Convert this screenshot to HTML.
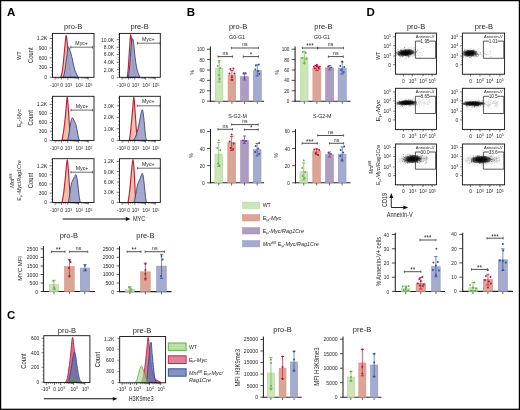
<!DOCTYPE html>
<html><head><meta charset="utf-8"><style>
html,body{margin:0;padding:0;background:#fff;}
svg{display:block;font-family:"Liberation Sans", sans-serif;will-change:transform;}
text{stroke:none;}
</style></head><body>
<svg width="520" height="410" viewBox="0 0 520 410">
<rect width="520" height="410" fill="#fff"/>
<rect x="0.60" y="0.60" width="518.80" height="408.70" fill="none" stroke="#000" stroke-width="1.25" />
<text x="7.00" y="16.40" font-size="11.5" text-anchor="start" fill="#000" font-weight="bold" >A</text>
<text x="186.80" y="16.40" font-size="11.5" text-anchor="start" fill="#000" font-weight="bold" >B</text>
<text x="366.60" y="16.40" font-size="11.5" text-anchor="start" fill="#000" font-weight="bold" >D</text>
<text x="7.10" y="319.40" font-size="11.5" text-anchor="start" fill="#000" font-weight="bold" >C</text>
<text x="73.20" y="28.70" font-size="7.5" text-anchor="middle" fill="#231f20" >pro-B</text>
<text x="139.60" y="28.70" font-size="7.5" text-anchor="middle" fill="#231f20" >pre-B</text>
<text x="47.10" y="40.30" font-size="5.0" text-anchor="end" fill="#231f20" >1.2K</text>
<line x1="49.70" y1="38.50" x2="52.50" y2="38.50" stroke="#231f20" stroke-width="0.65" />
<text x="47.10" y="49.80" font-size="5.0" text-anchor="end" fill="#231f20" >900</text>
<line x1="49.70" y1="48.00" x2="52.50" y2="48.00" stroke="#231f20" stroke-width="0.65" />
<text x="47.10" y="59.60" font-size="5.0" text-anchor="end" fill="#231f20" >600</text>
<line x1="49.70" y1="57.80" x2="52.50" y2="57.80" stroke="#231f20" stroke-width="0.65" />
<text x="47.10" y="69.30" font-size="5.0" text-anchor="end" fill="#231f20" >300</text>
<line x1="49.70" y1="67.50" x2="52.50" y2="67.50" stroke="#231f20" stroke-width="0.65" />
<text x="47.10" y="79.10" font-size="5.0" text-anchor="end" fill="#231f20" >0</text>
<line x1="49.70" y1="77.30" x2="52.50" y2="77.30" stroke="#231f20" stroke-width="0.65" />
<line x1="51.00" y1="74.07" x2="52.50" y2="74.07" stroke="#231f20" stroke-width="0.5" />
<line x1="51.00" y1="70.83" x2="52.50" y2="70.83" stroke="#231f20" stroke-width="0.5" />
<line x1="51.00" y1="64.37" x2="52.50" y2="64.37" stroke="#231f20" stroke-width="0.5" />
<line x1="51.00" y1="61.13" x2="52.50" y2="61.13" stroke="#231f20" stroke-width="0.5" />
<line x1="51.00" y1="54.67" x2="52.50" y2="54.67" stroke="#231f20" stroke-width="0.5" />
<line x1="51.00" y1="51.43" x2="52.50" y2="51.43" stroke="#231f20" stroke-width="0.5" />
<line x1="51.00" y1="44.97" x2="52.50" y2="44.97" stroke="#231f20" stroke-width="0.5" />
<line x1="51.00" y1="41.73" x2="52.50" y2="41.73" stroke="#231f20" stroke-width="0.5" />
<line x1="51.00" y1="35.27" x2="52.50" y2="35.27" stroke="#231f20" stroke-width="0.5" />
<text x="54.50" y="87.20" font-size="4.8" text-anchor="middle" fill="#231f20" >-10<tspan font-size="70%" dy="-1.6">3</tspan></text>
<text x="61.60" y="87.20" font-size="4.8" text-anchor="middle" fill="#231f20" >0</text>
<text x="68.40" y="87.20" font-size="4.8" text-anchor="middle" fill="#231f20" >10<tspan font-size="70%" dy="-1.6">3</tspan></text>
<text x="79.15" y="87.20" font-size="4.8" text-anchor="middle" fill="#231f20" >10<tspan font-size="70%" dy="-1.6">4</tspan></text>
<text x="88.80" y="87.20" font-size="4.8" text-anchor="middle" fill="#231f20" >10<tspan font-size="70%" dy="-1.6">5</tspan></text>
<line x1="55.10" y1="77.30" x2="55.10" y2="79.60" stroke="#231f20" stroke-width="0.65" />
<line x1="61.60" y1="77.30" x2="61.60" y2="79.60" stroke="#231f20" stroke-width="0.65" />
<line x1="67.80" y1="77.30" x2="67.80" y2="79.60" stroke="#231f20" stroke-width="0.65" />
<line x1="78.55" y1="77.30" x2="78.55" y2="79.60" stroke="#231f20" stroke-width="0.65" />
<line x1="88.20" y1="77.30" x2="88.20" y2="79.60" stroke="#231f20" stroke-width="0.65" />
<line x1="56.73" y1="77.30" x2="56.73" y2="78.70" stroke="#231f20" stroke-width="0.45" />
<line x1="58.35" y1="77.30" x2="58.35" y2="78.70" stroke="#231f20" stroke-width="0.45" />
<line x1="59.98" y1="77.30" x2="59.98" y2="78.70" stroke="#231f20" stroke-width="0.45" />
<line x1="63.65" y1="77.30" x2="63.65" y2="78.70" stroke="#231f20" stroke-width="0.45" />
<line x1="65.69" y1="77.30" x2="65.69" y2="78.70" stroke="#231f20" stroke-width="0.45" />
<line x1="71.04" y1="77.30" x2="71.04" y2="78.70" stroke="#231f20" stroke-width="0.45" />
<line x1="72.93" y1="77.30" x2="72.93" y2="78.70" stroke="#231f20" stroke-width="0.45" />
<line x1="74.27" y1="77.30" x2="74.27" y2="78.70" stroke="#231f20" stroke-width="0.45" />
<line x1="75.31" y1="77.30" x2="75.31" y2="78.70" stroke="#231f20" stroke-width="0.45" />
<line x1="76.17" y1="77.30" x2="76.17" y2="78.70" stroke="#231f20" stroke-width="0.45" />
<line x1="76.88" y1="77.30" x2="76.88" y2="78.70" stroke="#231f20" stroke-width="0.45" />
<line x1="77.51" y1="77.30" x2="77.51" y2="78.70" stroke="#231f20" stroke-width="0.45" />
<line x1="78.06" y1="77.30" x2="78.06" y2="78.70" stroke="#231f20" stroke-width="0.45" />
<line x1="81.45" y1="77.30" x2="81.45" y2="78.70" stroke="#231f20" stroke-width="0.45" />
<line x1="83.15" y1="77.30" x2="83.15" y2="78.70" stroke="#231f20" stroke-width="0.45" />
<line x1="84.36" y1="77.30" x2="84.36" y2="78.70" stroke="#231f20" stroke-width="0.45" />
<line x1="85.30" y1="77.30" x2="85.30" y2="78.70" stroke="#231f20" stroke-width="0.45" />
<line x1="86.06" y1="77.30" x2="86.06" y2="78.70" stroke="#231f20" stroke-width="0.45" />
<line x1="86.71" y1="77.30" x2="86.71" y2="78.70" stroke="#231f20" stroke-width="0.45" />
<line x1="87.26" y1="77.30" x2="87.26" y2="78.70" stroke="#231f20" stroke-width="0.45" />
<line x1="87.76" y1="77.30" x2="87.76" y2="78.70" stroke="#231f20" stroke-width="0.45" />
<path d="M60.80,77.30 C61.08,76.08 61.97,73.55 62.50,70.00 C63.03,66.45 63.55,60.50 64.00,56.00 C64.45,51.50 64.87,46.40 65.20,43.00 C65.53,39.60 65.72,36.10 66.00,35.60 C66.28,35.10 66.60,37.77 66.90,40.00 C67.20,42.23 67.48,45.50 67.80,49.00 C68.12,52.50 68.43,57.17 68.80,61.00 C69.17,64.83 69.55,69.28 70.00,72.00 C70.45,74.72 71.25,76.42 71.50,77.30 Z" fill="#f1c0a6" stroke="#be1e3c" stroke-width="1.15" fill-opacity="1.0" stroke-linejoin="round"/>
<path d="M63.30,77.30 C63.55,76.25 64.30,73.88 64.80,71.00 C65.30,68.12 65.83,63.50 66.30,60.00 C66.77,56.50 67.27,52.20 67.60,50.00 C67.93,47.80 67.98,46.97 68.30,46.80 C68.62,46.63 69.05,47.80 69.50,49.00 C69.95,50.20 70.53,52.33 71.00,54.00 C71.47,55.67 71.88,57.17 72.30,59.00 C72.72,60.83 73.05,63.08 73.50,65.00 C73.95,66.92 74.50,69.00 75.00,70.50 C75.50,72.00 75.97,72.87 76.50,74.00 C77.03,75.13 77.92,76.75 78.20,77.30 Z" fill="#9da1c8" stroke="#2f4586" stroke-width="0.9" fill-opacity="0.92" stroke-linejoin="round"/>
<rect x="52.50" y="33.40" width="41.50" height="43.90" fill="none" stroke="#111" stroke-width="0.9" />
<line x1="70.80" y1="47.20" x2="92.60" y2="47.20" stroke="#333" stroke-width="0.7" />
<line x1="70.80" y1="45.90" x2="70.80" y2="48.50" stroke="#333" stroke-width="0.7" />
<line x1="92.60" y1="45.90" x2="92.60" y2="48.50" stroke="#333" stroke-width="0.7" />
<text x="81.60" y="44.77" font-size="5.2" text-anchor="middle" fill="#231f20" >Myc+</text>
<text x="114.10" y="41.50" font-size="5.0" text-anchor="end" fill="#231f20" >10.0K</text>
<line x1="116.70" y1="39.70" x2="119.50" y2="39.70" stroke="#231f20" stroke-width="0.65" />
<text x="114.10" y="49.00" font-size="5.0" text-anchor="end" fill="#231f20" >8.0K</text>
<line x1="116.70" y1="47.20" x2="119.50" y2="47.20" stroke="#231f20" stroke-width="0.65" />
<text x="114.10" y="56.40" font-size="5.0" text-anchor="end" fill="#231f20" >6.0K</text>
<line x1="116.70" y1="54.60" x2="119.50" y2="54.60" stroke="#231f20" stroke-width="0.65" />
<text x="114.10" y="64.00" font-size="5.0" text-anchor="end" fill="#231f20" >4.0K</text>
<line x1="116.70" y1="62.20" x2="119.50" y2="62.20" stroke="#231f20" stroke-width="0.65" />
<text x="114.10" y="71.50" font-size="5.0" text-anchor="end" fill="#231f20" >2.0K</text>
<line x1="116.70" y1="69.70" x2="119.50" y2="69.70" stroke="#231f20" stroke-width="0.65" />
<text x="114.10" y="79.10" font-size="5.0" text-anchor="end" fill="#231f20" >0</text>
<line x1="116.70" y1="77.30" x2="119.50" y2="77.30" stroke="#231f20" stroke-width="0.65" />
<line x1="118.00" y1="74.79" x2="119.50" y2="74.79" stroke="#231f20" stroke-width="0.5" />
<line x1="118.00" y1="72.29" x2="119.50" y2="72.29" stroke="#231f20" stroke-width="0.5" />
<line x1="118.00" y1="67.27" x2="119.50" y2="67.27" stroke="#231f20" stroke-width="0.5" />
<line x1="118.00" y1="64.77" x2="119.50" y2="64.77" stroke="#231f20" stroke-width="0.5" />
<line x1="118.00" y1="59.75" x2="119.50" y2="59.75" stroke="#231f20" stroke-width="0.5" />
<line x1="118.00" y1="57.25" x2="119.50" y2="57.25" stroke="#231f20" stroke-width="0.5" />
<line x1="118.00" y1="52.23" x2="119.50" y2="52.23" stroke="#231f20" stroke-width="0.5" />
<line x1="118.00" y1="49.73" x2="119.50" y2="49.73" stroke="#231f20" stroke-width="0.5" />
<line x1="118.00" y1="44.71" x2="119.50" y2="44.71" stroke="#231f20" stroke-width="0.5" />
<line x1="118.00" y1="42.21" x2="119.50" y2="42.21" stroke="#231f20" stroke-width="0.5" />
<line x1="118.00" y1="37.19" x2="119.50" y2="37.19" stroke="#231f20" stroke-width="0.5" />
<line x1="118.00" y1="34.69" x2="119.50" y2="34.69" stroke="#231f20" stroke-width="0.5" />
<text x="121.50" y="87.20" font-size="4.8" text-anchor="middle" fill="#231f20" >-10<tspan font-size="70%" dy="-1.6">3</tspan></text>
<text x="128.60" y="87.20" font-size="4.8" text-anchor="middle" fill="#231f20" >0</text>
<text x="135.40" y="87.20" font-size="4.8" text-anchor="middle" fill="#231f20" >10<tspan font-size="70%" dy="-1.6">3</tspan></text>
<text x="146.15" y="87.20" font-size="4.8" text-anchor="middle" fill="#231f20" >10<tspan font-size="70%" dy="-1.6">4</tspan></text>
<text x="155.80" y="87.20" font-size="4.8" text-anchor="middle" fill="#231f20" >10<tspan font-size="70%" dy="-1.6">5</tspan></text>
<line x1="122.10" y1="77.30" x2="122.10" y2="79.60" stroke="#231f20" stroke-width="0.65" />
<line x1="128.60" y1="77.30" x2="128.60" y2="79.60" stroke="#231f20" stroke-width="0.65" />
<line x1="134.80" y1="77.30" x2="134.80" y2="79.60" stroke="#231f20" stroke-width="0.65" />
<line x1="145.55" y1="77.30" x2="145.55" y2="79.60" stroke="#231f20" stroke-width="0.65" />
<line x1="155.20" y1="77.30" x2="155.20" y2="79.60" stroke="#231f20" stroke-width="0.65" />
<line x1="123.72" y1="77.30" x2="123.72" y2="78.70" stroke="#231f20" stroke-width="0.45" />
<line x1="125.35" y1="77.30" x2="125.35" y2="78.70" stroke="#231f20" stroke-width="0.45" />
<line x1="126.97" y1="77.30" x2="126.97" y2="78.70" stroke="#231f20" stroke-width="0.45" />
<line x1="130.65" y1="77.30" x2="130.65" y2="78.70" stroke="#231f20" stroke-width="0.45" />
<line x1="132.69" y1="77.30" x2="132.69" y2="78.70" stroke="#231f20" stroke-width="0.45" />
<line x1="138.04" y1="77.30" x2="138.04" y2="78.70" stroke="#231f20" stroke-width="0.45" />
<line x1="139.93" y1="77.30" x2="139.93" y2="78.70" stroke="#231f20" stroke-width="0.45" />
<line x1="141.27" y1="77.30" x2="141.27" y2="78.70" stroke="#231f20" stroke-width="0.45" />
<line x1="142.31" y1="77.30" x2="142.31" y2="78.70" stroke="#231f20" stroke-width="0.45" />
<line x1="143.17" y1="77.30" x2="143.17" y2="78.70" stroke="#231f20" stroke-width="0.45" />
<line x1="143.88" y1="77.30" x2="143.88" y2="78.70" stroke="#231f20" stroke-width="0.45" />
<line x1="144.51" y1="77.30" x2="144.51" y2="78.70" stroke="#231f20" stroke-width="0.45" />
<line x1="145.06" y1="77.30" x2="145.06" y2="78.70" stroke="#231f20" stroke-width="0.45" />
<line x1="148.45" y1="77.30" x2="148.45" y2="78.70" stroke="#231f20" stroke-width="0.45" />
<line x1="150.15" y1="77.30" x2="150.15" y2="78.70" stroke="#231f20" stroke-width="0.45" />
<line x1="151.36" y1="77.30" x2="151.36" y2="78.70" stroke="#231f20" stroke-width="0.45" />
<line x1="152.30" y1="77.30" x2="152.30" y2="78.70" stroke="#231f20" stroke-width="0.45" />
<line x1="153.06" y1="77.30" x2="153.06" y2="78.70" stroke="#231f20" stroke-width="0.45" />
<line x1="153.71" y1="77.30" x2="153.71" y2="78.70" stroke="#231f20" stroke-width="0.45" />
<line x1="154.26" y1="77.30" x2="154.26" y2="78.70" stroke="#231f20" stroke-width="0.45" />
<line x1="154.76" y1="77.30" x2="154.76" y2="78.70" stroke="#231f20" stroke-width="0.45" />
<path d="M127.30,77.30 C127.47,75.75 127.97,72.22 128.30,68.00 C128.63,63.78 129.00,56.67 129.30,52.00 C129.60,47.33 129.87,42.90 130.10,40.00 C130.33,37.10 130.47,34.60 130.70,34.60 C130.93,34.60 131.20,36.60 131.50,40.00 C131.80,43.40 132.12,50.33 132.50,55.00 C132.88,59.67 133.30,64.28 133.80,68.00 C134.30,71.72 135.22,75.75 135.50,77.30 Z" fill="#f1c0a6" stroke="#be1e3c" stroke-width="1.15" fill-opacity="1.0" stroke-linejoin="round"/>
<path d="M128.30,77.30 C128.50,75.75 129.12,71.88 129.50,68.00 C129.88,64.12 130.25,58.33 130.60,54.00 C130.95,49.67 131.28,44.57 131.60,42.00 C131.92,39.43 132.20,38.77 132.50,38.60 C132.80,38.43 133.07,38.77 133.40,41.00 C133.73,43.23 134.07,48.17 134.50,52.00 C134.93,55.83 135.45,60.67 136.00,64.00 C136.55,67.33 137.13,69.78 137.80,72.00 C138.47,74.22 139.63,76.42 140.00,77.30 Z" fill="#9da1c8" stroke="#2f4586" stroke-width="0.9" fill-opacity="0.92" stroke-linejoin="round"/>
<rect x="119.50" y="33.40" width="40.80" height="43.90" fill="none" stroke="#111" stroke-width="0.9" />
<line x1="137.40" y1="43.20" x2="160.10" y2="43.20" stroke="#333" stroke-width="0.7" />
<line x1="137.40" y1="41.90" x2="137.40" y2="44.50" stroke="#333" stroke-width="0.7" />
<line x1="160.10" y1="41.90" x2="160.10" y2="44.50" stroke="#333" stroke-width="0.7" />
<text x="148.30" y="40.87" font-size="5.2" text-anchor="middle" fill="#231f20" >Myc+</text>
<text x="47.10" y="106.40" font-size="5.0" text-anchor="end" fill="#231f20" >1.2K</text>
<line x1="49.70" y1="104.60" x2="52.50" y2="104.60" stroke="#231f20" stroke-width="0.65" />
<text x="47.10" y="115.20" font-size="5.0" text-anchor="end" fill="#231f20" >900</text>
<line x1="49.70" y1="113.40" x2="52.50" y2="113.40" stroke="#231f20" stroke-width="0.65" />
<text x="47.10" y="124.30" font-size="5.0" text-anchor="end" fill="#231f20" >600</text>
<line x1="49.70" y1="122.50" x2="52.50" y2="122.50" stroke="#231f20" stroke-width="0.65" />
<text x="47.10" y="133.00" font-size="5.0" text-anchor="end" fill="#231f20" >300</text>
<line x1="49.70" y1="131.20" x2="52.50" y2="131.20" stroke="#231f20" stroke-width="0.65" />
<text x="47.10" y="142.20" font-size="5.0" text-anchor="end" fill="#231f20" >0</text>
<line x1="49.70" y1="140.40" x2="52.50" y2="140.40" stroke="#231f20" stroke-width="0.65" />
<line x1="51.00" y1="137.42" x2="52.50" y2="137.42" stroke="#231f20" stroke-width="0.5" />
<line x1="51.00" y1="134.43" x2="52.50" y2="134.43" stroke="#231f20" stroke-width="0.5" />
<line x1="51.00" y1="128.47" x2="52.50" y2="128.47" stroke="#231f20" stroke-width="0.5" />
<line x1="51.00" y1="125.48" x2="52.50" y2="125.48" stroke="#231f20" stroke-width="0.5" />
<line x1="51.00" y1="119.52" x2="52.50" y2="119.52" stroke="#231f20" stroke-width="0.5" />
<line x1="51.00" y1="116.53" x2="52.50" y2="116.53" stroke="#231f20" stroke-width="0.5" />
<line x1="51.00" y1="110.57" x2="52.50" y2="110.57" stroke="#231f20" stroke-width="0.5" />
<line x1="51.00" y1="107.58" x2="52.50" y2="107.58" stroke="#231f20" stroke-width="0.5" />
<line x1="51.00" y1="101.62" x2="52.50" y2="101.62" stroke="#231f20" stroke-width="0.5" />
<line x1="51.00" y1="98.63" x2="52.50" y2="98.63" stroke="#231f20" stroke-width="0.5" />
<text x="54.50" y="150.30" font-size="4.8" text-anchor="middle" fill="#231f20" >-10<tspan font-size="70%" dy="-1.6">3</tspan></text>
<text x="61.60" y="150.30" font-size="4.8" text-anchor="middle" fill="#231f20" >0</text>
<text x="68.40" y="150.30" font-size="4.8" text-anchor="middle" fill="#231f20" >10<tspan font-size="70%" dy="-1.6">3</tspan></text>
<text x="79.15" y="150.30" font-size="4.8" text-anchor="middle" fill="#231f20" >10<tspan font-size="70%" dy="-1.6">4</tspan></text>
<text x="88.80" y="150.30" font-size="4.8" text-anchor="middle" fill="#231f20" >10<tspan font-size="70%" dy="-1.6">5</tspan></text>
<line x1="55.10" y1="140.40" x2="55.10" y2="142.70" stroke="#231f20" stroke-width="0.65" />
<line x1="61.60" y1="140.40" x2="61.60" y2="142.70" stroke="#231f20" stroke-width="0.65" />
<line x1="67.80" y1="140.40" x2="67.80" y2="142.70" stroke="#231f20" stroke-width="0.65" />
<line x1="78.55" y1="140.40" x2="78.55" y2="142.70" stroke="#231f20" stroke-width="0.65" />
<line x1="88.20" y1="140.40" x2="88.20" y2="142.70" stroke="#231f20" stroke-width="0.65" />
<line x1="56.73" y1="140.40" x2="56.73" y2="141.80" stroke="#231f20" stroke-width="0.45" />
<line x1="58.35" y1="140.40" x2="58.35" y2="141.80" stroke="#231f20" stroke-width="0.45" />
<line x1="59.98" y1="140.40" x2="59.98" y2="141.80" stroke="#231f20" stroke-width="0.45" />
<line x1="63.65" y1="140.40" x2="63.65" y2="141.80" stroke="#231f20" stroke-width="0.45" />
<line x1="65.69" y1="140.40" x2="65.69" y2="141.80" stroke="#231f20" stroke-width="0.45" />
<line x1="71.04" y1="140.40" x2="71.04" y2="141.80" stroke="#231f20" stroke-width="0.45" />
<line x1="72.93" y1="140.40" x2="72.93" y2="141.80" stroke="#231f20" stroke-width="0.45" />
<line x1="74.27" y1="140.40" x2="74.27" y2="141.80" stroke="#231f20" stroke-width="0.45" />
<line x1="75.31" y1="140.40" x2="75.31" y2="141.80" stroke="#231f20" stroke-width="0.45" />
<line x1="76.17" y1="140.40" x2="76.17" y2="141.80" stroke="#231f20" stroke-width="0.45" />
<line x1="76.88" y1="140.40" x2="76.88" y2="141.80" stroke="#231f20" stroke-width="0.45" />
<line x1="77.51" y1="140.40" x2="77.51" y2="141.80" stroke="#231f20" stroke-width="0.45" />
<line x1="78.06" y1="140.40" x2="78.06" y2="141.80" stroke="#231f20" stroke-width="0.45" />
<line x1="81.45" y1="140.40" x2="81.45" y2="141.80" stroke="#231f20" stroke-width="0.45" />
<line x1="83.15" y1="140.40" x2="83.15" y2="141.80" stroke="#231f20" stroke-width="0.45" />
<line x1="84.36" y1="140.40" x2="84.36" y2="141.80" stroke="#231f20" stroke-width="0.45" />
<line x1="85.30" y1="140.40" x2="85.30" y2="141.80" stroke="#231f20" stroke-width="0.45" />
<line x1="86.06" y1="140.40" x2="86.06" y2="141.80" stroke="#231f20" stroke-width="0.45" />
<line x1="86.71" y1="140.40" x2="86.71" y2="141.80" stroke="#231f20" stroke-width="0.45" />
<line x1="87.26" y1="140.40" x2="87.26" y2="141.80" stroke="#231f20" stroke-width="0.45" />
<line x1="87.76" y1="140.40" x2="87.76" y2="141.80" stroke="#231f20" stroke-width="0.45" />
<path d="M62.00,140.40 C62.25,139.00 63.00,135.40 63.50,132.00 C64.00,128.60 64.53,124.33 65.00,120.00 C65.47,115.67 65.93,109.80 66.30,106.00 C66.67,102.20 66.92,97.53 67.20,97.20 C67.48,96.87 67.73,100.87 68.00,104.00 C68.27,107.13 68.53,112.00 68.80,116.00 C69.07,120.00 69.30,123.93 69.60,128.00 C69.90,132.07 70.43,138.33 70.60,140.40 Z" fill="#f1c0a6" stroke="#be1e3c" stroke-width="1.15" fill-opacity="1.0" stroke-linejoin="round"/>
<path d="M67.50,140.40 C67.67,139.67 68.17,137.73 68.50,136.00 C68.83,134.27 69.17,132.00 69.50,130.00 C69.83,128.00 70.17,125.75 70.50,124.00 C70.83,122.25 71.20,120.55 71.50,119.50 C71.80,118.45 72.00,117.78 72.30,117.70 C72.60,117.62 72.90,118.33 73.30,119.00 C73.70,119.67 74.25,120.70 74.70,121.70 C75.15,122.70 75.58,123.45 76.00,125.00 C76.42,126.55 76.82,129.00 77.20,131.00 C77.58,133.00 77.93,135.43 78.30,137.00 C78.67,138.57 79.22,139.83 79.40,140.40 Z" fill="#9da1c8" stroke="#2f4586" stroke-width="0.9" fill-opacity="0.92" stroke-linejoin="round"/>
<rect x="52.50" y="96.30" width="41.50" height="44.10" fill="none" stroke="#111" stroke-width="0.9" />
<line x1="71.00" y1="110.10" x2="92.60" y2="110.10" stroke="#333" stroke-width="0.7" />
<line x1="71.00" y1="108.80" x2="71.00" y2="111.40" stroke="#333" stroke-width="0.7" />
<line x1="92.60" y1="108.80" x2="92.60" y2="111.40" stroke="#333" stroke-width="0.7" />
<text x="82.00" y="107.67" font-size="5.2" text-anchor="middle" fill="#231f20" >Myc+</text>
<text x="114.10" y="107.60" font-size="5.0" text-anchor="end" fill="#231f20" >3.0K</text>
<line x1="116.70" y1="105.80" x2="119.50" y2="105.80" stroke="#231f20" stroke-width="0.65" />
<text x="114.10" y="119.20" font-size="5.0" text-anchor="end" fill="#231f20" >2.0K</text>
<line x1="116.70" y1="117.40" x2="119.50" y2="117.40" stroke="#231f20" stroke-width="0.65" />
<text x="114.10" y="130.60" font-size="5.0" text-anchor="end" fill="#231f20" >1.0K</text>
<line x1="116.70" y1="128.80" x2="119.50" y2="128.80" stroke="#231f20" stroke-width="0.65" />
<text x="114.10" y="142.20" font-size="5.0" text-anchor="end" fill="#231f20" >0</text>
<line x1="116.70" y1="140.40" x2="119.50" y2="140.40" stroke="#231f20" stroke-width="0.65" />
<line x1="118.00" y1="136.56" x2="119.50" y2="136.56" stroke="#231f20" stroke-width="0.5" />
<line x1="118.00" y1="132.71" x2="119.50" y2="132.71" stroke="#231f20" stroke-width="0.5" />
<line x1="118.00" y1="125.02" x2="119.50" y2="125.02" stroke="#231f20" stroke-width="0.5" />
<line x1="118.00" y1="121.18" x2="119.50" y2="121.18" stroke="#231f20" stroke-width="0.5" />
<line x1="118.00" y1="113.49" x2="119.50" y2="113.49" stroke="#231f20" stroke-width="0.5" />
<line x1="118.00" y1="109.64" x2="119.50" y2="109.64" stroke="#231f20" stroke-width="0.5" />
<line x1="118.00" y1="101.96" x2="119.50" y2="101.96" stroke="#231f20" stroke-width="0.5" />
<line x1="118.00" y1="98.11" x2="119.50" y2="98.11" stroke="#231f20" stroke-width="0.5" />
<text x="121.50" y="150.30" font-size="4.8" text-anchor="middle" fill="#231f20" >-10<tspan font-size="70%" dy="-1.6">3</tspan></text>
<text x="128.60" y="150.30" font-size="4.8" text-anchor="middle" fill="#231f20" >0</text>
<text x="135.40" y="150.30" font-size="4.8" text-anchor="middle" fill="#231f20" >10<tspan font-size="70%" dy="-1.6">3</tspan></text>
<text x="146.15" y="150.30" font-size="4.8" text-anchor="middle" fill="#231f20" >10<tspan font-size="70%" dy="-1.6">4</tspan></text>
<text x="155.80" y="150.30" font-size="4.8" text-anchor="middle" fill="#231f20" >10<tspan font-size="70%" dy="-1.6">5</tspan></text>
<line x1="122.10" y1="140.40" x2="122.10" y2="142.70" stroke="#231f20" stroke-width="0.65" />
<line x1="128.60" y1="140.40" x2="128.60" y2="142.70" stroke="#231f20" stroke-width="0.65" />
<line x1="134.80" y1="140.40" x2="134.80" y2="142.70" stroke="#231f20" stroke-width="0.65" />
<line x1="145.55" y1="140.40" x2="145.55" y2="142.70" stroke="#231f20" stroke-width="0.65" />
<line x1="155.20" y1="140.40" x2="155.20" y2="142.70" stroke="#231f20" stroke-width="0.65" />
<line x1="123.72" y1="140.40" x2="123.72" y2="141.80" stroke="#231f20" stroke-width="0.45" />
<line x1="125.35" y1="140.40" x2="125.35" y2="141.80" stroke="#231f20" stroke-width="0.45" />
<line x1="126.97" y1="140.40" x2="126.97" y2="141.80" stroke="#231f20" stroke-width="0.45" />
<line x1="130.65" y1="140.40" x2="130.65" y2="141.80" stroke="#231f20" stroke-width="0.45" />
<line x1="132.69" y1="140.40" x2="132.69" y2="141.80" stroke="#231f20" stroke-width="0.45" />
<line x1="138.04" y1="140.40" x2="138.04" y2="141.80" stroke="#231f20" stroke-width="0.45" />
<line x1="139.93" y1="140.40" x2="139.93" y2="141.80" stroke="#231f20" stroke-width="0.45" />
<line x1="141.27" y1="140.40" x2="141.27" y2="141.80" stroke="#231f20" stroke-width="0.45" />
<line x1="142.31" y1="140.40" x2="142.31" y2="141.80" stroke="#231f20" stroke-width="0.45" />
<line x1="143.17" y1="140.40" x2="143.17" y2="141.80" stroke="#231f20" stroke-width="0.45" />
<line x1="143.88" y1="140.40" x2="143.88" y2="141.80" stroke="#231f20" stroke-width="0.45" />
<line x1="144.51" y1="140.40" x2="144.51" y2="141.80" stroke="#231f20" stroke-width="0.45" />
<line x1="145.06" y1="140.40" x2="145.06" y2="141.80" stroke="#231f20" stroke-width="0.45" />
<line x1="148.45" y1="140.40" x2="148.45" y2="141.80" stroke="#231f20" stroke-width="0.45" />
<line x1="150.15" y1="140.40" x2="150.15" y2="141.80" stroke="#231f20" stroke-width="0.45" />
<line x1="151.36" y1="140.40" x2="151.36" y2="141.80" stroke="#231f20" stroke-width="0.45" />
<line x1="152.30" y1="140.40" x2="152.30" y2="141.80" stroke="#231f20" stroke-width="0.45" />
<line x1="153.06" y1="140.40" x2="153.06" y2="141.80" stroke="#231f20" stroke-width="0.45" />
<line x1="153.71" y1="140.40" x2="153.71" y2="141.80" stroke="#231f20" stroke-width="0.45" />
<line x1="154.26" y1="140.40" x2="154.26" y2="141.80" stroke="#231f20" stroke-width="0.45" />
<line x1="154.76" y1="140.40" x2="154.76" y2="141.80" stroke="#231f20" stroke-width="0.45" />
<path d="M129.30,140.40 C129.47,139.33 129.97,136.73 130.30,134.00 C130.63,131.27 130.92,128.00 131.30,124.00 C131.68,120.00 132.18,114.45 132.60,110.00 C133.02,105.55 133.43,97.63 133.80,97.30 C134.17,96.97 134.47,103.88 134.80,108.00 C135.13,112.12 135.50,118.00 135.80,122.00 C136.10,126.00 136.32,128.93 136.60,132.00 C136.88,135.07 137.35,139.00 137.50,140.40 Z" fill="#f1c0a6" stroke="#be1e3c" stroke-width="1.15" fill-opacity="1.0" stroke-linejoin="round"/>
<path d="M133.30,140.40 C133.67,139.83 134.80,138.57 135.50,137.00 C136.20,135.43 136.88,133.33 137.50,131.00 C138.12,128.67 138.67,125.67 139.20,123.00 C139.73,120.33 140.20,117.20 140.70,115.00 C141.20,112.80 141.77,109.97 142.20,109.80 C142.63,109.63 142.95,111.80 143.30,114.00 C143.65,116.20 143.98,119.83 144.30,123.00 C144.62,126.17 144.92,130.42 145.20,133.00 C145.48,135.58 145.73,137.27 146.00,138.50 C146.27,139.73 146.67,140.08 146.80,140.40 Z" fill="#9da1c8" stroke="#2f4586" stroke-width="0.9" fill-opacity="0.92" stroke-linejoin="round"/>
<rect x="119.50" y="96.30" width="40.80" height="44.10" fill="none" stroke="#111" stroke-width="0.9" />
<line x1="137.20" y1="105.80" x2="160.10" y2="105.80" stroke="#333" stroke-width="0.7" />
<line x1="137.20" y1="104.50" x2="137.20" y2="107.10" stroke="#333" stroke-width="0.7" />
<line x1="160.10" y1="104.50" x2="160.10" y2="107.10" stroke="#333" stroke-width="0.7" />
<text x="148.30" y="103.27" font-size="5.2" text-anchor="middle" fill="#231f20" >Myc+</text>
<text x="47.10" y="167.60" font-size="5.0" text-anchor="end" fill="#231f20" >1.2K</text>
<line x1="49.70" y1="165.80" x2="52.50" y2="165.80" stroke="#231f20" stroke-width="0.65" />
<text x="47.10" y="176.70" font-size="5.0" text-anchor="end" fill="#231f20" >900</text>
<line x1="49.70" y1="174.90" x2="52.50" y2="174.90" stroke="#231f20" stroke-width="0.65" />
<text x="47.10" y="185.80" font-size="5.0" text-anchor="end" fill="#231f20" >600</text>
<line x1="49.70" y1="184.00" x2="52.50" y2="184.00" stroke="#231f20" stroke-width="0.65" />
<text x="47.10" y="194.90" font-size="5.0" text-anchor="end" fill="#231f20" >300</text>
<line x1="49.70" y1="193.10" x2="52.50" y2="193.10" stroke="#231f20" stroke-width="0.65" />
<text x="47.10" y="204.10" font-size="5.0" text-anchor="end" fill="#231f20" >0</text>
<line x1="49.70" y1="202.30" x2="52.50" y2="202.30" stroke="#231f20" stroke-width="0.65" />
<line x1="51.00" y1="199.26" x2="52.50" y2="199.26" stroke="#231f20" stroke-width="0.5" />
<line x1="51.00" y1="196.22" x2="52.50" y2="196.22" stroke="#231f20" stroke-width="0.5" />
<line x1="51.00" y1="190.13" x2="52.50" y2="190.13" stroke="#231f20" stroke-width="0.5" />
<line x1="51.00" y1="187.09" x2="52.50" y2="187.09" stroke="#231f20" stroke-width="0.5" />
<line x1="51.00" y1="181.01" x2="52.50" y2="181.01" stroke="#231f20" stroke-width="0.5" />
<line x1="51.00" y1="177.97" x2="52.50" y2="177.97" stroke="#231f20" stroke-width="0.5" />
<line x1="51.00" y1="171.88" x2="52.50" y2="171.88" stroke="#231f20" stroke-width="0.5" />
<line x1="51.00" y1="168.84" x2="52.50" y2="168.84" stroke="#231f20" stroke-width="0.5" />
<line x1="51.00" y1="162.76" x2="52.50" y2="162.76" stroke="#231f20" stroke-width="0.5" />
<line x1="51.00" y1="159.72" x2="52.50" y2="159.72" stroke="#231f20" stroke-width="0.5" />
<text x="54.50" y="212.40" font-size="4.8" text-anchor="middle" fill="#231f20" >-10<tspan font-size="70%" dy="-1.6">3</tspan></text>
<text x="61.60" y="212.40" font-size="4.8" text-anchor="middle" fill="#231f20" >0</text>
<text x="68.40" y="212.40" font-size="4.8" text-anchor="middle" fill="#231f20" >10<tspan font-size="70%" dy="-1.6">3</tspan></text>
<text x="79.15" y="212.40" font-size="4.8" text-anchor="middle" fill="#231f20" >10<tspan font-size="70%" dy="-1.6">4</tspan></text>
<text x="88.80" y="212.40" font-size="4.8" text-anchor="middle" fill="#231f20" >10<tspan font-size="70%" dy="-1.6">5</tspan></text>
<line x1="55.10" y1="202.50" x2="55.10" y2="204.80" stroke="#231f20" stroke-width="0.65" />
<line x1="61.60" y1="202.50" x2="61.60" y2="204.80" stroke="#231f20" stroke-width="0.65" />
<line x1="67.80" y1="202.50" x2="67.80" y2="204.80" stroke="#231f20" stroke-width="0.65" />
<line x1="78.55" y1="202.50" x2="78.55" y2="204.80" stroke="#231f20" stroke-width="0.65" />
<line x1="88.20" y1="202.50" x2="88.20" y2="204.80" stroke="#231f20" stroke-width="0.65" />
<line x1="56.73" y1="202.50" x2="56.73" y2="203.90" stroke="#231f20" stroke-width="0.45" />
<line x1="58.35" y1="202.50" x2="58.35" y2="203.90" stroke="#231f20" stroke-width="0.45" />
<line x1="59.98" y1="202.50" x2="59.98" y2="203.90" stroke="#231f20" stroke-width="0.45" />
<line x1="63.65" y1="202.50" x2="63.65" y2="203.90" stroke="#231f20" stroke-width="0.45" />
<line x1="65.69" y1="202.50" x2="65.69" y2="203.90" stroke="#231f20" stroke-width="0.45" />
<line x1="71.04" y1="202.50" x2="71.04" y2="203.90" stroke="#231f20" stroke-width="0.45" />
<line x1="72.93" y1="202.50" x2="72.93" y2="203.90" stroke="#231f20" stroke-width="0.45" />
<line x1="74.27" y1="202.50" x2="74.27" y2="203.90" stroke="#231f20" stroke-width="0.45" />
<line x1="75.31" y1="202.50" x2="75.31" y2="203.90" stroke="#231f20" stroke-width="0.45" />
<line x1="76.17" y1="202.50" x2="76.17" y2="203.90" stroke="#231f20" stroke-width="0.45" />
<line x1="76.88" y1="202.50" x2="76.88" y2="203.90" stroke="#231f20" stroke-width="0.45" />
<line x1="77.51" y1="202.50" x2="77.51" y2="203.90" stroke="#231f20" stroke-width="0.45" />
<line x1="78.06" y1="202.50" x2="78.06" y2="203.90" stroke="#231f20" stroke-width="0.45" />
<line x1="81.45" y1="202.50" x2="81.45" y2="203.90" stroke="#231f20" stroke-width="0.45" />
<line x1="83.15" y1="202.50" x2="83.15" y2="203.90" stroke="#231f20" stroke-width="0.45" />
<line x1="84.36" y1="202.50" x2="84.36" y2="203.90" stroke="#231f20" stroke-width="0.45" />
<line x1="85.30" y1="202.50" x2="85.30" y2="203.90" stroke="#231f20" stroke-width="0.45" />
<line x1="86.06" y1="202.50" x2="86.06" y2="203.90" stroke="#231f20" stroke-width="0.45" />
<line x1="86.71" y1="202.50" x2="86.71" y2="203.90" stroke="#231f20" stroke-width="0.45" />
<line x1="87.26" y1="202.50" x2="87.26" y2="203.90" stroke="#231f20" stroke-width="0.45" />
<line x1="87.76" y1="202.50" x2="87.76" y2="203.90" stroke="#231f20" stroke-width="0.45" />
<path d="M62.00,202.50 C62.25,201.08 63.00,197.58 63.50,194.00 C64.00,190.42 64.53,185.50 65.00,181.00 C65.47,176.50 65.92,170.52 66.30,167.00 C66.68,163.48 67.00,160.07 67.30,159.90 C67.60,159.73 67.83,162.98 68.10,166.00 C68.37,169.02 68.63,174.00 68.90,178.00 C69.17,182.00 69.42,185.92 69.70,190.00 C69.98,194.08 70.45,200.42 70.60,202.50 Z" fill="#f1c0a6" stroke="#be1e3c" stroke-width="1.15" fill-opacity="1.0" stroke-linejoin="round"/>
<path d="M68.30,202.50 C68.47,201.58 68.97,199.08 69.30,197.00 C69.63,194.92 69.97,192.17 70.30,190.00 C70.63,187.83 70.97,185.50 71.30,184.00 C71.63,182.50 71.93,181.83 72.30,181.00 C72.67,180.17 73.10,179.75 73.50,179.00 C73.90,178.25 74.32,177.23 74.70,176.50 C75.08,175.77 75.45,174.52 75.80,174.60 C76.15,174.68 76.47,175.43 76.80,177.00 C77.13,178.57 77.47,181.33 77.80,184.00 C78.13,186.67 78.50,190.50 78.80,193.00 C79.10,195.50 79.33,197.42 79.60,199.00 C79.87,200.58 80.27,201.92 80.40,202.50 Z" fill="#9da1c8" stroke="#2f4586" stroke-width="0.9" fill-opacity="0.92" stroke-linejoin="round"/>
<rect x="52.50" y="158.70" width="41.50" height="43.80" fill="none" stroke="#111" stroke-width="0.9" />
<line x1="71.00" y1="172.20" x2="92.60" y2="172.20" stroke="#333" stroke-width="0.7" />
<line x1="71.00" y1="170.90" x2="71.00" y2="173.50" stroke="#333" stroke-width="0.7" />
<line x1="92.60" y1="170.90" x2="92.60" y2="173.50" stroke="#333" stroke-width="0.7" />
<text x="82.00" y="169.77" font-size="5.2" text-anchor="middle" fill="#231f20" >Myc+</text>
<text x="114.10" y="163.20" font-size="5.0" text-anchor="end" fill="#231f20" >1.2K</text>
<line x1="116.70" y1="161.40" x2="119.50" y2="161.40" stroke="#231f20" stroke-width="0.65" />
<text x="114.10" y="173.50" font-size="5.0" text-anchor="end" fill="#231f20" >9.0K</text>
<line x1="116.70" y1="171.70" x2="119.50" y2="171.70" stroke="#231f20" stroke-width="0.65" />
<text x="114.10" y="183.80" font-size="5.0" text-anchor="end" fill="#231f20" >6.0K</text>
<line x1="116.70" y1="182.00" x2="119.50" y2="182.00" stroke="#231f20" stroke-width="0.65" />
<text x="114.10" y="194.10" font-size="5.0" text-anchor="end" fill="#231f20" >3.0K</text>
<line x1="116.70" y1="192.30" x2="119.50" y2="192.30" stroke="#231f20" stroke-width="0.65" />
<text x="114.10" y="204.10" font-size="5.0" text-anchor="end" fill="#231f20" >0</text>
<line x1="116.70" y1="202.30" x2="119.50" y2="202.30" stroke="#231f20" stroke-width="0.65" />
<line x1="118.00" y1="198.89" x2="119.50" y2="198.89" stroke="#231f20" stroke-width="0.5" />
<line x1="118.00" y1="195.48" x2="119.50" y2="195.48" stroke="#231f20" stroke-width="0.5" />
<line x1="118.00" y1="188.67" x2="119.50" y2="188.67" stroke="#231f20" stroke-width="0.5" />
<line x1="118.00" y1="185.26" x2="119.50" y2="185.26" stroke="#231f20" stroke-width="0.5" />
<line x1="118.00" y1="178.44" x2="119.50" y2="178.44" stroke="#231f20" stroke-width="0.5" />
<line x1="118.00" y1="175.03" x2="119.50" y2="175.03" stroke="#231f20" stroke-width="0.5" />
<line x1="118.00" y1="168.22" x2="119.50" y2="168.22" stroke="#231f20" stroke-width="0.5" />
<line x1="118.00" y1="164.81" x2="119.50" y2="164.81" stroke="#231f20" stroke-width="0.5" />
<text x="121.50" y="212.40" font-size="4.8" text-anchor="middle" fill="#231f20" >-10<tspan font-size="70%" dy="-1.6">3</tspan></text>
<text x="128.60" y="212.40" font-size="4.8" text-anchor="middle" fill="#231f20" >0</text>
<text x="135.40" y="212.40" font-size="4.8" text-anchor="middle" fill="#231f20" >10<tspan font-size="70%" dy="-1.6">3</tspan></text>
<text x="146.15" y="212.40" font-size="4.8" text-anchor="middle" fill="#231f20" >10<tspan font-size="70%" dy="-1.6">4</tspan></text>
<text x="155.80" y="212.40" font-size="4.8" text-anchor="middle" fill="#231f20" >10<tspan font-size="70%" dy="-1.6">5</tspan></text>
<line x1="122.10" y1="202.50" x2="122.10" y2="204.80" stroke="#231f20" stroke-width="0.65" />
<line x1="128.60" y1="202.50" x2="128.60" y2="204.80" stroke="#231f20" stroke-width="0.65" />
<line x1="134.80" y1="202.50" x2="134.80" y2="204.80" stroke="#231f20" stroke-width="0.65" />
<line x1="145.55" y1="202.50" x2="145.55" y2="204.80" stroke="#231f20" stroke-width="0.65" />
<line x1="155.20" y1="202.50" x2="155.20" y2="204.80" stroke="#231f20" stroke-width="0.65" />
<line x1="123.72" y1="202.50" x2="123.72" y2="203.90" stroke="#231f20" stroke-width="0.45" />
<line x1="125.35" y1="202.50" x2="125.35" y2="203.90" stroke="#231f20" stroke-width="0.45" />
<line x1="126.97" y1="202.50" x2="126.97" y2="203.90" stroke="#231f20" stroke-width="0.45" />
<line x1="130.65" y1="202.50" x2="130.65" y2="203.90" stroke="#231f20" stroke-width="0.45" />
<line x1="132.69" y1="202.50" x2="132.69" y2="203.90" stroke="#231f20" stroke-width="0.45" />
<line x1="138.04" y1="202.50" x2="138.04" y2="203.90" stroke="#231f20" stroke-width="0.45" />
<line x1="139.93" y1="202.50" x2="139.93" y2="203.90" stroke="#231f20" stroke-width="0.45" />
<line x1="141.27" y1="202.50" x2="141.27" y2="203.90" stroke="#231f20" stroke-width="0.45" />
<line x1="142.31" y1="202.50" x2="142.31" y2="203.90" stroke="#231f20" stroke-width="0.45" />
<line x1="143.17" y1="202.50" x2="143.17" y2="203.90" stroke="#231f20" stroke-width="0.45" />
<line x1="143.88" y1="202.50" x2="143.88" y2="203.90" stroke="#231f20" stroke-width="0.45" />
<line x1="144.51" y1="202.50" x2="144.51" y2="203.90" stroke="#231f20" stroke-width="0.45" />
<line x1="145.06" y1="202.50" x2="145.06" y2="203.90" stroke="#231f20" stroke-width="0.45" />
<line x1="148.45" y1="202.50" x2="148.45" y2="203.90" stroke="#231f20" stroke-width="0.45" />
<line x1="150.15" y1="202.50" x2="150.15" y2="203.90" stroke="#231f20" stroke-width="0.45" />
<line x1="151.36" y1="202.50" x2="151.36" y2="203.90" stroke="#231f20" stroke-width="0.45" />
<line x1="152.30" y1="202.50" x2="152.30" y2="203.90" stroke="#231f20" stroke-width="0.45" />
<line x1="153.06" y1="202.50" x2="153.06" y2="203.90" stroke="#231f20" stroke-width="0.45" />
<line x1="153.71" y1="202.50" x2="153.71" y2="203.90" stroke="#231f20" stroke-width="0.45" />
<line x1="154.26" y1="202.50" x2="154.26" y2="203.90" stroke="#231f20" stroke-width="0.45" />
<line x1="154.76" y1="202.50" x2="154.76" y2="203.90" stroke="#231f20" stroke-width="0.45" />
<path d="M128.00,202.50 C128.22,201.08 128.87,197.58 129.30,194.00 C129.73,190.42 130.17,185.50 130.60,181.00 C131.03,176.50 131.50,170.57 131.90,167.00 C132.30,163.43 132.67,159.60 133.00,159.60 C133.33,159.60 133.63,163.60 133.90,167.00 C134.17,170.40 134.38,175.83 134.60,180.00 C134.82,184.17 134.97,188.25 135.20,192.00 C135.43,195.75 135.87,200.75 136.00,202.50 Z" fill="#f1c0a6" stroke="#be1e3c" stroke-width="1.15" fill-opacity="1.0" stroke-linejoin="round"/>
<path d="M133.80,202.50 C134.00,201.75 134.58,199.92 135.00,198.00 C135.42,196.08 135.88,193.17 136.30,191.00 C136.72,188.83 137.13,186.42 137.50,185.00 C137.87,183.58 138.08,183.50 138.50,182.50 C138.92,181.50 139.55,180.17 140.00,179.00 C140.45,177.83 140.83,176.43 141.20,175.50 C141.57,174.57 141.87,173.32 142.20,173.40 C142.53,173.48 142.87,174.23 143.20,176.00 C143.53,177.77 143.87,181.00 144.20,184.00 C144.53,187.00 144.90,191.33 145.20,194.00 C145.50,196.67 145.73,198.58 146.00,200.00 C146.27,201.42 146.67,202.08 146.80,202.50 Z" fill="#9da1c8" stroke="#2f4586" stroke-width="0.9" fill-opacity="0.92" stroke-linejoin="round"/>
<rect x="119.50" y="158.70" width="40.80" height="43.80" fill="none" stroke="#111" stroke-width="0.9" />
<line x1="137.40" y1="168.20" x2="160.10" y2="168.20" stroke="#333" stroke-width="0.7" />
<line x1="137.40" y1="166.90" x2="137.40" y2="169.50" stroke="#333" stroke-width="0.7" />
<line x1="160.10" y1="166.90" x2="160.10" y2="169.50" stroke="#333" stroke-width="0.7" />
<text x="148.30" y="165.87" font-size="5.2" text-anchor="middle" fill="#231f20" >Myc+</text>
<text x="21.30" y="55.60" font-size="5.5" text-anchor="middle" fill="#231f20" transform="rotate(-90 21.30 55.60)" >WT</text>
<text x="33.30" y="55.20" font-size="7" text-anchor="middle" fill="#231f20" textLength="15.4" lengthAdjust="spacingAndGlyphs" transform="rotate(-90 33.30 55.20)" >Count</text>
<text x="21.40" y="118.20" font-size="5.5" text-anchor="middle" fill="#231f20" textLength="18.3" lengthAdjust="spacingAndGlyphs" transform="rotate(-90 21.40 118.20)" >E<tspan font-size="75%" dy="0.8">μ</tspan><tspan dy="-0.8">-</tspan><tspan font-style="italic">Myc</tspan></text>
<text x="33.10" y="117.90" font-size="7" text-anchor="middle" fill="#231f20" textLength="15.4" lengthAdjust="spacingAndGlyphs" transform="rotate(-90 33.10 117.90)" >Count</text>
<text x="13.60" y="180.80" font-size="5.5" text-anchor="middle" fill="#231f20" textLength="14.5" lengthAdjust="spacingAndGlyphs" transform="rotate(-90 13.60 180.80)" ><tspan font-style="italic">Mnt</tspan><tspan font-size="70%" dy="-1.6">fl/fl</tspan></text>
<text x="20.90" y="180.50" font-size="5.5" text-anchor="middle" fill="#231f20" textLength="40.5" lengthAdjust="spacingAndGlyphs" transform="rotate(-90 20.90 180.50)" >E<tspan font-size="75%" dy="0.8">μ</tspan><tspan dy="-0.8">-</tspan><tspan font-style="italic">Myc</tspan>/<tspan font-style="italic">Rag1Cre</tspan></text>
<text x="33.30" y="180.50" font-size="7" text-anchor="middle" fill="#231f20" textLength="15.4" lengthAdjust="spacingAndGlyphs" transform="rotate(-90 33.30 180.50)" >Count</text>
<line x1="62.70" y1="219.00" x2="127.00" y2="219.00" stroke="#111" stroke-width="1.1" />
<path d="M130.6,219 L125.8,217.1 L125.8,220.9 Z" fill="#111" />
<text x="132.90" y="221.30" font-size="6.5" text-anchor="start" fill="#231f20" textLength="12.5" lengthAdjust="spacingAndGlyphs" >MYC</text>
<text x="68.80" y="238.30" font-size="7.5" text-anchor="middle" fill="#231f20" >pro-B</text>
<text x="145.40" y="238.30" font-size="7.5" text-anchor="middle" fill="#231f20" >pre-B</text>
<line x1="43.40" y1="246.10" x2="43.40" y2="292.00" stroke="#231f20" stroke-width="1.05" />
<line x1="40.60" y1="248.90" x2="43.40" y2="248.90" stroke="#231f20" stroke-width="0.8" />
<text x="38.20" y="250.92" font-size="5.6" text-anchor="end" fill="#231f20" textLength="11.46" lengthAdjust="spacingAndGlyphs" >2500</text>
<line x1="40.60" y1="257.40" x2="43.40" y2="257.40" stroke="#231f20" stroke-width="0.8" />
<text x="38.20" y="259.42" font-size="5.6" text-anchor="end" fill="#231f20" textLength="11.46" lengthAdjust="spacingAndGlyphs" >2000</text>
<line x1="40.60" y1="266.00" x2="43.40" y2="266.00" stroke="#231f20" stroke-width="0.8" />
<text x="38.20" y="268.02" font-size="5.6" text-anchor="end" fill="#231f20" textLength="11.46" lengthAdjust="spacingAndGlyphs" >1500</text>
<line x1="40.60" y1="274.50" x2="43.40" y2="274.50" stroke="#231f20" stroke-width="0.8" />
<text x="38.20" y="276.52" font-size="5.6" text-anchor="end" fill="#231f20" textLength="11.46" lengthAdjust="spacingAndGlyphs" >1000</text>
<line x1="40.60" y1="283.00" x2="43.40" y2="283.00" stroke="#231f20" stroke-width="0.8" />
<text x="38.20" y="285.02" font-size="5.6" text-anchor="end" fill="#231f20" textLength="8.6" lengthAdjust="spacingAndGlyphs" >500</text>
<line x1="40.60" y1="291.50" x2="43.40" y2="291.50" stroke="#231f20" stroke-width="0.8" />
<text x="38.20" y="293.52" font-size="5.6" text-anchor="end" fill="#231f20" textLength="2.87" lengthAdjust="spacingAndGlyphs" >0</text>
<line x1="42.80" y1="291.50" x2="95.00" y2="291.50" stroke="#231f20" stroke-width="1.1" />
<line x1="54.00" y1="291.50" x2="54.00" y2="294.10" stroke="#231f20" stroke-width="0.7" />
<line x1="69.40" y1="291.50" x2="69.40" y2="294.10" stroke="#231f20" stroke-width="0.7" />
<line x1="84.80" y1="291.50" x2="84.80" y2="294.10" stroke="#231f20" stroke-width="0.7" />
<rect x="49.20" y="284.70" width="9.40" height="6.80" fill="#cbe4b8" stroke="#b2d59a" stroke-width="0.6" />
<line x1="53.90" y1="280.30" x2="53.90" y2="289.50" stroke="#5fb13f" stroke-width="0.65" />
<line x1="52.30" y1="280.30" x2="55.50" y2="280.30" stroke="#5fb13f" stroke-width="0.75" />
<line x1="52.30" y1="289.50" x2="55.50" y2="289.50" stroke="#5fb13f" stroke-width="0.75" />
<circle cx="53.40" cy="281.00" r="0.95" fill="#5fb13f"/>
<circle cx="54.20" cy="287.50" r="0.95" fill="#5fb13f"/>
<circle cx="54.70" cy="289.00" r="0.95" fill="#5fb13f"/>
<rect x="64.60" y="266.60" width="9.60" height="24.90" fill="#dba596" stroke="#cf9080" stroke-width="0.6" />
<line x1="69.40" y1="259.50" x2="69.40" y2="275.90" stroke="#bf0d2e" stroke-width="0.65" />
<line x1="67.80" y1="259.50" x2="71.00" y2="259.50" stroke="#bf0d2e" stroke-width="0.75" />
<line x1="67.80" y1="275.90" x2="71.00" y2="275.90" stroke="#bf0d2e" stroke-width="0.75" />
<circle cx="69.60" cy="260.50" r="0.95" fill="#bf0d2e"/>
<circle cx="70.60" cy="262.00" r="0.95" fill="#bf0d2e"/>
<circle cx="68.90" cy="268.00" r="0.95" fill="#bf0d2e"/>
<circle cx="69.40" cy="276.50" r="0.95" fill="#bf0d2e"/>
<rect x="80.30" y="268.10" width="9.30" height="23.40" fill="#a4abcf" stroke="#8f98c4" stroke-width="0.6" />
<line x1="84.95" y1="264.60" x2="84.95" y2="271.00" stroke="#2d4f96" stroke-width="0.65" />
<line x1="83.35" y1="264.60" x2="86.55" y2="264.60" stroke="#2d4f96" stroke-width="0.75" />
<line x1="83.35" y1="271.00" x2="86.55" y2="271.00" stroke="#2d4f96" stroke-width="0.75" />
<circle cx="84.95" cy="265.50" r="0.95" fill="#2d4f96"/>
<circle cx="85.45" cy="270.00" r="0.95" fill="#2d4f96"/>
<line x1="51.50" y1="251.70" x2="65.00" y2="251.70" stroke="#333" stroke-width="0.85" />
<line x1="51.50" y1="250.50" x2="51.50" y2="252.90" stroke="#333" stroke-width="0.7" />
<line x1="65.00" y1="250.50" x2="65.00" y2="252.90" stroke="#333" stroke-width="0.7" />
<text x="58.25" y="252.10" font-size="6.4" text-anchor="middle" fill="#231f20" >**</text>
<line x1="69.40" y1="251.70" x2="87.70" y2="251.70" stroke="#333" stroke-width="0.85" />
<line x1="69.40" y1="250.50" x2="69.40" y2="252.90" stroke="#333" stroke-width="0.7" />
<line x1="87.70" y1="250.50" x2="87.70" y2="252.90" stroke="#333" stroke-width="0.7" />
<text x="78.55" y="250.10" font-size="5.2" text-anchor="middle" fill="#231f20" >ns</text>
<text x="22.40" y="268.40" font-size="6" text-anchor="middle" fill="#231f20" textLength="24.7" lengthAdjust="spacingAndGlyphs" transform="rotate(-90 22.40 268.40)" >MYC MFI</text>
<line x1="119.50" y1="246.20" x2="119.50" y2="292.10" stroke="#231f20" stroke-width="1.05" />
<line x1="116.70" y1="248.80" x2="119.50" y2="248.80" stroke="#231f20" stroke-width="0.8" />
<text x="114.10" y="250.82" font-size="5.6" text-anchor="end" fill="#231f20" textLength="11.46" lengthAdjust="spacingAndGlyphs" >2500</text>
<line x1="116.70" y1="257.30" x2="119.50" y2="257.30" stroke="#231f20" stroke-width="0.8" />
<text x="114.10" y="259.32" font-size="5.6" text-anchor="end" fill="#231f20" textLength="11.46" lengthAdjust="spacingAndGlyphs" >2000</text>
<line x1="116.70" y1="265.90" x2="119.50" y2="265.90" stroke="#231f20" stroke-width="0.8" />
<text x="114.10" y="267.92" font-size="5.6" text-anchor="end" fill="#231f20" textLength="11.46" lengthAdjust="spacingAndGlyphs" >1500</text>
<line x1="116.70" y1="274.40" x2="119.50" y2="274.40" stroke="#231f20" stroke-width="0.8" />
<text x="114.10" y="276.42" font-size="5.6" text-anchor="end" fill="#231f20" textLength="11.46" lengthAdjust="spacingAndGlyphs" >1000</text>
<line x1="116.70" y1="283.00" x2="119.50" y2="283.00" stroke="#231f20" stroke-width="0.8" />
<text x="114.10" y="285.02" font-size="5.6" text-anchor="end" fill="#231f20" textLength="8.6" lengthAdjust="spacingAndGlyphs" >500</text>
<line x1="116.70" y1="291.60" x2="119.50" y2="291.60" stroke="#231f20" stroke-width="0.8" />
<text x="114.10" y="293.62" font-size="5.6" text-anchor="end" fill="#231f20" textLength="2.87" lengthAdjust="spacingAndGlyphs" >0</text>
<line x1="119.00" y1="291.60" x2="171.50" y2="291.60" stroke="#231f20" stroke-width="1.1" />
<line x1="129.90" y1="291.60" x2="129.90" y2="294.20" stroke="#231f20" stroke-width="0.7" />
<line x1="145.40" y1="291.60" x2="145.40" y2="294.20" stroke="#231f20" stroke-width="0.7" />
<line x1="161.50" y1="291.60" x2="161.50" y2="294.20" stroke="#231f20" stroke-width="0.7" />
<rect x="125.20" y="289.60" width="9.40" height="2.00" fill="#cbe4b8" stroke="#b2d59a" stroke-width="0.6" />
<line x1="129.90" y1="286.60" x2="129.90" y2="291.00" stroke="#5fb13f" stroke-width="0.65" />
<line x1="128.30" y1="286.60" x2="131.50" y2="286.60" stroke="#5fb13f" stroke-width="0.75" />
<line x1="128.30" y1="291.00" x2="131.50" y2="291.00" stroke="#5fb13f" stroke-width="0.75" />
<circle cx="128.90" cy="287.50" r="0.95" fill="#5fb13f"/>
<circle cx="130.70" cy="288.50" r="0.95" fill="#5fb13f"/>
<circle cx="131.40" cy="290.00" r="0.95" fill="#5fb13f"/>
<rect x="140.60" y="271.80" width="9.60" height="19.80" fill="#dba596" stroke="#cf9080" stroke-width="0.6" />
<line x1="145.40" y1="263.10" x2="145.40" y2="278.40" stroke="#bf0d2e" stroke-width="0.65" />
<line x1="143.80" y1="263.10" x2="147.00" y2="263.10" stroke="#bf0d2e" stroke-width="0.75" />
<line x1="143.80" y1="278.40" x2="147.00" y2="278.40" stroke="#bf0d2e" stroke-width="0.75" />
<circle cx="145.40" cy="264.00" r="0.95" fill="#bf0d2e"/>
<circle cx="145.40" cy="270.00" r="0.95" fill="#bf0d2e"/>
<circle cx="145.40" cy="274.00" r="0.95" fill="#bf0d2e"/>
<circle cx="145.40" cy="279.50" r="0.95" fill="#bf0d2e"/>
<rect x="156.70" y="266.10" width="9.60" height="25.50" fill="#a4abcf" stroke="#8f98c4" stroke-width="0.6" />
<line x1="161.50" y1="254.40" x2="161.50" y2="278.40" stroke="#2d4f96" stroke-width="0.65" />
<line x1="159.90" y1="254.40" x2="163.10" y2="254.40" stroke="#2d4f96" stroke-width="0.75" />
<line x1="159.90" y1="278.40" x2="163.10" y2="278.40" stroke="#2d4f96" stroke-width="0.75" />
<circle cx="161.50" cy="256.00" r="0.95" fill="#2d4f96"/>
<circle cx="162.70" cy="259.50" r="0.95" fill="#2d4f96"/>
<circle cx="161.00" cy="276.00" r="0.95" fill="#2d4f96"/>
<line x1="127.10" y1="251.70" x2="141.00" y2="251.70" stroke="#333" stroke-width="0.85" />
<line x1="127.10" y1="250.50" x2="127.10" y2="252.90" stroke="#333" stroke-width="0.7" />
<line x1="141.00" y1="250.50" x2="141.00" y2="252.90" stroke="#333" stroke-width="0.7" />
<text x="134.05" y="252.10" font-size="6.4" text-anchor="middle" fill="#231f20" >**</text>
<line x1="145.10" y1="251.70" x2="164.40" y2="251.70" stroke="#333" stroke-width="0.85" />
<line x1="145.10" y1="250.50" x2="145.10" y2="252.90" stroke="#333" stroke-width="0.7" />
<line x1="164.40" y1="250.50" x2="164.40" y2="252.90" stroke="#333" stroke-width="0.7" />
<text x="154.75" y="250.10" font-size="5.2" text-anchor="middle" fill="#231f20" >ns</text>
<text x="238.10" y="28.80" font-size="7.5" text-anchor="middle" fill="#231f20" >pro-B</text>
<text x="323.40" y="28.80" font-size="7.5" text-anchor="middle" fill="#231f20" >pre-B</text>
<text x="237.00" y="39.20" font-size="5.3" text-anchor="middle" fill="#231f20" >G0-G1</text>
<text x="322.00" y="38.80" font-size="5.3" text-anchor="middle" fill="#231f20" >G0-G1</text>
<text x="237.60" y="117.80" font-size="5.3" text-anchor="middle" fill="#231f20" >S-G2-M</text>
<text x="322.20" y="117.80" font-size="5.3" text-anchor="middle" fill="#231f20" >S-G2-M</text>
<text x="194.40" y="72.40" font-size="5.2" text-anchor="middle" fill="#231f20" transform="rotate(-90 194.40 72.40)" >%</text>
<text x="279.40" y="72.40" font-size="5.2" text-anchor="middle" fill="#231f20" transform="rotate(-90 279.40 72.40)" >%</text>
<text x="193.30" y="155.80" font-size="5.2" text-anchor="middle" fill="#231f20" transform="rotate(-90 193.30 155.80)" >%</text>
<text x="278.30" y="155.80" font-size="5.2" text-anchor="middle" fill="#231f20" transform="rotate(-90 278.30 155.80)" >%</text>
<line x1="210.40" y1="46.60" x2="210.40" y2="101.70" stroke="#231f20" stroke-width="1.05" />
<line x1="207.00" y1="49.20" x2="210.40" y2="49.20" stroke="#231f20" stroke-width="0.8" />
<text x="204.70" y="51.22" font-size="5.6" text-anchor="end" fill="#231f20" textLength="7.76" lengthAdjust="spacingAndGlyphs" >100</text>
<line x1="207.00" y1="59.60" x2="210.40" y2="59.60" stroke="#231f20" stroke-width="0.8" />
<text x="204.70" y="61.62" font-size="5.6" text-anchor="end" fill="#231f20" textLength="5.17" lengthAdjust="spacingAndGlyphs" >80</text>
<line x1="207.00" y1="70.00" x2="210.40" y2="70.00" stroke="#231f20" stroke-width="0.8" />
<text x="204.70" y="72.02" font-size="5.6" text-anchor="end" fill="#231f20" textLength="5.17" lengthAdjust="spacingAndGlyphs" >60</text>
<line x1="207.00" y1="80.40" x2="210.40" y2="80.40" stroke="#231f20" stroke-width="0.8" />
<text x="204.70" y="82.42" font-size="5.6" text-anchor="end" fill="#231f20" textLength="5.17" lengthAdjust="spacingAndGlyphs" >40</text>
<line x1="207.00" y1="90.80" x2="210.40" y2="90.80" stroke="#231f20" stroke-width="0.8" />
<text x="204.70" y="92.82" font-size="5.6" text-anchor="end" fill="#231f20" textLength="5.17" lengthAdjust="spacingAndGlyphs" >20</text>
<line x1="207.00" y1="101.20" x2="210.40" y2="101.20" stroke="#231f20" stroke-width="0.8" />
<text x="204.70" y="103.22" font-size="5.6" text-anchor="end" fill="#231f20" textLength="2.59" lengthAdjust="spacingAndGlyphs" >0</text>
<line x1="209.90" y1="101.20" x2="264.10" y2="101.20" stroke="#231f20" stroke-width="1.1" />
<line x1="219.15" y1="101.20" x2="219.15" y2="103.80" stroke="#231f20" stroke-width="0.7" />
<line x1="231.90" y1="101.20" x2="231.90" y2="103.80" stroke="#231f20" stroke-width="0.7" />
<line x1="244.50" y1="101.20" x2="244.50" y2="103.80" stroke="#231f20" stroke-width="0.7" />
<line x1="257.30" y1="101.20" x2="257.30" y2="103.80" stroke="#231f20" stroke-width="0.7" />
<rect x="215.40" y="68.20" width="7.50" height="33.00" fill="#cbe4b8" stroke="#b2d59a" stroke-width="0.6" />
<line x1="219.15" y1="60.50" x2="219.15" y2="82.00" stroke="#5fb13f" stroke-width="0.65" />
<line x1="217.55" y1="60.50" x2="220.75" y2="60.50" stroke="#5fb13f" stroke-width="0.75" />
<line x1="217.55" y1="82.00" x2="220.75" y2="82.00" stroke="#5fb13f" stroke-width="0.75" />
<circle cx="219.15" cy="62.00" r="0.95" fill="#5fb13f"/>
<circle cx="217.65" cy="66.00" r="0.95" fill="#5fb13f"/>
<circle cx="220.35" cy="68.00" r="0.95" fill="#5fb13f"/>
<circle cx="219.15" cy="75.00" r="0.95" fill="#5fb13f"/>
<circle cx="219.65" cy="79.00" r="0.95" fill="#5fb13f"/>
<rect x="228.10" y="75.00" width="7.60" height="26.20" fill="#dba596" stroke="#cf9080" stroke-width="0.6" />
<line x1="231.90" y1="70.50" x2="231.90" y2="80.00" stroke="#bf0d2e" stroke-width="0.65" />
<line x1="230.30" y1="70.50" x2="233.50" y2="70.50" stroke="#bf0d2e" stroke-width="0.75" />
<line x1="230.30" y1="80.00" x2="233.50" y2="80.00" stroke="#bf0d2e" stroke-width="0.75" />
<circle cx="230.40" cy="69.00" r="0.95" fill="#bf0d2e"/>
<circle cx="233.40" cy="68.50" r="0.95" fill="#bf0d2e"/>
<circle cx="229.40" cy="73.50" r="0.95" fill="#bf0d2e"/>
<circle cx="234.40" cy="73.50" r="0.95" fill="#bf0d2e"/>
<circle cx="231.90" cy="77.00" r="0.95" fill="#bf0d2e"/>
<circle cx="232.20" cy="80.00" r="0.95" fill="#bf0d2e"/>
<rect x="240.50" y="76.70" width="8.00" height="24.50" fill="#ae9dc2" stroke="#9d8ab4" stroke-width="0.6" />
<line x1="244.50" y1="72.80" x2="244.50" y2="80.00" stroke="#6b3a8c" stroke-width="0.65" />
<line x1="242.90" y1="72.80" x2="246.10" y2="72.80" stroke="#6b3a8c" stroke-width="0.75" />
<line x1="242.90" y1="80.00" x2="246.10" y2="80.00" stroke="#6b3a8c" stroke-width="0.75" />
<circle cx="243.50" cy="73.50" r="0.95" fill="#6b3a8c"/>
<circle cx="245.70" cy="73.50" r="0.95" fill="#6b3a8c"/>
<circle cx="244.50" cy="78.00" r="0.95" fill="#6b3a8c"/>
<rect x="253.30" y="70.70" width="8.00" height="30.50" fill="#a4abcf" stroke="#8f98c4" stroke-width="0.6" />
<line x1="257.30" y1="64.80" x2="257.30" y2="76.00" stroke="#2d4f96" stroke-width="0.65" />
<line x1="255.70" y1="64.80" x2="258.90" y2="64.80" stroke="#2d4f96" stroke-width="0.75" />
<line x1="255.70" y1="76.00" x2="258.90" y2="76.00" stroke="#2d4f96" stroke-width="0.75" />
<circle cx="255.80" cy="65.50" r="0.95" fill="#2d4f96"/>
<circle cx="258.80" cy="64.50" r="0.95" fill="#2d4f96"/>
<circle cx="255.30" cy="69.50" r="0.95" fill="#2d4f96"/>
<circle cx="258.30" cy="71.00" r="0.95" fill="#2d4f96"/>
<circle cx="259.30" cy="74.00" r="0.95" fill="#2d4f96"/>
<line x1="231.40" y1="48.00" x2="258.50" y2="48.00" stroke="#333" stroke-width="0.85" />
<line x1="231.40" y1="46.80" x2="231.40" y2="49.20" stroke="#333" stroke-width="0.7" />
<line x1="258.50" y1="46.80" x2="258.50" y2="49.20" stroke="#333" stroke-width="0.7" />
<text x="244.95" y="46.40" font-size="5.2" text-anchor="middle" fill="#231f20" >ns</text>
<line x1="218.00" y1="56.60" x2="232.60" y2="56.60" stroke="#333" stroke-width="0.85" />
<line x1="218.00" y1="55.40" x2="218.00" y2="57.80" stroke="#333" stroke-width="0.7" />
<line x1="232.60" y1="55.40" x2="232.60" y2="57.80" stroke="#333" stroke-width="0.7" />
<text x="225.30" y="55.00" font-size="5.2" text-anchor="middle" fill="#231f20" >ns</text>
<line x1="243.30" y1="56.60" x2="258.50" y2="56.60" stroke="#333" stroke-width="0.85" />
<line x1="243.30" y1="55.40" x2="243.30" y2="57.80" stroke="#333" stroke-width="0.7" />
<line x1="258.50" y1="55.40" x2="258.50" y2="57.80" stroke="#333" stroke-width="0.7" />
<text x="250.90" y="57.00" font-size="6.4" text-anchor="middle" fill="#231f20" >*</text>
<line x1="295.10" y1="46.60" x2="295.10" y2="101.70" stroke="#231f20" stroke-width="1.05" />
<line x1="291.70" y1="49.20" x2="295.10" y2="49.20" stroke="#231f20" stroke-width="0.8" />
<text x="289.40" y="51.22" font-size="5.6" text-anchor="end" fill="#231f20" textLength="7.76" lengthAdjust="spacingAndGlyphs" >100</text>
<line x1="291.70" y1="59.60" x2="295.10" y2="59.60" stroke="#231f20" stroke-width="0.8" />
<text x="289.40" y="61.62" font-size="5.6" text-anchor="end" fill="#231f20" textLength="5.17" lengthAdjust="spacingAndGlyphs" >80</text>
<line x1="291.70" y1="70.00" x2="295.10" y2="70.00" stroke="#231f20" stroke-width="0.8" />
<text x="289.40" y="72.02" font-size="5.6" text-anchor="end" fill="#231f20" textLength="5.17" lengthAdjust="spacingAndGlyphs" >60</text>
<line x1="291.70" y1="80.40" x2="295.10" y2="80.40" stroke="#231f20" stroke-width="0.8" />
<text x="289.40" y="82.42" font-size="5.6" text-anchor="end" fill="#231f20" textLength="5.17" lengthAdjust="spacingAndGlyphs" >40</text>
<line x1="291.70" y1="90.80" x2="295.10" y2="90.80" stroke="#231f20" stroke-width="0.8" />
<text x="289.40" y="92.82" font-size="5.6" text-anchor="end" fill="#231f20" textLength="5.17" lengthAdjust="spacingAndGlyphs" >20</text>
<line x1="291.70" y1="101.20" x2="295.10" y2="101.20" stroke="#231f20" stroke-width="0.8" />
<text x="289.40" y="103.22" font-size="5.6" text-anchor="end" fill="#231f20" textLength="2.59" lengthAdjust="spacingAndGlyphs" >0</text>
<line x1="294.60" y1="101.20" x2="350.50" y2="101.20" stroke="#231f20" stroke-width="1.1" />
<line x1="304.30" y1="101.20" x2="304.30" y2="103.80" stroke="#231f20" stroke-width="0.7" />
<line x1="316.85" y1="101.20" x2="316.85" y2="103.80" stroke="#231f20" stroke-width="0.7" />
<line x1="329.65" y1="101.20" x2="329.65" y2="103.80" stroke="#231f20" stroke-width="0.7" />
<line x1="342.20" y1="101.20" x2="342.20" y2="103.80" stroke="#231f20" stroke-width="0.7" />
<rect x="300.60" y="57.10" width="7.40" height="44.10" fill="#cbe4b8" stroke="#b2d59a" stroke-width="0.6" />
<line x1="304.30" y1="51.30" x2="304.30" y2="63.00" stroke="#5fb13f" stroke-width="0.65" />
<line x1="302.70" y1="51.30" x2="305.90" y2="51.30" stroke="#5fb13f" stroke-width="0.75" />
<line x1="302.70" y1="63.00" x2="305.90" y2="63.00" stroke="#5fb13f" stroke-width="0.75" />
<circle cx="302.80" cy="52.00" r="0.95" fill="#5fb13f"/>
<circle cx="305.80" cy="53.00" r="0.95" fill="#5fb13f"/>
<circle cx="302.30" cy="58.00" r="0.95" fill="#5fb13f"/>
<circle cx="306.30" cy="59.00" r="0.95" fill="#5fb13f"/>
<circle cx="304.30" cy="63.50" r="0.95" fill="#5fb13f"/>
<rect x="312.90" y="68.20" width="7.90" height="33.00" fill="#dba596" stroke="#cf9080" stroke-width="0.6" />
<line x1="316.85" y1="65.50" x2="316.85" y2="70.50" stroke="#bf0d2e" stroke-width="0.65" />
<line x1="315.25" y1="65.50" x2="318.45" y2="65.50" stroke="#bf0d2e" stroke-width="0.75" />
<line x1="315.25" y1="70.50" x2="318.45" y2="70.50" stroke="#bf0d2e" stroke-width="0.75" />
<circle cx="313.85" cy="66.80" r="0.95" fill="#bf0d2e"/>
<circle cx="315.35" cy="65.60" r="0.95" fill="#bf0d2e"/>
<circle cx="316.85" cy="66.40" r="0.95" fill="#bf0d2e"/>
<circle cx="318.35" cy="67.20" r="0.95" fill="#bf0d2e"/>
<circle cx="319.85" cy="66.80" r="0.95" fill="#bf0d2e"/>
<circle cx="314.85" cy="68.20" r="0.95" fill="#bf0d2e"/>
<circle cx="318.85" cy="68.60" r="0.95" fill="#bf0d2e"/>
<circle cx="316.85" cy="64.60" r="0.95" fill="#bf0d2e"/>
<rect x="325.70" y="67.80" width="7.90" height="33.40" fill="#ae9dc2" stroke="#9d8ab4" stroke-width="0.6" />
<line x1="329.65" y1="65.50" x2="329.65" y2="70.00" stroke="#6b3a8c" stroke-width="0.65" />
<line x1="328.05" y1="65.50" x2="331.25" y2="65.50" stroke="#6b3a8c" stroke-width="0.75" />
<line x1="328.05" y1="70.00" x2="331.25" y2="70.00" stroke="#6b3a8c" stroke-width="0.75" />
<circle cx="328.15" cy="66.50" r="0.95" fill="#6b3a8c"/>
<circle cx="331.15" cy="67.50" r="0.95" fill="#6b3a8c"/>
<rect x="338.10" y="68.20" width="8.20" height="33.00" fill="#a4abcf" stroke="#8f98c4" stroke-width="0.6" />
<line x1="342.20" y1="62.00" x2="342.20" y2="74.00" stroke="#2d4f96" stroke-width="0.65" />
<line x1="340.60" y1="62.00" x2="343.80" y2="62.00" stroke="#2d4f96" stroke-width="0.75" />
<line x1="340.60" y1="74.00" x2="343.80" y2="74.00" stroke="#2d4f96" stroke-width="0.75" />
<circle cx="342.20" cy="61.50" r="0.95" fill="#2d4f96"/>
<circle cx="340.20" cy="66.00" r="0.95" fill="#2d4f96"/>
<circle cx="344.20" cy="67.00" r="0.95" fill="#2d4f96"/>
<circle cx="341.20" cy="70.00" r="0.95" fill="#2d4f96"/>
<circle cx="343.70" cy="72.00" r="0.95" fill="#2d4f96"/>
<line x1="302.30" y1="48.00" x2="317.70" y2="48.00" stroke="#333" stroke-width="0.85" />
<line x1="302.30" y1="46.80" x2="302.30" y2="49.20" stroke="#333" stroke-width="0.7" />
<line x1="317.70" y1="46.80" x2="317.70" y2="49.20" stroke="#333" stroke-width="0.7" />
<text x="310.00" y="48.40" font-size="6.4" text-anchor="middle" fill="#231f20" >***</text>
<line x1="317.70" y1="48.00" x2="343.50" y2="48.00" stroke="#333" stroke-width="0.85" />
<line x1="317.70" y1="46.80" x2="317.70" y2="49.20" stroke="#333" stroke-width="0.7" />
<line x1="343.50" y1="46.80" x2="343.50" y2="49.20" stroke="#333" stroke-width="0.7" />
<text x="330.60" y="46.40" font-size="5.2" text-anchor="middle" fill="#231f20" >ns</text>
<line x1="328.40" y1="56.60" x2="343.30" y2="56.60" stroke="#333" stroke-width="0.85" />
<line x1="328.40" y1="55.40" x2="328.40" y2="57.80" stroke="#333" stroke-width="0.7" />
<line x1="343.30" y1="55.40" x2="343.30" y2="57.80" stroke="#333" stroke-width="0.7" />
<text x="335.85" y="55.00" font-size="5.2" text-anchor="middle" fill="#231f20" >ns</text>
<line x1="210.50" y1="129.00" x2="210.50" y2="183.30" stroke="#231f20" stroke-width="1.05" />
<line x1="207.10" y1="131.40" x2="210.50" y2="131.40" stroke="#231f20" stroke-width="0.8" />
<text x="204.80" y="133.42" font-size="5.6" text-anchor="end" fill="#231f20" textLength="5.17" lengthAdjust="spacingAndGlyphs" >60</text>
<line x1="207.10" y1="148.53" x2="210.50" y2="148.53" stroke="#231f20" stroke-width="0.8" />
<text x="204.80" y="150.55" font-size="5.6" text-anchor="end" fill="#231f20" textLength="5.17" lengthAdjust="spacingAndGlyphs" >40</text>
<line x1="207.10" y1="165.67" x2="210.50" y2="165.67" stroke="#231f20" stroke-width="0.8" />
<text x="204.80" y="167.68" font-size="5.6" text-anchor="end" fill="#231f20" textLength="5.17" lengthAdjust="spacingAndGlyphs" >20</text>
<line x1="207.10" y1="182.80" x2="210.50" y2="182.80" stroke="#231f20" stroke-width="0.8" />
<text x="204.80" y="184.82" font-size="5.6" text-anchor="end" fill="#231f20" textLength="2.59" lengthAdjust="spacingAndGlyphs" >0</text>
<line x1="210.00" y1="182.80" x2="264.10" y2="182.80" stroke="#231f20" stroke-width="1.1" />
<line x1="218.75" y1="182.80" x2="218.75" y2="185.40" stroke="#231f20" stroke-width="0.7" />
<line x1="231.65" y1="182.80" x2="231.65" y2="185.40" stroke="#231f20" stroke-width="0.7" />
<line x1="244.45" y1="182.80" x2="244.45" y2="185.40" stroke="#231f20" stroke-width="0.7" />
<line x1="257.15" y1="182.80" x2="257.15" y2="185.40" stroke="#231f20" stroke-width="0.7" />
<rect x="214.90" y="154.10" width="7.70" height="28.70" fill="#cbe4b8" stroke="#b2d59a" stroke-width="0.6" />
<line x1="218.75" y1="142.50" x2="218.75" y2="166.50" stroke="#5fb13f" stroke-width="0.65" />
<line x1="217.15" y1="142.50" x2="220.35" y2="142.50" stroke="#5fb13f" stroke-width="0.75" />
<line x1="217.15" y1="166.50" x2="220.35" y2="166.50" stroke="#5fb13f" stroke-width="0.75" />
<circle cx="218.75" cy="140.50" r="0.95" fill="#5fb13f"/>
<circle cx="217.25" cy="148.00" r="0.95" fill="#5fb13f"/>
<circle cx="220.25" cy="150.00" r="0.95" fill="#5fb13f"/>
<circle cx="217.75" cy="163.50" r="0.95" fill="#5fb13f"/>
<circle cx="219.55" cy="165.50" r="0.95" fill="#5fb13f"/>
<rect x="227.80" y="142.70" width="7.70" height="40.10" fill="#dba596" stroke="#cf9080" stroke-width="0.6" />
<line x1="231.65" y1="136.50" x2="231.65" y2="150.50" stroke="#bf0d2e" stroke-width="0.65" />
<line x1="230.05" y1="136.50" x2="233.25" y2="136.50" stroke="#bf0d2e" stroke-width="0.75" />
<line x1="230.05" y1="150.50" x2="233.25" y2="150.50" stroke="#bf0d2e" stroke-width="0.75" />
<circle cx="231.65" cy="134.50" r="0.95" fill="#bf0d2e"/>
<circle cx="229.65" cy="141.50" r="0.95" fill="#bf0d2e"/>
<circle cx="233.65" cy="143.50" r="0.95" fill="#bf0d2e"/>
<circle cx="230.65" cy="148.00" r="0.95" fill="#bf0d2e"/>
<circle cx="233.15" cy="149.00" r="0.95" fill="#bf0d2e"/>
<rect x="240.60" y="140.20" width="7.70" height="42.60" fill="#ae9dc2" stroke="#9d8ab4" stroke-width="0.6" />
<line x1="244.45" y1="136.00" x2="244.45" y2="143.50" stroke="#6b3a8c" stroke-width="0.65" />
<line x1="242.85" y1="136.00" x2="246.05" y2="136.00" stroke="#6b3a8c" stroke-width="0.75" />
<line x1="242.85" y1="143.50" x2="246.05" y2="143.50" stroke="#6b3a8c" stroke-width="0.75" />
<circle cx="242.95" cy="140.50" r="0.95" fill="#6b3a8c"/>
<circle cx="245.95" cy="141.00" r="0.95" fill="#6b3a8c"/>
<rect x="253.30" y="149.60" width="7.70" height="33.20" fill="#a4abcf" stroke="#8f98c4" stroke-width="0.6" />
<line x1="257.15" y1="143.50" x2="257.15" y2="156.00" stroke="#2d4f96" stroke-width="0.65" />
<line x1="255.55" y1="143.50" x2="258.75" y2="143.50" stroke="#2d4f96" stroke-width="0.75" />
<line x1="255.55" y1="156.00" x2="258.75" y2="156.00" stroke="#2d4f96" stroke-width="0.75" />
<circle cx="259.15" cy="143.00" r="0.95" fill="#2d4f96"/>
<circle cx="255.65" cy="146.00" r="0.95" fill="#2d4f96"/>
<circle cx="258.15" cy="148.50" r="0.95" fill="#2d4f96"/>
<circle cx="255.15" cy="152.00" r="0.95" fill="#2d4f96"/>
<circle cx="259.15" cy="154.00" r="0.95" fill="#2d4f96"/>
<line x1="231.60" y1="124.60" x2="258.20" y2="124.60" stroke="#333" stroke-width="0.85" />
<line x1="231.60" y1="123.40" x2="231.60" y2="125.80" stroke="#333" stroke-width="0.7" />
<line x1="258.20" y1="123.40" x2="258.20" y2="125.80" stroke="#333" stroke-width="0.7" />
<text x="244.90" y="123.00" font-size="5.2" text-anchor="middle" fill="#231f20" >ns</text>
<line x1="218.00" y1="129.30" x2="232.50" y2="129.30" stroke="#333" stroke-width="0.85" />
<line x1="218.00" y1="128.10" x2="218.00" y2="130.50" stroke="#333" stroke-width="0.7" />
<line x1="232.50" y1="128.10" x2="232.50" y2="130.50" stroke="#333" stroke-width="0.7" />
<text x="225.25" y="127.70" font-size="5.2" text-anchor="middle" fill="#231f20" >ns</text>
<line x1="244.30" y1="129.60" x2="258.20" y2="129.60" stroke="#333" stroke-width="0.85" />
<line x1="244.30" y1="128.40" x2="244.30" y2="130.80" stroke="#333" stroke-width="0.7" />
<line x1="258.20" y1="128.40" x2="258.20" y2="130.80" stroke="#333" stroke-width="0.7" />
<text x="251.25" y="130.00" font-size="6.4" text-anchor="middle" fill="#231f20" >*</text>
<line x1="295.50" y1="129.00" x2="295.50" y2="183.30" stroke="#231f20" stroke-width="1.05" />
<line x1="292.10" y1="131.40" x2="295.50" y2="131.40" stroke="#231f20" stroke-width="0.8" />
<text x="289.80" y="133.42" font-size="5.6" text-anchor="end" fill="#231f20" textLength="5.17" lengthAdjust="spacingAndGlyphs" >60</text>
<line x1="292.10" y1="148.53" x2="295.50" y2="148.53" stroke="#231f20" stroke-width="0.8" />
<text x="289.80" y="150.55" font-size="5.6" text-anchor="end" fill="#231f20" textLength="5.17" lengthAdjust="spacingAndGlyphs" >40</text>
<line x1="292.10" y1="165.67" x2="295.50" y2="165.67" stroke="#231f20" stroke-width="0.8" />
<text x="289.80" y="167.68" font-size="5.6" text-anchor="end" fill="#231f20" textLength="5.17" lengthAdjust="spacingAndGlyphs" >20</text>
<line x1="292.10" y1="182.80" x2="295.50" y2="182.80" stroke="#231f20" stroke-width="0.8" />
<text x="289.80" y="184.82" font-size="5.6" text-anchor="end" fill="#231f20" textLength="2.59" lengthAdjust="spacingAndGlyphs" >0</text>
<line x1="295.00" y1="182.80" x2="350.50" y2="182.80" stroke="#231f20" stroke-width="1.1" />
<line x1="303.75" y1="182.80" x2="303.75" y2="185.40" stroke="#231f20" stroke-width="0.7" />
<line x1="316.65" y1="182.80" x2="316.65" y2="185.40" stroke="#231f20" stroke-width="0.7" />
<line x1="329.45" y1="182.80" x2="329.45" y2="185.40" stroke="#231f20" stroke-width="0.7" />
<line x1="342.15" y1="182.80" x2="342.15" y2="185.40" stroke="#231f20" stroke-width="0.7" />
<rect x="299.90" y="171.70" width="7.70" height="11.10" fill="#cbe4b8" stroke="#b2d59a" stroke-width="0.6" />
<line x1="303.75" y1="163.00" x2="303.75" y2="180.00" stroke="#5fb13f" stroke-width="0.65" />
<line x1="302.15" y1="163.00" x2="305.35" y2="163.00" stroke="#5fb13f" stroke-width="0.75" />
<line x1="302.15" y1="180.00" x2="305.35" y2="180.00" stroke="#5fb13f" stroke-width="0.75" />
<circle cx="303.75" cy="160.50" r="0.95" fill="#5fb13f"/>
<circle cx="302.25" cy="168.00" r="0.95" fill="#5fb13f"/>
<circle cx="305.25" cy="172.00" r="0.95" fill="#5fb13f"/>
<circle cx="302.75" cy="176.00" r="0.95" fill="#5fb13f"/>
<circle cx="304.75" cy="178.00" r="0.95" fill="#5fb13f"/>
<rect x="312.80" y="151.00" width="7.70" height="31.80" fill="#dba596" stroke="#cf9080" stroke-width="0.6" />
<line x1="316.65" y1="149.00" x2="316.65" y2="154.50" stroke="#bf0d2e" stroke-width="0.65" />
<line x1="315.05" y1="149.00" x2="318.25" y2="149.00" stroke="#bf0d2e" stroke-width="0.75" />
<line x1="315.05" y1="154.50" x2="318.25" y2="154.50" stroke="#bf0d2e" stroke-width="0.75" />
<circle cx="314.15" cy="149.50" r="0.95" fill="#bf0d2e"/>
<circle cx="316.65" cy="149.00" r="0.95" fill="#bf0d2e"/>
<circle cx="319.15" cy="150.00" r="0.95" fill="#bf0d2e"/>
<circle cx="315.65" cy="153.00" r="0.95" fill="#bf0d2e"/>
<circle cx="318.15" cy="155.00" r="0.95" fill="#bf0d2e"/>
<rect x="325.60" y="154.70" width="7.70" height="28.10" fill="#ae9dc2" stroke="#9d8ab4" stroke-width="0.6" />
<line x1="329.45" y1="152.00" x2="329.45" y2="157.00" stroke="#6b3a8c" stroke-width="0.65" />
<line x1="327.85" y1="152.00" x2="331.05" y2="152.00" stroke="#6b3a8c" stroke-width="0.75" />
<line x1="327.85" y1="157.00" x2="331.05" y2="157.00" stroke="#6b3a8c" stroke-width="0.75" />
<circle cx="328.45" cy="153.00" r="0.95" fill="#6b3a8c"/>
<circle cx="330.95" cy="154.00" r="0.95" fill="#6b3a8c"/>
<rect x="338.30" y="154.10" width="7.70" height="28.70" fill="#a4abcf" stroke="#8f98c4" stroke-width="0.6" />
<line x1="342.15" y1="147.00" x2="342.15" y2="161.00" stroke="#2d4f96" stroke-width="0.65" />
<line x1="340.55" y1="147.00" x2="343.75" y2="147.00" stroke="#2d4f96" stroke-width="0.75" />
<line x1="340.55" y1="161.00" x2="343.75" y2="161.00" stroke="#2d4f96" stroke-width="0.75" />
<circle cx="344.15" cy="146.50" r="0.95" fill="#2d4f96"/>
<circle cx="340.65" cy="150.00" r="0.95" fill="#2d4f96"/>
<circle cx="343.15" cy="152.50" r="0.95" fill="#2d4f96"/>
<circle cx="340.15" cy="156.00" r="0.95" fill="#2d4f96"/>
<circle cx="342.15" cy="160.00" r="0.95" fill="#2d4f96"/>
<line x1="317.70" y1="135.50" x2="343.60" y2="135.50" stroke="#333" stroke-width="0.85" />
<line x1="317.70" y1="134.30" x2="317.70" y2="136.70" stroke="#333" stroke-width="0.7" />
<line x1="343.60" y1="134.30" x2="343.60" y2="136.70" stroke="#333" stroke-width="0.7" />
<text x="330.65" y="133.90" font-size="5.2" text-anchor="middle" fill="#231f20" >ns</text>
<line x1="302.10" y1="143.30" x2="317.30" y2="143.30" stroke="#333" stroke-width="0.85" />
<line x1="302.10" y1="142.10" x2="302.10" y2="144.50" stroke="#333" stroke-width="0.7" />
<line x1="317.30" y1="142.10" x2="317.30" y2="144.50" stroke="#333" stroke-width="0.7" />
<text x="309.70" y="143.70" font-size="6.4" text-anchor="middle" fill="#231f20" >***</text>
<line x1="329.50" y1="143.30" x2="343.60" y2="143.30" stroke="#333" stroke-width="0.85" />
<line x1="329.50" y1="142.10" x2="329.50" y2="144.50" stroke="#333" stroke-width="0.7" />
<line x1="343.60" y1="142.10" x2="343.60" y2="144.50" stroke="#333" stroke-width="0.7" />
<text x="336.55" y="141.70" font-size="5.2" text-anchor="middle" fill="#231f20" >ns</text>
<rect x="242.50" y="202.10" width="17.30" height="6.40" fill="#cbe4b8" stroke="#b2d59a" stroke-width="0.5" />
<text x="262.70" y="207.40" font-size="5.8" text-anchor="start" fill="#231f20" textLength="8.1" lengthAdjust="spacingAndGlyphs" >WT</text>
<rect x="242.50" y="214.60" width="17.30" height="6.40" fill="#dba596" stroke="#cf9080" stroke-width="0.5" />
<text x="262.70" y="219.90" font-size="5.8" text-anchor="start" fill="#231f20" textLength="18.8" lengthAdjust="spacingAndGlyphs" >E<tspan font-size="75%" dy="0.7">μ</tspan><tspan dy="-0.7">-</tspan><tspan font-style="italic">Myc</tspan></text>
<rect x="242.50" y="227.70" width="17.30" height="6.30" fill="#ae9dc2" stroke="#9d8ab4" stroke-width="0.5" />
<text x="262.70" y="232.95" font-size="5.8" text-anchor="start" fill="#231f20" textLength="41.3" lengthAdjust="spacingAndGlyphs" >E<tspan font-size="75%" dy="0.7">μ</tspan><tspan dy="-0.7">-</tspan><tspan font-style="italic">Myc/Rag1Cre</tspan></text>
<rect x="242.50" y="240.60" width="17.30" height="6.30" fill="#a4abcf" stroke="#8f98c4" stroke-width="0.5" />
<text x="262.70" y="245.85" font-size="5.8" text-anchor="start" fill="#231f20" textLength="56.1" lengthAdjust="spacingAndGlyphs" ><tspan font-style="italic">Mnt</tspan><tspan font-size="65%" dy="-1.5">fl/fl</tspan><tspan dy="1.5"> E</tspan><tspan font-size="75%" dy="0.7">μ</tspan><tspan dy="-0.7">-</tspan><tspan font-style="italic">Myc/Rag1Cre</tspan></text>
<text x="416.10" y="29.00" font-size="7.5" text-anchor="middle" fill="#231f20" >pro-B</text>
<text x="483.90" y="29.00" font-size="7.5" text-anchor="middle" fill="#231f20" >pre-B</text>
<defs><filter id="bl" x="-50%" y="-50%" width="200%" height="200%"><feGaussianBlur stdDeviation="1.2"/></filter><filter id="bl2" x="-50%" y="-50%" width="200%" height="200%"><feGaussianBlur stdDeviation="0.5"/></filter><radialGradient id="rg"><stop offset="0" stop-color="#000" stop-opacity="0.95"/><stop offset="0.5" stop-color="#000" stop-opacity="0.85"/><stop offset="0.8" stop-color="#000" stop-opacity="0.45"/><stop offset="1" stop-color="#000" stop-opacity="0"/></radialGradient></defs>
<text x="391.00" y="38.50" font-size="5.0" text-anchor="end" fill="#231f20" >10<tspan font-size="70%" dy="-1.6">5</tspan></text>
<line x1="393.20" y1="36.70" x2="395.40" y2="36.70" stroke="#231f20" stroke-width="0.6" />
<text x="391.00" y="47.50" font-size="5.0" text-anchor="end" fill="#231f20" >10<tspan font-size="70%" dy="-1.6">4</tspan></text>
<line x1="393.20" y1="45.70" x2="395.40" y2="45.70" stroke="#231f20" stroke-width="0.6" />
<text x="391.00" y="57.80" font-size="5.0" text-anchor="end" fill="#231f20" >10<tspan font-size="70%" dy="-1.6">3</tspan></text>
<line x1="393.20" y1="56.00" x2="395.40" y2="56.00" stroke="#231f20" stroke-width="0.6" />
<text x="391.00" y="66.50" font-size="5.0" text-anchor="end" fill="#231f20" >0</text>
<line x1="393.20" y1="64.70" x2="395.40" y2="64.70" stroke="#231f20" stroke-width="0.6" />
<line x1="394.20" y1="38.95" x2="395.40" y2="38.95" stroke="#231f20" stroke-width="0.4" />
<line x1="394.20" y1="41.20" x2="395.40" y2="41.20" stroke="#231f20" stroke-width="0.4" />
<line x1="394.20" y1="43.45" x2="395.40" y2="43.45" stroke="#231f20" stroke-width="0.4" />
<line x1="394.20" y1="48.28" x2="395.40" y2="48.28" stroke="#231f20" stroke-width="0.4" />
<line x1="394.20" y1="50.85" x2="395.40" y2="50.85" stroke="#231f20" stroke-width="0.4" />
<line x1="394.20" y1="53.43" x2="395.40" y2="53.43" stroke="#231f20" stroke-width="0.4" />
<line x1="394.20" y1="58.17" x2="395.40" y2="58.17" stroke="#231f20" stroke-width="0.4" />
<line x1="394.20" y1="60.35" x2="395.40" y2="60.35" stroke="#231f20" stroke-width="0.4" />
<line x1="394.20" y1="62.53" x2="395.40" y2="62.53" stroke="#231f20" stroke-width="0.4" />
<text x="403.50" y="82.60" font-size="5.0" text-anchor="middle" fill="#231f20" >0</text>
<line x1="403.50" y1="74.20" x2="403.50" y2="76.40" stroke="#231f20" stroke-width="0.6" />
<text x="412.60" y="82.60" font-size="5.0" text-anchor="middle" fill="#231f20" >10<tspan font-size="70%" dy="-1.6">3</tspan></text>
<line x1="412.60" y1="74.20" x2="412.60" y2="76.40" stroke="#231f20" stroke-width="0.6" />
<text x="423.00" y="82.60" font-size="5.0" text-anchor="middle" fill="#231f20" >10<tspan font-size="70%" dy="-1.6">4</tspan></text>
<line x1="423.00" y1="74.20" x2="423.00" y2="76.40" stroke="#231f20" stroke-width="0.6" />
<text x="432.20" y="82.60" font-size="5.0" text-anchor="middle" fill="#231f20" >10<tspan font-size="70%" dy="-1.6">5</tspan></text>
<line x1="432.20" y1="74.20" x2="432.20" y2="76.40" stroke="#231f20" stroke-width="0.6" />
<line x1="397.40" y1="74.20" x2="397.40" y2="75.40" stroke="#231f20" stroke-width="0.4" />
<line x1="400.25" y1="74.20" x2="400.25" y2="75.40" stroke="#231f20" stroke-width="0.4" />
<line x1="403.11" y1="74.20" x2="403.11" y2="75.40" stroke="#231f20" stroke-width="0.4" />
<line x1="405.96" y1="74.20" x2="405.96" y2="75.40" stroke="#231f20" stroke-width="0.4" />
<line x1="408.82" y1="74.20" x2="408.82" y2="75.40" stroke="#231f20" stroke-width="0.4" />
<line x1="411.67" y1="74.20" x2="411.67" y2="75.40" stroke="#231f20" stroke-width="0.4" />
<line x1="414.52" y1="74.20" x2="414.52" y2="75.40" stroke="#231f20" stroke-width="0.4" />
<line x1="417.38" y1="74.20" x2="417.38" y2="75.40" stroke="#231f20" stroke-width="0.4" />
<line x1="420.23" y1="74.20" x2="420.23" y2="75.40" stroke="#231f20" stroke-width="0.4" />
<line x1="423.08" y1="74.20" x2="423.08" y2="75.40" stroke="#231f20" stroke-width="0.4" />
<line x1="425.94" y1="74.20" x2="425.94" y2="75.40" stroke="#231f20" stroke-width="0.4" />
<line x1="428.79" y1="74.20" x2="428.79" y2="75.40" stroke="#231f20" stroke-width="0.4" />
<line x1="431.65" y1="74.20" x2="431.65" y2="75.40" stroke="#231f20" stroke-width="0.4" />
<line x1="434.50" y1="74.20" x2="434.50" y2="75.40" stroke="#231f20" stroke-width="0.4" />
<path d="M404.4 53.7h.6v.6h-.6zM404.5 52.1h.6v.6h-.6zM401.2 52.3h.6v.6h-.6zM410.9 53.6h.6v.6h-.6zM410.5 53.2h.6v.6h-.6zM407.5 53.1h.6v.6h-.6zM397.7 54.4h.6v.6h-.6zM408.0 53.7h.6v.6h-.6zM397.6 49.2h.6v.6h-.6zM401.4 51.8h.6v.6h-.6zM407.1 52.6h.6v.6h-.6zM408.1 51.4h.6v.6h-.6zM407.1 53.5h.6v.6h-.6zM402.5 56.2h.6v.6h-.6zM408.2 55.1h.6v.6h-.6zM402.7 51.2h.6v.6h-.6zM404.0 52.5h.6v.6h-.6zM408.6 53.2h.6v.6h-.6zM403.5 50.8h.6v.6h-.6zM403.1 55.2h.6v.6h-.6zM401.8 53.2h.6v.6h-.6zM407.6 49.7h.6v.6h-.6zM405.8 55.3h.6v.6h-.6zM396.0 52.0h.6v.6h-.6zM405.1 51.0h.6v.6h-.6zM408.0 52.6h.6v.6h-.6zM398.6 54.4h.6v.6h-.6zM408.8 54.6h.6v.6h-.6zM412.4 53.4h.6v.6h-.6zM406.2 50.1h.6v.6h-.6zM408.5 51.5h.6v.6h-.6zM403.4 50.1h.6v.6h-.6zM401.0 51.6h.6v.6h-.6zM411.7 48.6h.6v.6h-.6zM398.7 53.2h.6v.6h-.6zM412.5 53.9h.6v.6h-.6zM396.6 47.6h.6v.6h-.6zM407.3 51.2h.6v.6h-.6zM400.3 54.7h.6v.6h-.6zM410.8 53.0h.6v.6h-.6zM406.8 53.6h.6v.6h-.6zM413.2 54.0h.6v.6h-.6zM408.1 53.8h.6v.6h-.6zM398.2 55.3h.6v.6h-.6zM410.1 53.8h.6v.6h-.6zM396.2 51.4h.6v.6h-.6zM409.6 49.0h.6v.6h-.6zM404.7 54.8h.6v.6h-.6zM399.4 56.0h.6v.6h-.6zM408.2 52.4h.6v.6h-.6zM407.1 54.0h.6v.6h-.6zM406.2 55.0h.6v.6h-.6zM402.5 51.9h.6v.6h-.6zM410.5 52.8h.6v.6h-.6zM401.4 54.6h.6v.6h-.6zM412.6 51.8h.6v.6h-.6zM399.0 52.4h.6v.6h-.6zM404.9 52.1h.6v.6h-.6zM412.3 50.6h.6v.6h-.6zM411.6 50.1h.6v.6h-.6zM401.9 54.0h.6v.6h-.6zM411.0 54.4h.6v.6h-.6zM407.2 53.0h.6v.6h-.6zM406.3 53.9h.6v.6h-.6zM404.8 53.3h.6v.6h-.6zM408.3 52.7h.6v.6h-.6zM409.2 53.8h.6v.6h-.6zM415.2 53.4h.6v.6h-.6zM403.6 51.9h.6v.6h-.6zM405.5 54.6h.6v.6h-.6zM404.0 53.5h.6v.6h-.6zM414.3 47.5h.6v.6h-.6zM400.3 53.2h.6v.6h-.6zM407.5 53.2h.6v.6h-.6zM403.6 54.0h.6v.6h-.6zM406.9 51.6h.6v.6h-.6zM417.1 53.4h.6v.6h-.6zM403.0 52.5h.6v.6h-.6zM404.5 52.6h.6v.6h-.6zM410.4 50.3h.6v.6h-.6zM405.3 54.6h.6v.6h-.6zM409.7 55.7h.6v.6h-.6zM397.5 52.0h.6v.6h-.6zM404.0 54.0h.6v.6h-.6zM410.8 47.3h.6v.6h-.6zM410.8 49.8h.6v.6h-.6zM408.8 49.7h.6v.6h-.6zM406.4 55.1h.6v.6h-.6zM404.9 53.1h.6v.6h-.6zM409.4 53.0h.6v.6h-.6zM405.2 55.8h.6v.6h-.6zM410.6 52.1h.6v.6h-.6zM418.6 50.4h.6v.6h-.6zM409.9 52.2h.6v.6h-.6zM406.2 54.1h.6v.6h-.6zM406.7 54.0h.6v.6h-.6zM398.3 49.6h.6v.6h-.6zM408.5 50.7h.6v.6h-.6zM400.7 49.7h.6v.6h-.6zM411.6 54.2h.6v.6h-.6zM412.6 50.8h.6v.6h-.6zM405.6 50.4h.6v.6h-.6zM409.2 55.9h.6v.6h-.6zM401.4 55.9h.6v.6h-.6zM410.3 52.3h.6v.6h-.6zM396.2 55.5h.6v.6h-.6zM405.1 51.5h.6v.6h-.6zM407.5 53.5h.6v.6h-.6zM412.7 50.6h.6v.6h-.6zM411.0 55.7h.6v.6h-.6zM412.5 52.3h.6v.6h-.6zM402.1 54.8h.6v.6h-.6zM406.1 53.0h.6v.6h-.6zM412.4 52.2h.6v.6h-.6zM396.8 54.4h.6v.6h-.6zM407.1 51.5h.6v.6h-.6zM405.6 54.4h.6v.6h-.6zM406.0 55.4h.6v.6h-.6zM405.3 54.8h.6v.6h-.6zM412.7 56.0h.6v.6h-.6zM402.4 54.5h.6v.6h-.6zM396.7 50.5h.6v.6h-.6zM396.3 54.9h.6v.6h-.6zM399.7 52.7h.6v.6h-.6zM404.7 52.6h.6v.6h-.6zM402.8 53.2h.6v.6h-.6zM414.1 52.8h.6v.6h-.6zM408.1 54.7h.6v.6h-.6zM404.7 50.1h.6v.6h-.6zM403.0 54.9h.6v.6h-.6zM397.8 51.5h.6v.6h-.6zM410.4 54.3h.6v.6h-.6zM405.6 54.3h.6v.6h-.6zM406.4 50.3h.6v.6h-.6zM398.2 51.4h.6v.6h-.6zM410.0 51.6h.6v.6h-.6zM401.3 51.1h.6v.6h-.6zM398.3 52.5h.6v.6h-.6zM400.0 53.4h.6v.6h-.6zM402.6 48.8h.6v.6h-.6zM409.0 52.1h.6v.6h-.6zM407.0 51.8h.6v.6h-.6zM409.3 54.2h.6v.6h-.6zM408.8 53.4h.6v.6h-.6zM411.9 54.0h.6v.6h-.6zM407.7 48.5h.6v.6h-.6zM409.9 55.4h.6v.6h-.6zM404.2 51.7h.6v.6h-.6zM414.8 49.1h.6v.6h-.6zM407.8 57.6h.6v.6h-.6zM401.2 54.1h.6v.6h-.6zM414.6 52.5h.6v.6h-.6zM408.3 54.5h.6v.6h-.6zM401.3 52.5h.6v.6h-.6zM407.0 54.4h.6v.6h-.6zM405.4 52.3h.6v.6h-.6zM400.8 52.0h.6v.6h-.6zM409.8 52.9h.6v.6h-.6zM401.5 51.0h.6v.6h-.6zM418.3 55.0h.6v.6h-.6zM408.6 47.4h.6v.6h-.6zM408.6 53.7h.6v.6h-.6zM413.6 53.6h.6v.6h-.6zM405.3 53.8h.6v.6h-.6zM396.4 54.8h.6v.6h-.6zM407.1 51.3h.6v.6h-.6zM411.9 56.4h.6v.6h-.6zM398.9 51.4h.6v.6h-.6zM407.0 53.1h.6v.6h-.6zM403.7 50.7h.6v.6h-.6zM415.7 54.8h.6v.6h-.6zM399.9 50.0h.6v.6h-.6zM413.7 54.7h.6v.6h-.6zM414.2 54.3h.6v.6h-.6zM401.5 53.2h.6v.6h-.6zM405.3 53.8h.6v.6h-.6zM402.1 52.4h.6v.6h-.6zM407.8 53.5h.6v.6h-.6zM408.6 53.1h.6v.6h-.6zM404.1 54.3h.6v.6h-.6zM405.8 51.0h.6v.6h-.6zM402.6 52.7h.6v.6h-.6zM405.1 53.0h.6v.6h-.6zM405.6 53.1h.6v.6h-.6zM405.0 50.2h.6v.6h-.6zM407.6 54.8h.6v.6h-.6zM407.7 52.3h.6v.6h-.6zM407.7 50.7h.6v.6h-.6zM396.6 52.8h.6v.6h-.6zM401.2 54.2h.6v.6h-.6zM400.5 47.4h.6v.6h-.6zM400.7 55.9h.6v.6h-.6zM403.8 49.9h.6v.6h-.6zM402.0 53.8h.6v.6h-.6zM408.0 53.1h.6v.6h-.6zM412.6 54.1h.6v.6h-.6zM405.5 53.9h.6v.6h-.6zM413.5 54.7h.6v.6h-.6zM410.5 50.5h.6v.6h-.6zM404.9 54.2h.6v.6h-.6zM404.2 54.9h.6v.6h-.6zM408.4 54.5h.6v.6h-.6zM404.6 57.9h.6v.6h-.6zM411.5 52.3h.6v.6h-.6zM406.0 58.0h.6v.6h-.6zM404.0 54.5h.6v.6h-.6zM410.3 52.7h.6v.6h-.6zM400.1 53.1h.6v.6h-.6zM407.3 55.0h.6v.6h-.6zM409.3 52.7h.6v.6h-.6zM409.7 53.8h.6v.6h-.6zM406.6 52.8h.6v.6h-.6zM404.4 54.1h.6v.6h-.6zM400.6 51.4h.6v.6h-.6zM405.6 49.7h.6v.6h-.6zM403.5 48.6h.6v.6h-.6zM402.4 53.9h.6v.6h-.6zM408.3 52.6h.6v.6h-.6zM404.5 49.8h.6v.6h-.6zM414.3 53.7h.6v.6h-.6zM410.8 50.9h.6v.6h-.6zM404.7 49.0h.6v.6h-.6zM409.3 54.6h.6v.6h-.6zM396.6 52.6h.6v.6h-.6zM408.6 49.1h.6v.6h-.6zM396.9 50.5h.6v.6h-.6zM402.6 49.9h.6v.6h-.6zM405.8 53.2h.6v.6h-.6zM408.6 54.1h.6v.6h-.6zM412.7 55.1h.6v.6h-.6zM399.4 51.7h.6v.6h-.6zM400.6 50.5h.6v.6h-.6zM405.2 52.7h.6v.6h-.6zM407.9 49.5h.6v.6h-.6zM399.7 52.7h.6v.6h-.6zM404.7 52.1h.6v.6h-.6zM405.3 51.2h.6v.6h-.6zM408.9 53.4h.6v.6h-.6zM405.2 51.3h.6v.6h-.6zM404.8 47.2h.6v.6h-.6zM400.9 52.8h.6v.6h-.6zM398.5 53.1h.6v.6h-.6zM406.3 49.9h.6v.6h-.6zM404.4 52.1h.6v.6h-.6zM407.8 53.9h.6v.6h-.6zM405.4 51.0h.6v.6h-.6zM404.9 52.6h.6v.6h-.6zM409.1 53.3h.6v.6h-.6zM402.2 50.0h.6v.6h-.6zM403.8 51.2h.6v.6h-.6zM400.3 52.5h.6v.6h-.6zM403.3 52.9h.6v.6h-.6zM408.1 51.9h.6v.6h-.6zM416.6 52.0h.6v.6h-.6zM410.8 52.9h.6v.6h-.6zM421.8 55.1h.6v.6h-.6zM415.2 52.2h.6v.6h-.6zM414.5 54.2h.6v.6h-.6zM419.0 52.2h.6v.6h-.6zM413.7 47.2h.6v.6h-.6zM413.6 51.9h.6v.6h-.6zM421.8 48.0h.6v.6h-.6zM420.4 52.4h.6v.6h-.6zM414.8 54.8h.6v.6h-.6zM412.3 51.1h.6v.6h-.6zM412.0 50.2h.6v.6h-.6zM415.6 52.8h.6v.6h-.6zM413.7 51.6h.6v.6h-.6zM422.1 54.3h.6v.6h-.6zM412.0 52.7h.6v.6h-.6zM413.4 48.4h.6v.6h-.6zM423.1 51.6h.6v.6h-.6zM415.5 48.0h.6v.6h-.6zM416.5 46.2h.6v.6h-.6zM419.1 57.8h.6v.6h-.6zM416.3 51.1h.6v.6h-.6zM412.6 53.5h.6v.6h-.6zM413.2 53.6h.6v.6h-.6zM423.2 51.1h.6v.6h-.6zM415.0 52.4h.6v.6h-.6zM414.3 55.4h.6v.6h-.6zM416.5 57.2h.6v.6h-.6zM421.7 51.4h.6v.6h-.6zM419.6 57.3h.6v.6h-.6zM418.6 49.9h.6v.6h-.6z" fill="#000" fill-opacity="0.28"/>
<ellipse cx="405.6" cy="52.7" rx="9.50" ry="4.50" fill="#000" fill-opacity="0.10" filter="url(#bl)" transform="rotate(-6 405.6 52.7)"/>
<ellipse cx="405.6" cy="52.7" rx="9.88" ry="3.77" fill="url(#rg)" transform="rotate(-6 405.6 52.7)"/>
<path d="M405.3 52.2h.7v.7h-.7zM405.1 51.0h.7v.7h-.7zM405.7 50.5h.7v.7h-.7zM405.3 53.2h.7v.7h-.7zM407.6 52.3h.7v.7h-.7zM401.8 52.9h.7v.7h-.7zM403.6 55.1h.7v.7h-.7zM408.8 52.5h.7v.7h-.7zM403.6 51.6h.7v.7h-.7zM401.7 52.1h.7v.7h-.7zM406.8 53.5h.7v.7h-.7zM408.0 56.0h.7v.7h-.7zM402.7 52.7h.7v.7h-.7zM417.3 49.8h.7v.7h-.7zM403.4 53.0h.7v.7h-.7zM406.2 53.3h.7v.7h-.7zM404.6 53.3h.7v.7h-.7zM405.8 53.9h.7v.7h-.7zM397.7 51.3h.7v.7h-.7zM405.6 51.1h.7v.7h-.7zM401.2 53.7h.7v.7h-.7zM402.9 53.7h.7v.7h-.7zM408.7 53.2h.7v.7h-.7zM407.7 52.5h.7v.7h-.7zM399.7 52.7h.7v.7h-.7zM407.5 51.9h.7v.7h-.7zM405.2 53.9h.7v.7h-.7zM401.9 53.7h.7v.7h-.7zM413.4 51.8h.7v.7h-.7zM406.2 52.5h.7v.7h-.7zM412.0 53.2h.7v.7h-.7zM409.4 51.6h.7v.7h-.7zM405.5 52.7h.7v.7h-.7zM398.2 54.9h.7v.7h-.7zM409.4 50.0h.7v.7h-.7zM408.7 52.5h.7v.7h-.7zM407.5 53.3h.7v.7h-.7zM399.3 52.4h.7v.7h-.7zM411.8 51.8h.7v.7h-.7zM401.3 50.6h.7v.7h-.7zM400.5 53.2h.7v.7h-.7zM412.7 53.4h.7v.7h-.7zM406.6 56.2h.7v.7h-.7zM403.4 51.6h.7v.7h-.7zM407.8 53.6h.7v.7h-.7zM401.4 50.9h.7v.7h-.7zM406.8 53.1h.7v.7h-.7zM400.1 52.4h.7v.7h-.7zM403.3 53.4h.7v.7h-.7zM405.1 52.6h.7v.7h-.7zM404.1 54.3h.7v.7h-.7zM411.4 52.1h.7v.7h-.7zM409.1 51.5h.7v.7h-.7zM405.9 53.9h.7v.7h-.7zM411.9 52.1h.7v.7h-.7zM405.3 53.0h.7v.7h-.7zM399.3 52.7h.7v.7h-.7zM402.8 53.3h.7v.7h-.7zM400.9 49.6h.7v.7h-.7zM405.8 53.1h.7v.7h-.7zM403.3 54.1h.7v.7h-.7zM404.5 51.8h.7v.7h-.7zM407.6 50.3h.7v.7h-.7zM402.8 52.7h.7v.7h-.7zM409.1 52.4h.7v.7h-.7zM406.9 51.7h.7v.7h-.7zM406.9 55.3h.7v.7h-.7zM402.7 56.4h.7v.7h-.7zM402.9 52.7h.7v.7h-.7zM406.3 54.3h.7v.7h-.7zM400.4 49.4h.7v.7h-.7zM408.1 53.9h.7v.7h-.7zM408.2 56.8h.7v.7h-.7zM406.5 53.1h.7v.7h-.7zM409.5 53.3h.7v.7h-.7zM412.6 50.8h.7v.7h-.7zM404.0 47.3h.7v.7h-.7zM409.0 52.1h.7v.7h-.7zM409.5 56.1h.7v.7h-.7zM405.6 52.3h.7v.7h-.7zM403.5 51.4h.7v.7h-.7zM403.0 53.7h.7v.7h-.7zM405.8 52.8h.7v.7h-.7zM404.9 54.1h.7v.7h-.7zM407.7 52.5h.7v.7h-.7zM408.4 52.5h.7v.7h-.7zM400.8 55.0h.7v.7h-.7zM407.5 51.2h.7v.7h-.7zM410.1 53.2h.7v.7h-.7zM399.1 55.2h.7v.7h-.7zM407.0 54.1h.7v.7h-.7zM406.4 52.5h.7v.7h-.7zM399.1 54.2h.7v.7h-.7zM405.7 52.3h.7v.7h-.7zM407.1 52.8h.7v.7h-.7zM408.4 52.1h.7v.7h-.7zM405.4 49.4h.7v.7h-.7zM403.8 53.8h.7v.7h-.7zM411.2 52.1h.7v.7h-.7zM405.1 55.2h.7v.7h-.7zM404.2 53.8h.7v.7h-.7zM412.6 52.8h.7v.7h-.7zM410.7 51.6h.7v.7h-.7zM406.5 52.6h.7v.7h-.7zM406.1 54.5h.7v.7h-.7zM415.6 51.7h.7v.7h-.7zM403.2 53.5h.7v.7h-.7zM401.2 53.5h.7v.7h-.7zM408.0 52.3h.7v.7h-.7zM407.8 50.3h.7v.7h-.7zM408.8 50.3h.7v.7h-.7zM402.7 51.8h.7v.7h-.7zM403.9 54.0h.7v.7h-.7zM405.9 52.1h.7v.7h-.7zM407.9 55.2h.7v.7h-.7zM405.6 53.3h.7v.7h-.7zM410.8 53.1h.7v.7h-.7zM400.2 56.6h.7v.7h-.7zM414.8 49.6h.7v.7h-.7zM405.4 53.4h.7v.7h-.7zM409.6 53.7h.7v.7h-.7zM404.5 51.1h.7v.7h-.7zM406.0 54.3h.7v.7h-.7zM401.0 51.1h.7v.7h-.7zM405.5 49.7h.7v.7h-.7zM404.5 52.0h.7v.7h-.7zM407.5 51.6h.7v.7h-.7zM401.9 52.1h.7v.7h-.7zM405.4 51.7h.7v.7h-.7zM405.7 53.9h.7v.7h-.7zM410.6 55.4h.7v.7h-.7zM402.3 52.0h.7v.7h-.7zM402.6 52.6h.7v.7h-.7zM407.8 50.6h.7v.7h-.7zM407.5 52.7h.7v.7h-.7zM398.0 53.2h.7v.7h-.7zM410.6 49.8h.7v.7h-.7zM409.0 53.0h.7v.7h-.7zM407.6 53.4h.7v.7h-.7zM411.1 52.4h.7v.7h-.7zM409.3 52.1h.7v.7h-.7zM408.6 51.4h.7v.7h-.7zM405.1 55.4h.7v.7h-.7zM407.5 52.5h.7v.7h-.7zM400.8 51.5h.7v.7h-.7zM406.4 54.2h.7v.7h-.7zM407.4 53.5h.7v.7h-.7zM405.4 54.8h.7v.7h-.7zM404.0 51.8h.7v.7h-.7zM409.3 52.8h.7v.7h-.7zM404.4 51.8h.7v.7h-.7zM404.5 53.7h.7v.7h-.7zM407.1 50.8h.7v.7h-.7zM407.4 53.0h.7v.7h-.7zM401.4 53.9h.7v.7h-.7zM404.4 52.2h.7v.7h-.7zM408.9 54.8h.7v.7h-.7zM402.7 53.4h.7v.7h-.7zM401.9 56.3h.7v.7h-.7zM403.5 54.6h.7v.7h-.7zM402.9 54.0h.7v.7h-.7zM414.9 48.7h.7v.7h-.7zM403.8 53.5h.7v.7h-.7zM405.2 51.7h.7v.7h-.7zM414.6 52.8h.7v.7h-.7zM398.7 54.0h.7v.7h-.7zM398.4 54.5h.7v.7h-.7zM403.2 52.9h.7v.7h-.7zM410.9 52.9h.7v.7h-.7zM399.8 50.1h.7v.7h-.7zM410.5 53.9h.7v.7h-.7zM402.2 54.0h.7v.7h-.7zM407.7 53.7h.7v.7h-.7zM396.2 52.2h.7v.7h-.7zM409.4 53.8h.7v.7h-.7zM409.3 48.9h.7v.7h-.7zM406.3 53.5h.7v.7h-.7zM416.3 51.2h.7v.7h-.7zM404.2 52.8h.7v.7h-.7z" fill="#000" fill-opacity="0.6"/>
<rect x="395.40" y="33.10" width="41.10" height="41.10" fill="none" stroke="#111" stroke-width="0.9" />
<path d="M420.85,41.10 H415.40 V58.30 H435.60 V41.10 H429.35" fill="none" stroke="#222" stroke-width="0.75"/>
<text x="425.10" y="42.70" font-size="4.6" text-anchor="middle" fill="#231f20" >1.95</text>
<text x="434.60" y="37.70" font-size="4.1" text-anchor="end" fill="#231f20" >Annexin-V</text>
<text x="458.20" y="38.50" font-size="5.0" text-anchor="end" fill="#231f20" >10<tspan font-size="70%" dy="-1.6">5</tspan></text>
<line x1="460.20" y1="36.70" x2="462.40" y2="36.70" stroke="#231f20" stroke-width="0.6" />
<text x="458.20" y="47.50" font-size="5.0" text-anchor="end" fill="#231f20" >10<tspan font-size="70%" dy="-1.6">4</tspan></text>
<line x1="460.20" y1="45.70" x2="462.40" y2="45.70" stroke="#231f20" stroke-width="0.6" />
<text x="458.20" y="57.80" font-size="5.0" text-anchor="end" fill="#231f20" >10<tspan font-size="70%" dy="-1.6">3</tspan></text>
<line x1="460.20" y1="56.00" x2="462.40" y2="56.00" stroke="#231f20" stroke-width="0.6" />
<text x="458.20" y="66.50" font-size="5.0" text-anchor="end" fill="#231f20" >0</text>
<line x1="460.20" y1="64.70" x2="462.40" y2="64.70" stroke="#231f20" stroke-width="0.6" />
<line x1="461.20" y1="38.95" x2="462.40" y2="38.95" stroke="#231f20" stroke-width="0.4" />
<line x1="461.20" y1="41.20" x2="462.40" y2="41.20" stroke="#231f20" stroke-width="0.4" />
<line x1="461.20" y1="43.45" x2="462.40" y2="43.45" stroke="#231f20" stroke-width="0.4" />
<line x1="461.20" y1="48.28" x2="462.40" y2="48.28" stroke="#231f20" stroke-width="0.4" />
<line x1="461.20" y1="50.85" x2="462.40" y2="50.85" stroke="#231f20" stroke-width="0.4" />
<line x1="461.20" y1="53.43" x2="462.40" y2="53.43" stroke="#231f20" stroke-width="0.4" />
<line x1="461.20" y1="58.17" x2="462.40" y2="58.17" stroke="#231f20" stroke-width="0.4" />
<line x1="461.20" y1="60.35" x2="462.40" y2="60.35" stroke="#231f20" stroke-width="0.4" />
<line x1="461.20" y1="62.53" x2="462.40" y2="62.53" stroke="#231f20" stroke-width="0.4" />
<text x="470.60" y="82.60" font-size="5.0" text-anchor="middle" fill="#231f20" >0</text>
<line x1="470.60" y1="74.20" x2="470.60" y2="76.40" stroke="#231f20" stroke-width="0.6" />
<text x="480.00" y="82.60" font-size="5.0" text-anchor="middle" fill="#231f20" >10<tspan font-size="70%" dy="-1.6">3</tspan></text>
<line x1="480.00" y1="74.20" x2="480.00" y2="76.40" stroke="#231f20" stroke-width="0.6" />
<text x="489.70" y="82.60" font-size="5.0" text-anchor="middle" fill="#231f20" >10<tspan font-size="70%" dy="-1.6">4</tspan></text>
<line x1="489.70" y1="74.20" x2="489.70" y2="76.40" stroke="#231f20" stroke-width="0.6" />
<text x="500.00" y="82.60" font-size="5.0" text-anchor="middle" fill="#231f20" >10<tspan font-size="70%" dy="-1.6">5</tspan></text>
<line x1="500.00" y1="74.20" x2="500.00" y2="76.40" stroke="#231f20" stroke-width="0.6" />
<line x1="464.40" y1="74.20" x2="464.40" y2="75.40" stroke="#231f20" stroke-width="0.4" />
<line x1="467.34" y1="74.20" x2="467.34" y2="75.40" stroke="#231f20" stroke-width="0.4" />
<line x1="470.28" y1="74.20" x2="470.28" y2="75.40" stroke="#231f20" stroke-width="0.4" />
<line x1="473.22" y1="74.20" x2="473.22" y2="75.40" stroke="#231f20" stroke-width="0.4" />
<line x1="476.15" y1="74.20" x2="476.15" y2="75.40" stroke="#231f20" stroke-width="0.4" />
<line x1="479.09" y1="74.20" x2="479.09" y2="75.40" stroke="#231f20" stroke-width="0.4" />
<line x1="482.03" y1="74.20" x2="482.03" y2="75.40" stroke="#231f20" stroke-width="0.4" />
<line x1="484.97" y1="74.20" x2="484.97" y2="75.40" stroke="#231f20" stroke-width="0.4" />
<line x1="487.91" y1="74.20" x2="487.91" y2="75.40" stroke="#231f20" stroke-width="0.4" />
<line x1="490.85" y1="74.20" x2="490.85" y2="75.40" stroke="#231f20" stroke-width="0.4" />
<line x1="493.78" y1="74.20" x2="493.78" y2="75.40" stroke="#231f20" stroke-width="0.4" />
<line x1="496.72" y1="74.20" x2="496.72" y2="75.40" stroke="#231f20" stroke-width="0.4" />
<line x1="499.66" y1="74.20" x2="499.66" y2="75.40" stroke="#231f20" stroke-width="0.4" />
<line x1="502.60" y1="74.20" x2="502.60" y2="75.40" stroke="#231f20" stroke-width="0.4" />
<path d="M473.6 52.4h.6v.6h-.6zM474.7 51.7h.6v.6h-.6zM470.9 52.2h.6v.6h-.6zM470.5 51.9h.6v.6h-.6zM463.0 55.3h.6v.6h-.6zM471.1 52.1h.6v.6h-.6zM470.7 55.1h.6v.6h-.6zM465.6 53.0h.6v.6h-.6zM472.1 54.2h.6v.6h-.6zM468.4 49.2h.6v.6h-.6zM475.1 53.8h.6v.6h-.6zM469.9 52.7h.6v.6h-.6zM470.9 52.4h.6v.6h-.6zM465.4 51.8h.6v.6h-.6zM467.3 52.0h.6v.6h-.6zM464.9 54.4h.6v.6h-.6zM464.2 54.4h.6v.6h-.6zM465.5 53.9h.6v.6h-.6zM475.6 53.6h.6v.6h-.6zM466.7 53.3h.6v.6h-.6zM470.4 49.9h.6v.6h-.6zM467.2 53.5h.6v.6h-.6zM467.8 53.4h.6v.6h-.6zM472.9 54.6h.6v.6h-.6zM473.6 54.3h.6v.6h-.6zM468.6 53.2h.6v.6h-.6zM468.6 52.6h.6v.6h-.6zM469.0 49.9h.6v.6h-.6zM468.4 53.2h.6v.6h-.6zM465.7 53.2h.6v.6h-.6zM472.0 52.9h.6v.6h-.6zM478.6 48.3h.6v.6h-.6zM468.9 49.7h.6v.6h-.6zM474.0 58.2h.6v.6h-.6zM472.0 52.6h.6v.6h-.6zM472.1 49.0h.6v.6h-.6zM473.4 53.9h.6v.6h-.6zM469.9 52.1h.6v.6h-.6zM472.5 52.3h.6v.6h-.6zM470.7 52.2h.6v.6h-.6zM470.7 54.6h.6v.6h-.6zM466.1 53.1h.6v.6h-.6zM472.4 53.5h.6v.6h-.6zM475.1 57.0h.6v.6h-.6zM465.9 49.6h.6v.6h-.6zM473.4 56.1h.6v.6h-.6zM473.7 54.7h.6v.6h-.6zM467.2 51.9h.6v.6h-.6zM473.6 51.5h.6v.6h-.6zM480.4 56.8h.6v.6h-.6zM466.9 51.8h.6v.6h-.6zM470.8 51.8h.6v.6h-.6zM475.4 53.1h.6v.6h-.6zM465.2 55.7h.6v.6h-.6zM467.3 53.6h.6v.6h-.6zM469.7 52.6h.6v.6h-.6zM471.2 51.9h.6v.6h-.6zM464.4 51.8h.6v.6h-.6zM469.7 53.3h.6v.6h-.6zM472.2 53.4h.6v.6h-.6zM466.4 51.9h.6v.6h-.6zM471.9 54.2h.6v.6h-.6zM469.3 52.9h.6v.6h-.6zM473.8 53.2h.6v.6h-.6zM472.9 54.3h.6v.6h-.6zM470.7 55.7h.6v.6h-.6zM467.4 52.5h.6v.6h-.6zM466.4 51.7h.6v.6h-.6zM476.4 56.5h.6v.6h-.6zM469.9 54.3h.6v.6h-.6zM474.8 54.7h.6v.6h-.6zM474.9 50.8h.6v.6h-.6zM467.1 54.1h.6v.6h-.6zM475.9 53.4h.6v.6h-.6zM466.2 52.5h.6v.6h-.6zM467.0 51.6h.6v.6h-.6zM476.2 52.0h.6v.6h-.6zM469.9 57.3h.6v.6h-.6zM474.8 53.8h.6v.6h-.6zM467.2 54.0h.6v.6h-.6zM476.7 54.4h.6v.6h-.6zM475.2 53.4h.6v.6h-.6zM472.0 52.8h.6v.6h-.6zM471.6 55.7h.6v.6h-.6zM463.7 53.1h.6v.6h-.6zM470.8 52.1h.6v.6h-.6zM468.5 54.7h.6v.6h-.6zM478.3 54.4h.6v.6h-.6zM471.2 50.3h.6v.6h-.6zM478.0 53.3h.6v.6h-.6zM469.7 51.1h.6v.6h-.6zM469.6 51.1h.6v.6h-.6zM470.1 54.1h.6v.6h-.6zM469.9 53.7h.6v.6h-.6zM466.2 55.9h.6v.6h-.6zM467.0 49.8h.6v.6h-.6zM469.0 51.8h.6v.6h-.6zM465.5 52.5h.6v.6h-.6zM471.0 51.0h.6v.6h-.6zM469.2 55.9h.6v.6h-.6zM472.7 52.9h.6v.6h-.6zM470.3 53.0h.6v.6h-.6zM469.6 54.6h.6v.6h-.6zM469.4 48.7h.6v.6h-.6zM469.7 51.5h.6v.6h-.6zM472.6 52.0h.6v.6h-.6zM470.4 57.3h.6v.6h-.6zM465.4 51.1h.6v.6h-.6zM463.8 48.7h.6v.6h-.6zM467.1 49.7h.6v.6h-.6zM463.5 54.4h.6v.6h-.6zM466.5 52.5h.6v.6h-.6zM471.2 55.8h.6v.6h-.6zM478.0 55.2h.6v.6h-.6zM470.4 53.5h.6v.6h-.6zM477.5 55.9h.6v.6h-.6zM468.5 54.1h.6v.6h-.6zM471.0 53.3h.6v.6h-.6zM467.7 50.7h.6v.6h-.6zM467.5 50.3h.6v.6h-.6zM475.0 54.2h.6v.6h-.6zM464.7 55.8h.6v.6h-.6zM473.6 49.6h.6v.6h-.6zM477.6 54.7h.6v.6h-.6zM478.6 50.9h.6v.6h-.6zM472.1 54.0h.6v.6h-.6zM470.7 53.5h.6v.6h-.6zM474.3 50.4h.6v.6h-.6zM464.5 50.6h.6v.6h-.6zM467.4 52.1h.6v.6h-.6zM471.4 53.7h.6v.6h-.6zM469.9 51.9h.6v.6h-.6zM467.9 55.0h.6v.6h-.6zM473.0 53.4h.6v.6h-.6zM468.4 56.1h.6v.6h-.6zM467.3 54.4h.6v.6h-.6zM474.7 52.7h.6v.6h-.6zM473.3 51.1h.6v.6h-.6zM474.1 53.6h.6v.6h-.6zM463.1 54.5h.6v.6h-.6zM466.0 55.6h.6v.6h-.6zM466.9 52.9h.6v.6h-.6zM471.0 52.6h.6v.6h-.6zM470.9 52.2h.6v.6h-.6zM472.7 53.2h.6v.6h-.6zM470.7 48.0h.6v.6h-.6zM474.7 53.3h.6v.6h-.6zM471.8 55.2h.6v.6h-.6zM465.2 56.1h.6v.6h-.6zM469.1 57.7h.6v.6h-.6zM469.2 54.5h.6v.6h-.6zM468.2 51.1h.6v.6h-.6zM474.5 54.9h.6v.6h-.6zM476.3 54.8h.6v.6h-.6zM467.4 50.1h.6v.6h-.6zM467.0 51.9h.6v.6h-.6zM466.3 54.3h.6v.6h-.6zM471.2 52.7h.6v.6h-.6zM470.5 52.9h.6v.6h-.6zM470.7 54.6h.6v.6h-.6zM473.9 51.9h.6v.6h-.6zM463.4 55.9h.6v.6h-.6zM470.3 55.3h.6v.6h-.6zM469.9 50.5h.6v.6h-.6zM467.6 54.6h.6v.6h-.6zM474.4 56.2h.6v.6h-.6zM466.1 50.6h.6v.6h-.6zM472.0 55.0h.6v.6h-.6zM470.6 50.7h.6v.6h-.6zM473.1 54.7h.6v.6h-.6zM472.2 52.3h.6v.6h-.6zM471.1 54.7h.6v.6h-.6zM467.4 49.7h.6v.6h-.6zM471.2 54.1h.6v.6h-.6zM469.9 54.9h.6v.6h-.6zM467.3 53.0h.6v.6h-.6zM468.5 54.3h.6v.6h-.6zM476.6 52.7h.6v.6h-.6zM478.5 56.1h.6v.6h-.6zM473.2 54.3h.6v.6h-.6zM477.3 52.9h.6v.6h-.6zM469.3 51.2h.6v.6h-.6zM471.8 55.7h.6v.6h-.6zM472.1 54.0h.6v.6h-.6zM468.9 53.5h.6v.6h-.6zM463.7 55.2h.6v.6h-.6zM468.1 51.1h.6v.6h-.6zM466.6 51.6h.6v.6h-.6zM473.4 55.2h.6v.6h-.6zM464.0 55.0h.6v.6h-.6zM473.6 52.1h.6v.6h-.6zM463.5 51.8h.6v.6h-.6zM467.1 53.8h.6v.6h-.6zM468.3 49.4h.6v.6h-.6zM470.8 50.3h.6v.6h-.6zM473.6 50.9h.6v.6h-.6zM466.9 51.6h.6v.6h-.6zM467.5 55.7h.6v.6h-.6zM473.4 54.3h.6v.6h-.6zM471.2 50.3h.6v.6h-.6zM467.6 52.2h.6v.6h-.6zM465.6 54.2h.6v.6h-.6zM466.7 51.9h.6v.6h-.6zM465.4 49.3h.6v.6h-.6zM472.3 55.7h.6v.6h-.6zM470.5 51.4h.6v.6h-.6zM475.0 53.8h.6v.6h-.6zM473.7 56.0h.6v.6h-.6zM474.6 52.4h.6v.6h-.6zM474.3 54.7h.6v.6h-.6zM463.3 52.4h.6v.6h-.6zM463.7 53.0h.6v.6h-.6zM472.3 51.2h.6v.6h-.6zM471.4 56.0h.6v.6h-.6zM464.2 55.2h.6v.6h-.6zM478.6 57.0h.6v.6h-.6zM468.9 53.7h.6v.6h-.6zM469.1 55.1h.6v.6h-.6zM474.2 53.4h.6v.6h-.6zM464.0 54.6h.6v.6h-.6zM467.8 54.4h.6v.6h-.6zM470.9 56.3h.6v.6h-.6zM474.6 52.3h.6v.6h-.6zM471.3 56.5h.6v.6h-.6zM467.5 54.0h.6v.6h-.6zM474.9 55.6h.6v.6h-.6zM472.0 50.7h.6v.6h-.6zM464.4 53.7h.6v.6h-.6zM471.4 58.0h.6v.6h-.6zM466.1 55.4h.6v.6h-.6zM473.1 50.0h.6v.6h-.6zM466.3 53.5h.6v.6h-.6zM467.7 52.9h.6v.6h-.6zM471.8 51.7h.6v.6h-.6zM471.8 52.0h.6v.6h-.6zM467.5 54.2h.6v.6h-.6zM467.4 53.7h.6v.6h-.6zM476.6 53.3h.6v.6h-.6zM469.2 54.6h.6v.6h-.6zM468.2 55.2h.6v.6h-.6zM464.3 54.4h.6v.6h-.6zM467.6 51.7h.6v.6h-.6zM477.3 51.6h.6v.6h-.6zM477.3 54.4h.6v.6h-.6zM476.0 51.4h.6v.6h-.6zM474.9 56.0h.6v.6h-.6zM469.3 53.0h.6v.6h-.6zM480.2 53.5h.6v.6h-.6zM468.0 52.0h.6v.6h-.6zM471.7 53.8h.6v.6h-.6zM479.7 53.5h.6v.6h-.6zM478.4 51.3h.6v.6h-.6zM490.5 53.5h.6v.6h-.6zM490.3 52.0h.6v.6h-.6zM485.7 53.8h.6v.6h-.6zM490.3 50.1h.6v.6h-.6zM488.6 53.9h.6v.6h-.6zM487.1 52.0h.6v.6h-.6zM484.5 53.1h.6v.6h-.6zM490.1 50.9h.6v.6h-.6zM484.9 53.1h.6v.6h-.6zM478.2 54.7h.6v.6h-.6zM483.9 55.4h.6v.6h-.6zM478.3 54.0h.6v.6h-.6zM483.9 50.6h.6v.6h-.6zM489.8 53.2h.6v.6h-.6zM476.1 54.5h.6v.6h-.6zM485.0 51.2h.6v.6h-.6zM486.6 54.3h.6v.6h-.6zM482.7 51.5h.6v.6h-.6zM491.4 55.9h.6v.6h-.6zM486.2 54.6h.6v.6h-.6zM476.5 50.7h.6v.6h-.6zM490.9 51.2h.6v.6h-.6zM481.3 55.7h.6v.6h-.6zM483.8 52.9h.6v.6h-.6zM490.4 56.5h.6v.6h-.6zM486.0 53.9h.6v.6h-.6zM481.4 54.5h.6v.6h-.6zM483.6 51.7h.6v.6h-.6zM484.4 53.4h.6v.6h-.6zM483.0 51.8h.6v.6h-.6zM482.8 49.5h.6v.6h-.6zM480.7 51.9h.6v.6h-.6zM489.2 51.2h.6v.6h-.6zM480.3 54.6h.6v.6h-.6z" fill="#000" fill-opacity="0.28"/>
<ellipse cx="469.8" cy="53.2" rx="8.50" ry="4.20" fill="#000" fill-opacity="0.10" filter="url(#bl)" transform="rotate(-6 469.8 53.2)"/>
<ellipse cx="469.8" cy="53.2" rx="7.80" ry="3.62" fill="url(#rg)" transform="rotate(-6 469.8 53.2)"/>
<path d="M466.5 51.0h.7v.7h-.7zM468.4 54.3h.7v.7h-.7zM468.5 55.1h.7v.7h-.7zM466.0 51.2h.7v.7h-.7zM474.9 53.8h.7v.7h-.7zM472.9 52.0h.7v.7h-.7zM472.5 53.6h.7v.7h-.7zM471.9 53.2h.7v.7h-.7zM473.8 52.2h.7v.7h-.7zM466.6 51.0h.7v.7h-.7zM473.6 52.1h.7v.7h-.7zM466.4 51.8h.7v.7h-.7zM468.3 51.3h.7v.7h-.7zM468.8 52.3h.7v.7h-.7zM468.0 51.8h.7v.7h-.7zM469.9 52.5h.7v.7h-.7zM470.2 53.6h.7v.7h-.7zM470.9 49.9h.7v.7h-.7zM468.0 52.0h.7v.7h-.7zM472.4 50.8h.7v.7h-.7zM467.4 52.8h.7v.7h-.7zM468.7 54.7h.7v.7h-.7zM468.3 54.6h.7v.7h-.7zM465.0 50.5h.7v.7h-.7zM473.8 53.9h.7v.7h-.7zM471.4 53.4h.7v.7h-.7zM471.4 51.4h.7v.7h-.7zM472.9 52.4h.7v.7h-.7zM473.1 53.3h.7v.7h-.7zM463.3 51.3h.7v.7h-.7zM473.5 53.0h.7v.7h-.7zM468.5 53.6h.7v.7h-.7zM468.4 52.4h.7v.7h-.7zM470.1 53.4h.7v.7h-.7zM474.8 53.3h.7v.7h-.7zM476.0 55.9h.7v.7h-.7zM475.5 54.8h.7v.7h-.7zM470.2 53.4h.7v.7h-.7zM469.3 52.1h.7v.7h-.7zM469.6 52.2h.7v.7h-.7zM475.2 54.0h.7v.7h-.7zM468.3 50.3h.7v.7h-.7zM469.6 52.6h.7v.7h-.7zM466.2 51.5h.7v.7h-.7zM469.6 57.1h.7v.7h-.7zM469.7 53.0h.7v.7h-.7zM474.6 53.4h.7v.7h-.7zM470.4 52.6h.7v.7h-.7zM467.8 55.4h.7v.7h-.7zM473.1 55.8h.7v.7h-.7zM468.6 53.2h.7v.7h-.7zM466.9 54.7h.7v.7h-.7zM465.2 54.0h.7v.7h-.7zM473.4 55.3h.7v.7h-.7zM466.7 54.8h.7v.7h-.7zM467.4 52.1h.7v.7h-.7zM465.4 54.9h.7v.7h-.7zM475.2 52.3h.7v.7h-.7zM467.3 52.7h.7v.7h-.7zM478.1 54.7h.7v.7h-.7zM468.0 50.5h.7v.7h-.7zM467.6 55.0h.7v.7h-.7zM476.0 52.8h.7v.7h-.7zM467.5 52.4h.7v.7h-.7zM463.6 54.6h.7v.7h-.7zM466.2 54.8h.7v.7h-.7zM464.2 51.3h.7v.7h-.7zM470.8 52.1h.7v.7h-.7zM472.4 53.2h.7v.7h-.7zM465.9 54.1h.7v.7h-.7zM472.6 50.3h.7v.7h-.7zM475.8 53.9h.7v.7h-.7zM472.3 50.4h.7v.7h-.7zM467.4 52.7h.7v.7h-.7zM473.4 51.0h.7v.7h-.7zM466.9 50.2h.7v.7h-.7zM469.0 53.7h.7v.7h-.7zM464.2 52.3h.7v.7h-.7zM471.5 55.6h.7v.7h-.7zM472.0 52.7h.7v.7h-.7zM465.9 51.8h.7v.7h-.7zM467.6 53.4h.7v.7h-.7zM469.6 55.7h.7v.7h-.7zM470.7 51.6h.7v.7h-.7zM474.9 54.6h.7v.7h-.7zM470.1 52.1h.7v.7h-.7zM463.6 51.7h.7v.7h-.7zM472.8 52.0h.7v.7h-.7zM465.4 53.5h.7v.7h-.7zM470.6 54.1h.7v.7h-.7zM472.0 55.3h.7v.7h-.7zM467.0 54.7h.7v.7h-.7zM466.5 54.2h.7v.7h-.7zM470.4 53.6h.7v.7h-.7zM473.0 53.2h.7v.7h-.7zM473.5 54.5h.7v.7h-.7zM470.2 52.3h.7v.7h-.7zM467.3 52.4h.7v.7h-.7zM469.1 53.2h.7v.7h-.7zM479.6 54.2h.7v.7h-.7zM472.3 51.9h.7v.7h-.7zM467.5 52.7h.7v.7h-.7zM470.4 51.6h.7v.7h-.7zM475.1 52.4h.7v.7h-.7zM473.4 49.7h.7v.7h-.7zM469.8 53.6h.7v.7h-.7zM470.4 54.1h.7v.7h-.7zM470.7 53.4h.7v.7h-.7zM463.6 52.1h.7v.7h-.7zM470.8 52.9h.7v.7h-.7zM467.1 52.3h.7v.7h-.7zM475.9 55.8h.7v.7h-.7zM469.6 55.1h.7v.7h-.7zM464.6 50.3h.7v.7h-.7zM468.2 51.9h.7v.7h-.7zM468.0 53.5h.7v.7h-.7zM479.8 52.2h.7v.7h-.7zM470.0 53.6h.7v.7h-.7zM469.7 54.6h.7v.7h-.7zM475.7 51.3h.7v.7h-.7zM470.3 52.8h.7v.7h-.7zM471.0 50.9h.7v.7h-.7zM464.0 49.7h.7v.7h-.7zM471.5 53.5h.7v.7h-.7zM470.0 49.7h.7v.7h-.7zM468.6 52.1h.7v.7h-.7zM465.1 51.8h.7v.7h-.7zM472.1 54.0h.7v.7h-.7zM469.7 54.0h.7v.7h-.7zM467.8 53.3h.7v.7h-.7zM469.9 54.0h.7v.7h-.7zM469.6 53.0h.7v.7h-.7zM469.4 52.2h.7v.7h-.7zM477.2 54.0h.7v.7h-.7zM471.2 56.6h.7v.7h-.7zM474.4 50.9h.7v.7h-.7zM472.1 54.5h.7v.7h-.7zM476.0 55.2h.7v.7h-.7zM472.3 51.4h.7v.7h-.7zM466.9 53.6h.7v.7h-.7zM471.5 51.7h.7v.7h-.7zM468.5 52.6h.7v.7h-.7zM470.0 53.7h.7v.7h-.7zM468.9 51.3h.7v.7h-.7zM473.9 55.6h.7v.7h-.7zM469.5 54.7h.7v.7h-.7zM471.3 54.2h.7v.7h-.7zM471.4 52.1h.7v.7h-.7zM471.7 54.7h.7v.7h-.7zM466.8 56.1h.7v.7h-.7zM476.7 55.9h.7v.7h-.7zM476.4 54.3h.7v.7h-.7zM468.7 52.3h.7v.7h-.7zM467.1 53.4h.7v.7h-.7zM469.7 54.2h.7v.7h-.7zM463.1 56.7h.7v.7h-.7zM477.3 53.2h.7v.7h-.7zM472.0 53.9h.7v.7h-.7zM470.7 52.9h.7v.7h-.7zM469.4 52.0h.7v.7h-.7zM470.4 53.2h.7v.7h-.7zM470.9 51.9h.7v.7h-.7zM469.9 53.3h.7v.7h-.7zM471.8 51.6h.7v.7h-.7zM471.2 54.7h.7v.7h-.7zM471.8 52.6h.7v.7h-.7zM468.2 52.8h.7v.7h-.7zM472.2 55.5h.7v.7h-.7zM469.3 52.2h.7v.7h-.7zM471.0 53.5h.7v.7h-.7zM466.8 52.1h.7v.7h-.7zM469.5 54.2h.7v.7h-.7zM465.9 51.7h.7v.7h-.7zM471.4 51.4h.7v.7h-.7zM470.2 53.7h.7v.7h-.7zM469.4 51.7h.7v.7h-.7zM469.6 52.7h.7v.7h-.7z" fill="#000" fill-opacity="0.6"/>
<rect x="462.40" y="33.10" width="42.20" height="41.10" fill="none" stroke="#111" stroke-width="0.9" />
<path d="M488.95,41.10 H483.40 V58.30 H503.80 V41.10 H497.45" fill="none" stroke="#222" stroke-width="0.75"/>
<text x="493.20" y="42.70" font-size="4.6" text-anchor="middle" fill="#231f20" >1.01</text>
<text x="502.80" y="37.70" font-size="4.1" text-anchor="end" fill="#231f20" >Annexin-V</text>
<text x="391.00" y="93.70" font-size="5.0" text-anchor="end" fill="#231f20" >10<tspan font-size="70%" dy="-1.6">5</tspan></text>
<line x1="393.20" y1="91.90" x2="395.40" y2="91.90" stroke="#231f20" stroke-width="0.6" />
<text x="391.00" y="102.70" font-size="5.0" text-anchor="end" fill="#231f20" >10<tspan font-size="70%" dy="-1.6">4</tspan></text>
<line x1="393.20" y1="100.90" x2="395.40" y2="100.90" stroke="#231f20" stroke-width="0.6" />
<text x="391.00" y="113.00" font-size="5.0" text-anchor="end" fill="#231f20" >10<tspan font-size="70%" dy="-1.6">3</tspan></text>
<line x1="393.20" y1="111.20" x2="395.40" y2="111.20" stroke="#231f20" stroke-width="0.6" />
<text x="391.00" y="121.70" font-size="5.0" text-anchor="end" fill="#231f20" >0</text>
<line x1="393.20" y1="119.90" x2="395.40" y2="119.90" stroke="#231f20" stroke-width="0.6" />
<line x1="394.20" y1="94.15" x2="395.40" y2="94.15" stroke="#231f20" stroke-width="0.4" />
<line x1="394.20" y1="96.40" x2="395.40" y2="96.40" stroke="#231f20" stroke-width="0.4" />
<line x1="394.20" y1="98.65" x2="395.40" y2="98.65" stroke="#231f20" stroke-width="0.4" />
<line x1="394.20" y1="103.47" x2="395.40" y2="103.47" stroke="#231f20" stroke-width="0.4" />
<line x1="394.20" y1="106.05" x2="395.40" y2="106.05" stroke="#231f20" stroke-width="0.4" />
<line x1="394.20" y1="108.62" x2="395.40" y2="108.62" stroke="#231f20" stroke-width="0.4" />
<line x1="394.20" y1="113.37" x2="395.40" y2="113.37" stroke="#231f20" stroke-width="0.4" />
<line x1="394.20" y1="115.55" x2="395.40" y2="115.55" stroke="#231f20" stroke-width="0.4" />
<line x1="394.20" y1="117.72" x2="395.40" y2="117.72" stroke="#231f20" stroke-width="0.4" />
<text x="403.50" y="137.80" font-size="5.0" text-anchor="middle" fill="#231f20" >0</text>
<line x1="403.50" y1="129.40" x2="403.50" y2="131.60" stroke="#231f20" stroke-width="0.6" />
<text x="412.60" y="137.80" font-size="5.0" text-anchor="middle" fill="#231f20" >10<tspan font-size="70%" dy="-1.6">3</tspan></text>
<line x1="412.60" y1="129.40" x2="412.60" y2="131.60" stroke="#231f20" stroke-width="0.6" />
<text x="423.00" y="137.80" font-size="5.0" text-anchor="middle" fill="#231f20" >10<tspan font-size="70%" dy="-1.6">4</tspan></text>
<line x1="423.00" y1="129.40" x2="423.00" y2="131.60" stroke="#231f20" stroke-width="0.6" />
<text x="432.20" y="137.80" font-size="5.0" text-anchor="middle" fill="#231f20" >10<tspan font-size="70%" dy="-1.6">5</tspan></text>
<line x1="432.20" y1="129.40" x2="432.20" y2="131.60" stroke="#231f20" stroke-width="0.6" />
<line x1="397.40" y1="129.40" x2="397.40" y2="130.60" stroke="#231f20" stroke-width="0.4" />
<line x1="400.25" y1="129.40" x2="400.25" y2="130.60" stroke="#231f20" stroke-width="0.4" />
<line x1="403.11" y1="129.40" x2="403.11" y2="130.60" stroke="#231f20" stroke-width="0.4" />
<line x1="405.96" y1="129.40" x2="405.96" y2="130.60" stroke="#231f20" stroke-width="0.4" />
<line x1="408.82" y1="129.40" x2="408.82" y2="130.60" stroke="#231f20" stroke-width="0.4" />
<line x1="411.67" y1="129.40" x2="411.67" y2="130.60" stroke="#231f20" stroke-width="0.4" />
<line x1="414.52" y1="129.40" x2="414.52" y2="130.60" stroke="#231f20" stroke-width="0.4" />
<line x1="417.38" y1="129.40" x2="417.38" y2="130.60" stroke="#231f20" stroke-width="0.4" />
<line x1="420.23" y1="129.40" x2="420.23" y2="130.60" stroke="#231f20" stroke-width="0.4" />
<line x1="423.08" y1="129.40" x2="423.08" y2="130.60" stroke="#231f20" stroke-width="0.4" />
<line x1="425.94" y1="129.40" x2="425.94" y2="130.60" stroke="#231f20" stroke-width="0.4" />
<line x1="428.79" y1="129.40" x2="428.79" y2="130.60" stroke="#231f20" stroke-width="0.4" />
<line x1="431.65" y1="129.40" x2="431.65" y2="130.60" stroke="#231f20" stroke-width="0.4" />
<line x1="434.50" y1="129.40" x2="434.50" y2="130.60" stroke="#231f20" stroke-width="0.4" />
<path d="M408.3 101.3h.6v.6h-.6zM412.2 100.0h.6v.6h-.6zM405.6 102.7h.6v.6h-.6zM411.5 101.7h.6v.6h-.6zM409.4 101.8h.6v.6h-.6zM410.4 105.5h.6v.6h-.6zM404.4 103.4h.6v.6h-.6zM401.6 104.3h.6v.6h-.6zM412.9 102.8h.6v.6h-.6zM400.5 103.4h.6v.6h-.6zM412.5 104.5h.6v.6h-.6zM410.8 99.7h.6v.6h-.6zM402.9 105.0h.6v.6h-.6zM400.1 104.5h.6v.6h-.6zM416.4 103.9h.6v.6h-.6zM412.4 102.2h.6v.6h-.6zM400.1 102.5h.6v.6h-.6zM405.5 102.6h.6v.6h-.6zM410.2 102.5h.6v.6h-.6zM407.5 103.4h.6v.6h-.6zM406.5 105.7h.6v.6h-.6zM408.8 102.8h.6v.6h-.6zM405.4 101.7h.6v.6h-.6zM413.6 102.9h.6v.6h-.6zM400.8 101.8h.6v.6h-.6zM405.8 102.0h.6v.6h-.6zM412.2 100.8h.6v.6h-.6zM409.1 102.9h.6v.6h-.6zM400.3 102.8h.6v.6h-.6zM406.0 103.5h.6v.6h-.6zM404.1 103.2h.6v.6h-.6zM397.8 100.9h.6v.6h-.6zM410.6 104.4h.6v.6h-.6zM406.4 101.7h.6v.6h-.6zM412.2 99.3h.6v.6h-.6zM402.3 103.8h.6v.6h-.6zM409.9 101.0h.6v.6h-.6zM396.6 105.1h.6v.6h-.6zM407.3 101.2h.6v.6h-.6zM406.8 104.2h.6v.6h-.6zM410.4 99.3h.6v.6h-.6zM410.5 99.8h.6v.6h-.6zM412.5 103.3h.6v.6h-.6zM418.3 101.7h.6v.6h-.6zM406.5 104.4h.6v.6h-.6zM403.1 101.6h.6v.6h-.6zM404.5 102.6h.6v.6h-.6zM400.8 103.5h.6v.6h-.6zM409.4 102.8h.6v.6h-.6zM415.4 102.2h.6v.6h-.6zM413.4 101.8h.6v.6h-.6zM410.5 99.6h.6v.6h-.6zM407.5 102.4h.6v.6h-.6zM403.9 101.7h.6v.6h-.6zM404.7 101.5h.6v.6h-.6zM403.6 101.9h.6v.6h-.6zM400.9 102.5h.6v.6h-.6zM410.6 102.3h.6v.6h-.6zM403.9 104.9h.6v.6h-.6zM411.6 104.2h.6v.6h-.6zM412.6 102.2h.6v.6h-.6zM405.8 104.5h.6v.6h-.6zM403.6 102.5h.6v.6h-.6zM408.5 103.3h.6v.6h-.6zM405.0 104.3h.6v.6h-.6zM405.6 103.9h.6v.6h-.6zM412.1 103.8h.6v.6h-.6zM410.4 100.8h.6v.6h-.6zM399.6 101.7h.6v.6h-.6zM409.0 105.1h.6v.6h-.6zM400.1 103.2h.6v.6h-.6zM402.0 101.5h.6v.6h-.6zM405.0 103.8h.6v.6h-.6zM407.6 104.6h.6v.6h-.6zM401.3 104.1h.6v.6h-.6zM411.4 102.8h.6v.6h-.6zM409.0 101.8h.6v.6h-.6zM400.8 102.0h.6v.6h-.6zM403.1 107.4h.6v.6h-.6zM404.0 105.4h.6v.6h-.6zM407.6 103.2h.6v.6h-.6zM410.4 101.4h.6v.6h-.6zM411.3 103.3h.6v.6h-.6zM398.5 103.7h.6v.6h-.6zM409.4 103.4h.6v.6h-.6zM414.8 102.0h.6v.6h-.6zM409.2 103.9h.6v.6h-.6zM401.8 104.6h.6v.6h-.6zM398.9 100.6h.6v.6h-.6zM409.2 100.9h.6v.6h-.6zM405.9 100.0h.6v.6h-.6zM406.9 100.9h.6v.6h-.6zM408.3 100.2h.6v.6h-.6zM408.9 102.3h.6v.6h-.6zM406.8 102.6h.6v.6h-.6zM407.2 100.6h.6v.6h-.6zM401.6 102.0h.6v.6h-.6zM408.7 99.5h.6v.6h-.6zM402.5 101.7h.6v.6h-.6zM400.9 103.2h.6v.6h-.6zM405.8 101.4h.6v.6h-.6zM401.3 104.0h.6v.6h-.6zM403.0 103.6h.6v.6h-.6zM408.9 99.6h.6v.6h-.6zM400.8 102.7h.6v.6h-.6zM408.3 104.0h.6v.6h-.6zM410.7 104.4h.6v.6h-.6zM404.5 102.4h.6v.6h-.6zM410.6 102.0h.6v.6h-.6zM412.0 100.1h.6v.6h-.6zM409.9 102.4h.6v.6h-.6zM396.2 104.3h.6v.6h-.6zM408.1 102.7h.6v.6h-.6zM400.8 101.9h.6v.6h-.6zM414.4 101.4h.6v.6h-.6zM400.2 102.5h.6v.6h-.6zM404.4 101.2h.6v.6h-.6zM402.1 104.4h.6v.6h-.6zM398.9 105.9h.6v.6h-.6zM403.6 100.9h.6v.6h-.6zM410.6 103.6h.6v.6h-.6zM401.0 103.9h.6v.6h-.6zM396.8 101.2h.6v.6h-.6zM412.4 102.3h.6v.6h-.6zM399.7 103.5h.6v.6h-.6zM411.3 102.7h.6v.6h-.6zM397.0 102.1h.6v.6h-.6zM408.7 103.9h.6v.6h-.6zM416.2 102.3h.6v.6h-.6zM404.0 102.6h.6v.6h-.6zM412.8 101.2h.6v.6h-.6zM413.4 98.2h.6v.6h-.6zM410.7 101.6h.6v.6h-.6zM408.9 103.8h.6v.6h-.6zM400.3 102.6h.6v.6h-.6zM407.8 103.7h.6v.6h-.6zM401.6 101.1h.6v.6h-.6zM396.4 106.8h.6v.6h-.6zM405.5 102.3h.6v.6h-.6zM398.7 104.2h.6v.6h-.6zM403.7 105.0h.6v.6h-.6zM411.0 102.7h.6v.6h-.6zM410.3 100.9h.6v.6h-.6zM404.8 101.8h.6v.6h-.6zM399.8 102.7h.6v.6h-.6zM405.7 105.0h.6v.6h-.6zM401.7 101.9h.6v.6h-.6zM408.7 103.4h.6v.6h-.6zM406.6 101.9h.6v.6h-.6zM409.1 103.3h.6v.6h-.6zM396.8 102.3h.6v.6h-.6zM399.3 100.8h.6v.6h-.6zM407.3 102.8h.6v.6h-.6zM407.1 101.3h.6v.6h-.6zM405.4 101.2h.6v.6h-.6zM408.5 103.8h.6v.6h-.6zM415.7 104.8h.6v.6h-.6zM402.3 102.0h.6v.6h-.6zM401.6 103.2h.6v.6h-.6zM416.9 103.8h.6v.6h-.6zM399.7 103.5h.6v.6h-.6zM406.5 103.2h.6v.6h-.6zM415.9 101.4h.6v.6h-.6zM402.0 105.9h.6v.6h-.6zM408.3 101.4h.6v.6h-.6zM406.7 104.3h.6v.6h-.6zM405.8 101.6h.6v.6h-.6zM402.6 105.8h.6v.6h-.6zM397.2 103.0h.6v.6h-.6zM406.6 103.7h.6v.6h-.6zM404.4 103.5h.6v.6h-.6zM410.8 102.5h.6v.6h-.6zM404.1 102.4h.6v.6h-.6zM401.4 102.4h.6v.6h-.6zM404.9 103.0h.6v.6h-.6zM413.5 104.8h.6v.6h-.6zM404.2 103.7h.6v.6h-.6zM408.0 103.9h.6v.6h-.6zM406.6 103.1h.6v.6h-.6zM404.0 101.4h.6v.6h-.6zM411.1 104.8h.6v.6h-.6zM410.0 103.4h.6v.6h-.6zM407.9 102.0h.6v.6h-.6zM397.1 103.8h.6v.6h-.6zM407.5 101.8h.6v.6h-.6zM401.4 104.8h.6v.6h-.6zM397.0 105.6h.6v.6h-.6zM409.9 106.5h.6v.6h-.6zM402.7 102.7h.6v.6h-.6zM403.8 103.0h.6v.6h-.6zM405.4 101.5h.6v.6h-.6zM412.1 101.4h.6v.6h-.6zM403.8 103.6h.6v.6h-.6zM403.7 102.0h.6v.6h-.6zM408.4 102.1h.6v.6h-.6zM400.0 102.5h.6v.6h-.6zM405.3 105.5h.6v.6h-.6zM400.7 104.3h.6v.6h-.6zM402.4 102.1h.6v.6h-.6zM404.8 103.1h.6v.6h-.6zM411.0 105.5h.6v.6h-.6zM403.2 104.9h.6v.6h-.6zM411.7 104.0h.6v.6h-.6zM402.5 104.2h.6v.6h-.6zM405.9 103.3h.6v.6h-.6zM405.1 103.8h.6v.6h-.6zM412.4 104.5h.6v.6h-.6zM405.4 104.3h.6v.6h-.6zM414.1 101.2h.6v.6h-.6zM414.2 100.5h.6v.6h-.6zM409.3 103.7h.6v.6h-.6zM414.3 103.2h.6v.6h-.6zM404.0 101.4h.6v.6h-.6zM399.9 103.9h.6v.6h-.6zM405.3 101.5h.6v.6h-.6zM409.3 101.5h.6v.6h-.6zM404.2 102.0h.6v.6h-.6zM415.2 105.1h.6v.6h-.6zM405.7 100.2h.6v.6h-.6zM408.0 102.8h.6v.6h-.6zM408.3 103.6h.6v.6h-.6zM404.8 104.2h.6v.6h-.6zM410.9 103.0h.6v.6h-.6zM404.4 101.9h.6v.6h-.6zM410.1 100.9h.6v.6h-.6zM405.7 101.5h.6v.6h-.6zM399.2 103.7h.6v.6h-.6zM406.4 102.8h.6v.6h-.6zM411.1 100.3h.6v.6h-.6zM406.1 103.2h.6v.6h-.6zM410.9 100.9h.6v.6h-.6zM410.3 103.1h.6v.6h-.6zM413.6 104.5h.6v.6h-.6zM409.4 106.2h.6v.6h-.6zM406.5 102.0h.6v.6h-.6zM404.7 101.2h.6v.6h-.6zM406.3 99.7h.6v.6h-.6zM406.1 103.4h.6v.6h-.6zM411.7 102.1h.6v.6h-.6zM413.8 101.6h.6v.6h-.6zM405.8 99.7h.6v.6h-.6zM402.5 101.4h.6v.6h-.6zM414.2 103.5h.6v.6h-.6zM400.8 103.5h.6v.6h-.6zM409.0 102.3h.6v.6h-.6zM406.6 102.2h.6v.6h-.6zM403.7 99.9h.6v.6h-.6zM406.0 104.7h.6v.6h-.6zM413.8 102.3h.6v.6h-.6zM402.7 102.4h.6v.6h-.6zM411.1 103.3h.6v.6h-.6zM403.5 103.3h.6v.6h-.6zM419.0 104.5h.6v.6h-.6zM424.7 104.8h.6v.6h-.6zM417.8 102.8h.6v.6h-.6zM421.1 104.9h.6v.6h-.6zM429.0 101.8h.6v.6h-.6zM428.2 103.9h.6v.6h-.6zM416.3 101.2h.6v.6h-.6zM427.0 102.1h.6v.6h-.6zM422.8 102.8h.6v.6h-.6zM424.7 101.6h.6v.6h-.6zM423.6 99.7h.6v.6h-.6zM427.3 103.4h.6v.6h-.6zM415.8 102.3h.6v.6h-.6zM417.3 104.4h.6v.6h-.6zM415.0 102.5h.6v.6h-.6zM425.2 103.9h.6v.6h-.6zM421.2 103.9h.6v.6h-.6zM421.5 103.7h.6v.6h-.6zM419.8 103.0h.6v.6h-.6zM414.2 103.3h.6v.6h-.6zM429.9 102.7h.6v.6h-.6zM425.5 101.9h.6v.6h-.6zM429.7 101.9h.6v.6h-.6zM421.8 102.4h.6v.6h-.6zM420.9 103.5h.6v.6h-.6zM414.1 104.8h.6v.6h-.6zM428.7 101.1h.6v.6h-.6zM429.0 100.7h.6v.6h-.6zM424.4 102.7h.6v.6h-.6zM416.2 104.1h.6v.6h-.6zM414.4 103.2h.6v.6h-.6zM418.7 99.3h.6v.6h-.6zM417.0 100.4h.6v.6h-.6zM428.8 100.0h.6v.6h-.6zM416.7 103.4h.6v.6h-.6zM425.9 99.4h.6v.6h-.6zM419.2 104.0h.6v.6h-.6zM419.1 105.8h.6v.6h-.6zM419.9 101.1h.6v.6h-.6zM427.3 102.2h.6v.6h-.6zM417.8 105.0h.6v.6h-.6zM424.1 103.3h.6v.6h-.6zM427.1 101.6h.6v.6h-.6zM429.1 98.9h.6v.6h-.6zM421.9 101.6h.6v.6h-.6zM418.8 102.7h.6v.6h-.6zM423.3 105.1h.6v.6h-.6zM416.6 104.0h.6v.6h-.6zM421.1 103.5h.6v.6h-.6zM414.6 102.6h.6v.6h-.6zM421.0 103.7h.6v.6h-.6zM414.0 105.4h.6v.6h-.6zM427.5 104.6h.6v.6h-.6zM420.8 100.2h.6v.6h-.6zM418.5 101.6h.6v.6h-.6zM420.7 100.9h.6v.6h-.6zM419.4 100.2h.6v.6h-.6zM427.2 103.7h.6v.6h-.6zM428.5 103.5h.6v.6h-.6zM421.1 104.0h.6v.6h-.6zM423.0 102.0h.6v.6h-.6zM415.4 103.7h.6v.6h-.6zM419.2 98.1h.6v.6h-.6zM428.5 103.9h.6v.6h-.6zM427.8 107.2h.6v.6h-.6zM423.9 102.0h.6v.6h-.6z" fill="#000" fill-opacity="0.28"/>
<ellipse cx="406.5" cy="102.7" rx="10.50" ry="3.60" fill="#000" fill-opacity="0.10" filter="url(#bl)" transform="rotate(-2 406.5 102.7)"/>
<ellipse cx="406.5" cy="102.7" rx="11.18" ry="2.75" fill="url(#rg)" transform="rotate(-2 406.5 102.7)"/>
<path d="M407.1 102.3h.7v.7h-.7zM403.6 101.3h.7v.7h-.7zM404.7 104.1h.7v.7h-.7zM411.7 102.3h.7v.7h-.7zM404.1 101.9h.7v.7h-.7zM401.1 104.7h.7v.7h-.7zM409.5 102.8h.7v.7h-.7zM404.3 101.6h.7v.7h-.7zM412.5 103.6h.7v.7h-.7zM402.2 103.8h.7v.7h-.7zM401.5 103.4h.7v.7h-.7zM402.1 102.2h.7v.7h-.7zM408.7 103.2h.7v.7h-.7zM411.1 101.8h.7v.7h-.7zM413.7 104.2h.7v.7h-.7zM406.5 103.2h.7v.7h-.7zM403.0 102.5h.7v.7h-.7zM400.5 102.8h.7v.7h-.7zM407.4 104.2h.7v.7h-.7zM410.8 103.6h.7v.7h-.7zM404.9 102.5h.7v.7h-.7zM405.0 102.9h.7v.7h-.7zM397.7 103.5h.7v.7h-.7zM399.4 102.1h.7v.7h-.7zM406.6 102.1h.7v.7h-.7zM414.1 102.6h.7v.7h-.7zM413.6 104.0h.7v.7h-.7zM404.2 103.1h.7v.7h-.7zM412.4 102.3h.7v.7h-.7zM406.9 102.1h.7v.7h-.7zM406.8 102.3h.7v.7h-.7zM406.9 103.8h.7v.7h-.7zM412.8 102.8h.7v.7h-.7zM407.4 103.6h.7v.7h-.7zM405.2 101.5h.7v.7h-.7zM411.5 101.7h.7v.7h-.7zM410.7 101.6h.7v.7h-.7zM414.8 101.6h.7v.7h-.7zM410.4 104.3h.7v.7h-.7zM402.1 104.3h.7v.7h-.7zM402.8 100.8h.7v.7h-.7zM409.8 103.5h.7v.7h-.7zM405.6 99.9h.7v.7h-.7zM406.3 102.4h.7v.7h-.7zM404.8 102.4h.7v.7h-.7zM398.4 102.1h.7v.7h-.7zM414.7 104.4h.7v.7h-.7zM404.9 101.9h.7v.7h-.7zM408.3 103.9h.7v.7h-.7zM409.8 101.4h.7v.7h-.7zM407.2 102.9h.7v.7h-.7zM413.0 104.0h.7v.7h-.7zM408.9 104.0h.7v.7h-.7zM404.7 104.4h.7v.7h-.7zM404.6 103.1h.7v.7h-.7zM410.7 101.7h.7v.7h-.7zM403.3 100.8h.7v.7h-.7zM407.2 102.6h.7v.7h-.7zM405.0 103.2h.7v.7h-.7zM396.9 102.7h.7v.7h-.7zM406.9 102.4h.7v.7h-.7zM410.1 104.6h.7v.7h-.7zM404.5 101.7h.7v.7h-.7zM403.8 102.8h.7v.7h-.7zM409.2 101.8h.7v.7h-.7zM411.0 101.6h.7v.7h-.7zM410.3 103.2h.7v.7h-.7zM408.6 105.1h.7v.7h-.7zM405.3 102.5h.7v.7h-.7zM408.7 103.6h.7v.7h-.7zM400.4 103.0h.7v.7h-.7zM403.1 103.4h.7v.7h-.7zM412.7 102.8h.7v.7h-.7zM406.0 102.9h.7v.7h-.7zM409.0 102.9h.7v.7h-.7zM404.7 101.9h.7v.7h-.7zM405.7 104.0h.7v.7h-.7zM406.0 104.2h.7v.7h-.7zM407.7 102.7h.7v.7h-.7zM399.0 102.0h.7v.7h-.7zM412.2 101.3h.7v.7h-.7zM402.0 101.5h.7v.7h-.7zM404.0 103.4h.7v.7h-.7zM409.2 100.5h.7v.7h-.7zM413.1 102.1h.7v.7h-.7zM403.8 104.5h.7v.7h-.7zM406.1 101.3h.7v.7h-.7zM403.6 101.9h.7v.7h-.7zM401.9 102.3h.7v.7h-.7zM410.5 103.1h.7v.7h-.7zM400.2 105.8h.7v.7h-.7zM402.0 102.8h.7v.7h-.7zM406.6 103.5h.7v.7h-.7zM405.0 103.2h.7v.7h-.7zM416.1 102.8h.7v.7h-.7zM401.6 103.1h.7v.7h-.7zM402.9 102.3h.7v.7h-.7zM407.4 103.1h.7v.7h-.7zM405.2 103.6h.7v.7h-.7zM405.6 101.3h.7v.7h-.7zM410.5 102.3h.7v.7h-.7zM412.0 102.0h.7v.7h-.7zM409.1 103.0h.7v.7h-.7zM401.4 104.2h.7v.7h-.7zM397.9 103.7h.7v.7h-.7zM411.5 103.2h.7v.7h-.7zM409.6 102.2h.7v.7h-.7zM406.5 102.9h.7v.7h-.7zM408.4 103.5h.7v.7h-.7zM405.6 101.9h.7v.7h-.7zM403.9 103.1h.7v.7h-.7zM399.0 101.3h.7v.7h-.7zM404.6 102.1h.7v.7h-.7zM405.3 99.8h.7v.7h-.7zM405.0 102.4h.7v.7h-.7zM410.0 100.5h.7v.7h-.7zM405.1 103.2h.7v.7h-.7zM408.7 104.0h.7v.7h-.7zM411.3 101.6h.7v.7h-.7zM409.4 102.3h.7v.7h-.7zM402.9 104.4h.7v.7h-.7zM403.6 101.8h.7v.7h-.7zM404.6 101.8h.7v.7h-.7zM411.1 103.1h.7v.7h-.7zM412.9 103.2h.7v.7h-.7zM403.7 103.8h.7v.7h-.7zM403.5 102.2h.7v.7h-.7zM405.7 102.7h.7v.7h-.7zM411.9 102.0h.7v.7h-.7zM408.1 102.7h.7v.7h-.7zM400.8 101.5h.7v.7h-.7zM405.5 103.1h.7v.7h-.7zM408.0 103.2h.7v.7h-.7zM406.7 102.2h.7v.7h-.7zM408.4 101.6h.7v.7h-.7zM400.4 102.3h.7v.7h-.7zM400.0 102.1h.7v.7h-.7zM403.1 102.1h.7v.7h-.7zM406.3 101.8h.7v.7h-.7zM404.6 100.8h.7v.7h-.7zM407.2 101.7h.7v.7h-.7zM408.3 99.6h.7v.7h-.7zM402.8 103.0h.7v.7h-.7zM406.9 102.8h.7v.7h-.7zM399.7 103.0h.7v.7h-.7zM407.2 101.6h.7v.7h-.7zM409.9 102.6h.7v.7h-.7zM406.6 102.2h.7v.7h-.7zM409.0 102.8h.7v.7h-.7zM411.7 103.2h.7v.7h-.7zM403.7 102.5h.7v.7h-.7zM410.7 102.3h.7v.7h-.7zM408.2 103.3h.7v.7h-.7zM405.7 100.1h.7v.7h-.7zM407.1 102.9h.7v.7h-.7zM407.1 101.9h.7v.7h-.7zM412.0 102.6h.7v.7h-.7zM403.6 101.9h.7v.7h-.7zM408.1 101.5h.7v.7h-.7zM401.9 104.9h.7v.7h-.7zM412.5 103.9h.7v.7h-.7zM412.7 103.4h.7v.7h-.7zM398.8 104.0h.7v.7h-.7zM412.2 103.2h.7v.7h-.7zM397.5 104.1h.7v.7h-.7zM412.8 102.2h.7v.7h-.7zM407.1 103.6h.7v.7h-.7zM406.1 103.9h.7v.7h-.7zM406.9 103.5h.7v.7h-.7zM406.9 101.1h.7v.7h-.7zM401.9 106.2h.7v.7h-.7zM407.8 104.1h.7v.7h-.7zM411.7 104.6h.7v.7h-.7zM409.0 102.0h.7v.7h-.7zM406.6 100.6h.7v.7h-.7zM405.6 103.7h.7v.7h-.7z" fill="#000" fill-opacity="0.6"/>
<rect x="395.40" y="88.30" width="41.10" height="41.10" fill="none" stroke="#111" stroke-width="0.9" />
<path d="M420.85,96.30 H415.40 V113.50 H435.60 V96.30 H429.35" fill="none" stroke="#222" stroke-width="0.75"/>
<text x="425.10" y="97.90" font-size="4.6" text-anchor="middle" fill="#231f20" >8.65</text>
<text x="434.60" y="92.90" font-size="4.1" text-anchor="end" fill="#231f20" >Annexin-V</text>
<text x="458.20" y="93.70" font-size="5.0" text-anchor="end" fill="#231f20" >10<tspan font-size="70%" dy="-1.6">5</tspan></text>
<line x1="460.20" y1="91.90" x2="462.40" y2="91.90" stroke="#231f20" stroke-width="0.6" />
<text x="458.20" y="102.70" font-size="5.0" text-anchor="end" fill="#231f20" >10<tspan font-size="70%" dy="-1.6">4</tspan></text>
<line x1="460.20" y1="100.90" x2="462.40" y2="100.90" stroke="#231f20" stroke-width="0.6" />
<text x="458.20" y="113.00" font-size="5.0" text-anchor="end" fill="#231f20" >10<tspan font-size="70%" dy="-1.6">3</tspan></text>
<line x1="460.20" y1="111.20" x2="462.40" y2="111.20" stroke="#231f20" stroke-width="0.6" />
<text x="458.20" y="121.70" font-size="5.0" text-anchor="end" fill="#231f20" >0</text>
<line x1="460.20" y1="119.90" x2="462.40" y2="119.90" stroke="#231f20" stroke-width="0.6" />
<line x1="461.20" y1="94.15" x2="462.40" y2="94.15" stroke="#231f20" stroke-width="0.4" />
<line x1="461.20" y1="96.40" x2="462.40" y2="96.40" stroke="#231f20" stroke-width="0.4" />
<line x1="461.20" y1="98.65" x2="462.40" y2="98.65" stroke="#231f20" stroke-width="0.4" />
<line x1="461.20" y1="103.47" x2="462.40" y2="103.47" stroke="#231f20" stroke-width="0.4" />
<line x1="461.20" y1="106.05" x2="462.40" y2="106.05" stroke="#231f20" stroke-width="0.4" />
<line x1="461.20" y1="108.62" x2="462.40" y2="108.62" stroke="#231f20" stroke-width="0.4" />
<line x1="461.20" y1="113.37" x2="462.40" y2="113.37" stroke="#231f20" stroke-width="0.4" />
<line x1="461.20" y1="115.55" x2="462.40" y2="115.55" stroke="#231f20" stroke-width="0.4" />
<line x1="461.20" y1="117.72" x2="462.40" y2="117.72" stroke="#231f20" stroke-width="0.4" />
<text x="470.60" y="137.80" font-size="5.0" text-anchor="middle" fill="#231f20" >0</text>
<line x1="470.60" y1="129.40" x2="470.60" y2="131.60" stroke="#231f20" stroke-width="0.6" />
<text x="480.00" y="137.80" font-size="5.0" text-anchor="middle" fill="#231f20" >10<tspan font-size="70%" dy="-1.6">3</tspan></text>
<line x1="480.00" y1="129.40" x2="480.00" y2="131.60" stroke="#231f20" stroke-width="0.6" />
<text x="489.70" y="137.80" font-size="5.0" text-anchor="middle" fill="#231f20" >10<tspan font-size="70%" dy="-1.6">4</tspan></text>
<line x1="489.70" y1="129.40" x2="489.70" y2="131.60" stroke="#231f20" stroke-width="0.6" />
<text x="500.00" y="137.80" font-size="5.0" text-anchor="middle" fill="#231f20" >10<tspan font-size="70%" dy="-1.6">5</tspan></text>
<line x1="500.00" y1="129.40" x2="500.00" y2="131.60" stroke="#231f20" stroke-width="0.6" />
<line x1="464.40" y1="129.40" x2="464.40" y2="130.60" stroke="#231f20" stroke-width="0.4" />
<line x1="467.34" y1="129.40" x2="467.34" y2="130.60" stroke="#231f20" stroke-width="0.4" />
<line x1="470.28" y1="129.40" x2="470.28" y2="130.60" stroke="#231f20" stroke-width="0.4" />
<line x1="473.22" y1="129.40" x2="473.22" y2="130.60" stroke="#231f20" stroke-width="0.4" />
<line x1="476.15" y1="129.40" x2="476.15" y2="130.60" stroke="#231f20" stroke-width="0.4" />
<line x1="479.09" y1="129.40" x2="479.09" y2="130.60" stroke="#231f20" stroke-width="0.4" />
<line x1="482.03" y1="129.40" x2="482.03" y2="130.60" stroke="#231f20" stroke-width="0.4" />
<line x1="484.97" y1="129.40" x2="484.97" y2="130.60" stroke="#231f20" stroke-width="0.4" />
<line x1="487.91" y1="129.40" x2="487.91" y2="130.60" stroke="#231f20" stroke-width="0.4" />
<line x1="490.85" y1="129.40" x2="490.85" y2="130.60" stroke="#231f20" stroke-width="0.4" />
<line x1="493.78" y1="129.40" x2="493.78" y2="130.60" stroke="#231f20" stroke-width="0.4" />
<line x1="496.72" y1="129.40" x2="496.72" y2="130.60" stroke="#231f20" stroke-width="0.4" />
<line x1="499.66" y1="129.40" x2="499.66" y2="130.60" stroke="#231f20" stroke-width="0.4" />
<line x1="502.60" y1="129.40" x2="502.60" y2="130.60" stroke="#231f20" stroke-width="0.4" />
<path d="M477.5 105.6h.6v.6h-.6zM468.6 102.5h.6v.6h-.6zM463.7 101.9h.6v.6h-.6zM476.0 106.8h.6v.6h-.6zM467.5 105.7h.6v.6h-.6zM475.5 102.7h.6v.6h-.6zM484.5 99.5h.6v.6h-.6zM473.0 103.8h.6v.6h-.6zM484.2 106.3h.6v.6h-.6zM484.8 103.7h.6v.6h-.6zM478.3 105.6h.6v.6h-.6zM475.9 104.1h.6v.6h-.6zM472.4 102.9h.6v.6h-.6zM467.0 106.6h.6v.6h-.6zM471.0 100.2h.6v.6h-.6zM474.6 103.4h.6v.6h-.6zM474.2 106.4h.6v.6h-.6zM472.8 103.1h.6v.6h-.6zM469.5 103.5h.6v.6h-.6zM471.1 103.8h.6v.6h-.6zM489.2 104.1h.6v.6h-.6zM468.9 106.5h.6v.6h-.6zM477.7 104.8h.6v.6h-.6zM477.0 104.8h.6v.6h-.6zM476.7 105.7h.6v.6h-.6zM478.4 105.6h.6v.6h-.6zM470.7 103.5h.6v.6h-.6zM469.6 105.0h.6v.6h-.6zM477.5 102.8h.6v.6h-.6zM476.3 107.6h.6v.6h-.6zM479.6 101.7h.6v.6h-.6zM472.8 104.5h.6v.6h-.6zM473.1 104.1h.6v.6h-.6zM479.3 104.0h.6v.6h-.6zM467.7 104.6h.6v.6h-.6zM472.8 103.7h.6v.6h-.6zM470.4 101.3h.6v.6h-.6zM466.9 102.9h.6v.6h-.6zM467.8 99.2h.6v.6h-.6zM479.2 101.7h.6v.6h-.6zM469.6 104.3h.6v.6h-.6zM469.4 104.5h.6v.6h-.6zM470.8 104.0h.6v.6h-.6zM473.8 103.5h.6v.6h-.6zM464.0 101.2h.6v.6h-.6zM473.1 105.7h.6v.6h-.6zM470.5 104.3h.6v.6h-.6zM474.1 104.3h.6v.6h-.6zM478.4 101.1h.6v.6h-.6zM474.7 103.2h.6v.6h-.6zM471.7 102.2h.6v.6h-.6zM469.3 101.9h.6v.6h-.6zM467.7 107.5h.6v.6h-.6zM482.0 103.5h.6v.6h-.6zM477.1 102.0h.6v.6h-.6zM474.0 105.8h.6v.6h-.6zM473.1 101.9h.6v.6h-.6zM472.1 101.9h.6v.6h-.6zM466.2 103.1h.6v.6h-.6zM471.3 102.2h.6v.6h-.6zM468.8 102.0h.6v.6h-.6zM474.5 105.7h.6v.6h-.6zM472.2 107.0h.6v.6h-.6zM465.0 103.9h.6v.6h-.6zM467.4 103.2h.6v.6h-.6zM473.8 104.4h.6v.6h-.6zM479.1 102.6h.6v.6h-.6zM466.9 103.2h.6v.6h-.6zM474.8 102.4h.6v.6h-.6zM477.9 106.2h.6v.6h-.6zM466.0 104.1h.6v.6h-.6zM478.5 100.5h.6v.6h-.6zM474.4 103.1h.6v.6h-.6zM466.0 105.6h.6v.6h-.6zM474.4 102.7h.6v.6h-.6zM475.6 104.5h.6v.6h-.6zM477.2 104.4h.6v.6h-.6zM475.4 101.6h.6v.6h-.6zM471.1 103.7h.6v.6h-.6zM471.4 101.8h.6v.6h-.6zM464.0 103.9h.6v.6h-.6zM473.5 102.6h.6v.6h-.6zM471.2 102.1h.6v.6h-.6zM469.5 103.3h.6v.6h-.6zM470.0 104.6h.6v.6h-.6zM472.6 103.7h.6v.6h-.6zM475.4 105.5h.6v.6h-.6zM476.4 103.9h.6v.6h-.6zM472.5 102.2h.6v.6h-.6zM471.5 104.6h.6v.6h-.6zM474.5 102.9h.6v.6h-.6zM466.5 101.1h.6v.6h-.6zM474.9 105.1h.6v.6h-.6zM475.2 101.3h.6v.6h-.6zM472.2 103.9h.6v.6h-.6zM468.6 104.0h.6v.6h-.6zM472.3 102.2h.6v.6h-.6zM466.9 104.8h.6v.6h-.6zM475.1 102.1h.6v.6h-.6zM468.1 104.9h.6v.6h-.6zM476.3 103.0h.6v.6h-.6zM481.4 103.0h.6v.6h-.6zM467.9 105.2h.6v.6h-.6zM472.3 104.0h.6v.6h-.6zM473.5 101.9h.6v.6h-.6zM467.2 103.2h.6v.6h-.6zM480.5 101.9h.6v.6h-.6zM480.2 103.8h.6v.6h-.6zM467.6 103.9h.6v.6h-.6zM476.2 102.1h.6v.6h-.6zM467.6 104.2h.6v.6h-.6zM463.5 103.3h.6v.6h-.6zM469.2 101.2h.6v.6h-.6zM472.1 103.8h.6v.6h-.6zM470.5 101.6h.6v.6h-.6zM474.4 100.7h.6v.6h-.6zM476.0 104.3h.6v.6h-.6zM481.9 104.9h.6v.6h-.6zM475.1 103.9h.6v.6h-.6zM473.4 101.4h.6v.6h-.6zM480.8 104.3h.6v.6h-.6zM471.8 101.7h.6v.6h-.6zM480.9 104.3h.6v.6h-.6zM467.3 104.6h.6v.6h-.6zM483.0 103.5h.6v.6h-.6zM475.3 102.8h.6v.6h-.6zM470.1 105.2h.6v.6h-.6zM489.0 103.7h.6v.6h-.6zM472.7 104.7h.6v.6h-.6zM471.7 104.6h.6v.6h-.6zM477.5 101.9h.6v.6h-.6zM467.8 103.4h.6v.6h-.6zM477.5 103.9h.6v.6h-.6zM479.6 101.3h.6v.6h-.6zM475.8 102.5h.6v.6h-.6zM473.8 104.0h.6v.6h-.6zM468.4 103.1h.6v.6h-.6zM467.4 103.9h.6v.6h-.6zM469.0 102.7h.6v.6h-.6zM474.4 102.5h.6v.6h-.6zM479.2 102.5h.6v.6h-.6zM477.6 103.9h.6v.6h-.6zM468.0 103.2h.6v.6h-.6zM469.0 102.9h.6v.6h-.6zM471.9 106.4h.6v.6h-.6zM471.2 106.0h.6v.6h-.6zM475.6 101.4h.6v.6h-.6zM463.2 104.6h.6v.6h-.6zM478.5 104.1h.6v.6h-.6zM472.2 103.1h.6v.6h-.6zM474.6 103.0h.6v.6h-.6zM470.6 102.9h.6v.6h-.6zM479.3 102.5h.6v.6h-.6zM475.2 101.7h.6v.6h-.6zM469.7 101.3h.6v.6h-.6zM472.3 104.6h.6v.6h-.6zM474.9 102.7h.6v.6h-.6zM476.4 103.0h.6v.6h-.6zM475.2 103.9h.6v.6h-.6zM476.1 99.6h.6v.6h-.6zM466.7 104.7h.6v.6h-.6zM472.8 107.0h.6v.6h-.6zM472.1 102.6h.6v.6h-.6zM480.9 104.4h.6v.6h-.6zM482.9 104.3h.6v.6h-.6zM472.3 104.6h.6v.6h-.6zM469.3 102.8h.6v.6h-.6zM470.5 103.2h.6v.6h-.6zM477.3 102.7h.6v.6h-.6zM474.9 102.7h.6v.6h-.6zM477.8 99.2h.6v.6h-.6zM472.2 103.8h.6v.6h-.6zM467.8 105.1h.6v.6h-.6zM474.4 105.5h.6v.6h-.6zM478.2 104.5h.6v.6h-.6zM472.5 101.8h.6v.6h-.6zM472.2 102.8h.6v.6h-.6zM474.6 102.8h.6v.6h-.6zM488.8 101.0h.6v.6h-.6zM479.3 102.8h.6v.6h-.6zM472.1 104.9h.6v.6h-.6zM473.3 101.6h.6v.6h-.6zM475.4 103.2h.6v.6h-.6zM467.9 102.3h.6v.6h-.6zM475.7 104.0h.6v.6h-.6zM471.8 106.9h.6v.6h-.6zM475.4 102.5h.6v.6h-.6zM474.5 103.3h.6v.6h-.6zM466.3 106.7h.6v.6h-.6zM472.4 103.1h.6v.6h-.6zM470.4 105.0h.6v.6h-.6zM473.4 106.2h.6v.6h-.6zM477.3 106.1h.6v.6h-.6zM472.7 104.1h.6v.6h-.6zM471.1 103.2h.6v.6h-.6zM464.5 102.6h.6v.6h-.6zM468.5 102.5h.6v.6h-.6zM479.5 103.9h.6v.6h-.6zM479.5 104.8h.6v.6h-.6zM478.0 105.1h.6v.6h-.6zM470.2 104.8h.6v.6h-.6zM471.7 102.7h.6v.6h-.6zM479.3 106.9h.6v.6h-.6zM468.3 106.2h.6v.6h-.6zM477.5 102.2h.6v.6h-.6zM474.7 104.1h.6v.6h-.6zM475.2 102.9h.6v.6h-.6zM466.8 103.5h.6v.6h-.6zM477.7 104.7h.6v.6h-.6zM476.6 105.2h.6v.6h-.6zM468.3 103.4h.6v.6h-.6zM475.0 105.1h.6v.6h-.6zM474.1 104.3h.6v.6h-.6zM474.0 106.8h.6v.6h-.6zM485.8 103.9h.6v.6h-.6zM464.0 103.7h.6v.6h-.6zM466.0 102.4h.6v.6h-.6zM474.4 106.2h.6v.6h-.6zM475.6 104.5h.6v.6h-.6zM478.4 103.8h.6v.6h-.6zM469.0 103.3h.6v.6h-.6zM475.0 103.1h.6v.6h-.6zM469.9 102.9h.6v.6h-.6zM465.7 101.9h.6v.6h-.6zM472.8 102.9h.6v.6h-.6zM473.5 105.7h.6v.6h-.6zM474.8 103.4h.6v.6h-.6zM467.4 101.8h.6v.6h-.6zM475.2 102.1h.6v.6h-.6zM475.5 101.8h.6v.6h-.6zM474.0 103.4h.6v.6h-.6zM478.3 102.9h.6v.6h-.6zM471.4 103.9h.6v.6h-.6zM473.6 106.1h.6v.6h-.6zM472.0 102.7h.6v.6h-.6zM471.7 104.2h.6v.6h-.6zM474.5 104.6h.6v.6h-.6zM466.3 107.4h.6v.6h-.6zM482.6 103.5h.6v.6h-.6zM467.2 103.7h.6v.6h-.6zM475.4 100.0h.6v.6h-.6zM473.4 101.2h.6v.6h-.6zM475.6 105.7h.6v.6h-.6zM478.5 101.2h.6v.6h-.6zM480.3 104.9h.6v.6h-.6zM471.5 104.3h.6v.6h-.6zM481.0 103.0h.6v.6h-.6zM473.2 102.6h.6v.6h-.6zM479.1 100.1h.6v.6h-.6zM480.5 102.0h.6v.6h-.6zM478.0 101.0h.6v.6h-.6zM491.4 100.4h.6v.6h-.6zM494.6 104.8h.6v.6h-.6zM495.9 102.1h.6v.6h-.6zM490.5 107.9h.6v.6h-.6zM497.1 107.0h.6v.6h-.6zM494.6 106.6h.6v.6h-.6zM486.0 104.2h.6v.6h-.6zM485.2 102.4h.6v.6h-.6zM489.3 103.7h.6v.6h-.6zM496.5 105.6h.6v.6h-.6zM493.0 103.1h.6v.6h-.6zM494.5 101.8h.6v.6h-.6zM494.7 101.7h.6v.6h-.6zM495.2 99.6h.6v.6h-.6zM488.5 105.7h.6v.6h-.6zM495.4 104.9h.6v.6h-.6zM487.4 100.7h.6v.6h-.6zM494.7 101.6h.6v.6h-.6zM482.1 103.2h.6v.6h-.6zM483.8 103.5h.6v.6h-.6zM495.0 101.4h.6v.6h-.6zM489.3 104.7h.6v.6h-.6zM487.4 103.9h.6v.6h-.6zM495.5 105.1h.6v.6h-.6zM491.9 103.3h.6v.6h-.6zM486.3 104.2h.6v.6h-.6zM493.2 101.0h.6v.6h-.6zM494.9 104.4h.6v.6h-.6zM483.9 103.3h.6v.6h-.6zM495.2 103.0h.6v.6h-.6zM484.9 102.9h.6v.6h-.6zM487.8 108.0h.6v.6h-.6zM485.6 105.4h.6v.6h-.6zM496.3 101.9h.6v.6h-.6zM488.3 99.0h.6v.6h-.6zM490.1 103.5h.6v.6h-.6zM497.8 104.8h.6v.6h-.6zM484.6 106.6h.6v.6h-.6zM490.4 104.6h.6v.6h-.6zM497.1 103.5h.6v.6h-.6zM489.3 104.0h.6v.6h-.6zM487.6 102.2h.6v.6h-.6zM483.6 100.1h.6v.6h-.6zM490.2 102.3h.6v.6h-.6zM488.0 106.9h.6v.6h-.6zM492.7 101.8h.6v.6h-.6zM483.2 102.1h.6v.6h-.6zM497.3 102.1h.6v.6h-.6zM487.8 102.2h.6v.6h-.6zM488.0 101.3h.6v.6h-.6zM490.4 101.8h.6v.6h-.6zM490.0 100.0h.6v.6h-.6zM487.8 104.1h.6v.6h-.6zM495.4 103.4h.6v.6h-.6zM492.9 101.7h.6v.6h-.6zM494.0 102.8h.6v.6h-.6zM496.3 103.1h.6v.6h-.6zM482.6 100.5h.6v.6h-.6zM487.2 106.4h.6v.6h-.6zM496.3 106.9h.6v.6h-.6zM484.3 101.5h.6v.6h-.6zM482.7 102.3h.6v.6h-.6zM488.3 103.5h.6v.6h-.6zM486.5 100.9h.6v.6h-.6zM494.2 102.9h.6v.6h-.6zM488.7 105.7h.6v.6h-.6zM497.7 101.6h.6v.6h-.6zM492.8 100.9h.6v.6h-.6zM488.1 106.3h.6v.6h-.6zM493.1 102.8h.6v.6h-.6zM486.4 104.7h.6v.6h-.6zM495.2 105.5h.6v.6h-.6zM494.7 102.9h.6v.6h-.6zM490.3 104.3h.6v.6h-.6zM496.0 105.0h.6v.6h-.6zM484.7 106.0h.6v.6h-.6zM487.0 104.9h.6v.6h-.6zM488.1 104.0h.6v.6h-.6zM497.5 104.6h.6v.6h-.6zM487.0 103.2h.6v.6h-.6zM497.1 104.0h.6v.6h-.6zM489.0 105.0h.6v.6h-.6zM483.7 103.4h.6v.6h-.6zM488.2 105.3h.6v.6h-.6zM497.4 103.4h.6v.6h-.6zM496.5 104.7h.6v.6h-.6zM489.2 104.8h.6v.6h-.6zM494.5 101.3h.6v.6h-.6zM487.0 105.2h.6v.6h-.6zM489.5 106.0h.6v.6h-.6zM490.9 102.1h.6v.6h-.6zM486.4 100.9h.6v.6h-.6zM487.8 105.4h.6v.6h-.6zM486.6 102.4h.6v.6h-.6zM492.1 103.3h.6v.6h-.6zM482.7 106.6h.6v.6h-.6z" fill="#000" fill-opacity="0.28"/>
<ellipse cx="473.3" cy="103.5" rx="10.50" ry="3.60" fill="#000" fill-opacity="0.10" filter="url(#bl)" transform="rotate(-1 473.3 103.5)"/>
<ellipse cx="473.3" cy="103.5" rx="12.09" ry="2.61" fill="url(#rg)" transform="rotate(-1 473.3 103.5)"/>
<path d="M476.4 102.3h.7v.7h-.7zM465.9 105.5h.7v.7h-.7zM472.9 104.3h.7v.7h-.7zM479.1 104.1h.7v.7h-.7zM473.5 101.9h.7v.7h-.7zM465.4 104.5h.7v.7h-.7zM476.7 104.1h.7v.7h-.7zM465.1 101.3h.7v.7h-.7zM468.1 102.3h.7v.7h-.7zM474.1 102.4h.7v.7h-.7zM481.1 102.8h.7v.7h-.7zM470.5 104.4h.7v.7h-.7zM474.9 102.6h.7v.7h-.7zM477.4 105.5h.7v.7h-.7zM467.2 103.2h.7v.7h-.7zM468.0 101.5h.7v.7h-.7zM476.4 104.2h.7v.7h-.7zM478.1 103.9h.7v.7h-.7zM463.3 103.5h.7v.7h-.7zM470.0 102.3h.7v.7h-.7zM467.8 104.3h.7v.7h-.7zM471.8 105.6h.7v.7h-.7zM475.6 101.5h.7v.7h-.7zM477.7 104.8h.7v.7h-.7zM473.5 102.2h.7v.7h-.7zM482.1 102.1h.7v.7h-.7zM472.9 101.5h.7v.7h-.7zM467.1 101.7h.7v.7h-.7zM478.7 104.7h.7v.7h-.7zM471.3 102.1h.7v.7h-.7zM473.0 103.9h.7v.7h-.7zM465.7 102.3h.7v.7h-.7zM472.8 104.2h.7v.7h-.7zM473.7 104.0h.7v.7h-.7zM467.1 100.9h.7v.7h-.7zM474.9 102.5h.7v.7h-.7zM472.7 103.1h.7v.7h-.7zM475.7 102.7h.7v.7h-.7zM480.5 103.5h.7v.7h-.7zM475.9 104.2h.7v.7h-.7zM478.5 103.9h.7v.7h-.7zM464.6 102.8h.7v.7h-.7zM482.6 104.0h.7v.7h-.7zM476.1 104.0h.7v.7h-.7zM470.1 102.8h.7v.7h-.7zM470.1 104.7h.7v.7h-.7zM475.1 105.4h.7v.7h-.7zM475.8 105.5h.7v.7h-.7zM475.6 102.2h.7v.7h-.7zM482.0 103.9h.7v.7h-.7zM479.3 103.7h.7v.7h-.7zM471.7 103.7h.7v.7h-.7zM467.7 102.2h.7v.7h-.7zM468.8 102.9h.7v.7h-.7zM466.5 103.4h.7v.7h-.7zM474.8 105.6h.7v.7h-.7zM482.5 103.4h.7v.7h-.7zM477.7 103.3h.7v.7h-.7zM475.3 103.5h.7v.7h-.7zM470.6 103.6h.7v.7h-.7zM465.9 104.0h.7v.7h-.7zM471.8 102.4h.7v.7h-.7zM471.5 104.1h.7v.7h-.7zM469.9 104.0h.7v.7h-.7zM476.2 105.2h.7v.7h-.7zM467.8 103.4h.7v.7h-.7zM475.9 105.1h.7v.7h-.7zM474.6 104.3h.7v.7h-.7zM465.9 102.9h.7v.7h-.7zM481.7 103.2h.7v.7h-.7zM484.2 102.7h.7v.7h-.7zM471.9 101.8h.7v.7h-.7zM476.5 103.8h.7v.7h-.7zM483.5 103.7h.7v.7h-.7zM472.0 102.0h.7v.7h-.7zM472.9 104.5h.7v.7h-.7zM477.0 104.8h.7v.7h-.7zM477.7 103.5h.7v.7h-.7zM476.4 103.7h.7v.7h-.7zM466.6 105.3h.7v.7h-.7zM475.2 102.4h.7v.7h-.7zM475.2 103.8h.7v.7h-.7zM478.3 105.0h.7v.7h-.7zM481.0 102.5h.7v.7h-.7zM463.9 103.8h.7v.7h-.7zM475.0 103.9h.7v.7h-.7zM467.7 103.0h.7v.7h-.7zM474.3 104.3h.7v.7h-.7zM484.4 103.8h.7v.7h-.7zM470.2 101.0h.7v.7h-.7zM478.7 103.4h.7v.7h-.7zM472.7 102.4h.7v.7h-.7zM477.0 101.6h.7v.7h-.7zM473.8 103.6h.7v.7h-.7zM474.8 104.9h.7v.7h-.7zM472.8 103.6h.7v.7h-.7zM477.6 101.8h.7v.7h-.7zM471.8 103.6h.7v.7h-.7zM478.1 102.6h.7v.7h-.7zM477.4 103.9h.7v.7h-.7zM465.8 101.9h.7v.7h-.7zM466.0 103.6h.7v.7h-.7zM474.3 104.3h.7v.7h-.7zM477.5 102.9h.7v.7h-.7zM478.7 104.4h.7v.7h-.7zM475.7 104.0h.7v.7h-.7zM466.8 103.9h.7v.7h-.7zM468.1 102.2h.7v.7h-.7zM471.5 103.6h.7v.7h-.7zM473.0 103.1h.7v.7h-.7zM468.2 103.7h.7v.7h-.7zM469.5 102.0h.7v.7h-.7zM473.8 105.1h.7v.7h-.7zM471.2 102.4h.7v.7h-.7zM480.3 105.3h.7v.7h-.7zM471.8 103.3h.7v.7h-.7zM474.4 106.7h.7v.7h-.7zM474.0 104.6h.7v.7h-.7zM475.6 101.5h.7v.7h-.7zM467.7 102.2h.7v.7h-.7zM475.5 103.6h.7v.7h-.7zM482.4 103.2h.7v.7h-.7zM474.9 103.6h.7v.7h-.7zM474.0 106.0h.7v.7h-.7zM474.8 105.1h.7v.7h-.7zM479.9 102.8h.7v.7h-.7zM476.8 103.1h.7v.7h-.7zM473.9 103.7h.7v.7h-.7zM473.4 103.0h.7v.7h-.7zM481.2 103.2h.7v.7h-.7zM476.9 105.3h.7v.7h-.7zM476.5 104.6h.7v.7h-.7zM480.4 104.7h.7v.7h-.7zM482.1 102.0h.7v.7h-.7zM483.3 103.5h.7v.7h-.7zM464.4 102.8h.7v.7h-.7zM466.2 103.5h.7v.7h-.7zM465.7 102.4h.7v.7h-.7zM474.8 103.7h.7v.7h-.7zM469.2 103.2h.7v.7h-.7zM472.8 103.6h.7v.7h-.7zM473.3 103.3h.7v.7h-.7zM477.8 101.8h.7v.7h-.7zM470.8 103.6h.7v.7h-.7zM471.3 102.9h.7v.7h-.7zM471.1 103.7h.7v.7h-.7zM479.7 103.3h.7v.7h-.7zM471.9 103.9h.7v.7h-.7zM472.1 101.4h.7v.7h-.7zM474.7 103.1h.7v.7h-.7zM470.4 104.2h.7v.7h-.7zM473.5 102.9h.7v.7h-.7zM473.4 103.4h.7v.7h-.7zM475.5 103.7h.7v.7h-.7zM470.9 102.1h.7v.7h-.7zM467.7 103.3h.7v.7h-.7zM467.4 104.3h.7v.7h-.7zM466.5 101.6h.7v.7h-.7zM472.3 101.6h.7v.7h-.7zM481.6 102.4h.7v.7h-.7zM473.0 103.2h.7v.7h-.7zM469.1 101.6h.7v.7h-.7zM463.8 104.4h.7v.7h-.7zM478.5 105.8h.7v.7h-.7zM465.8 104.1h.7v.7h-.7zM473.2 104.4h.7v.7h-.7zM470.7 104.3h.7v.7h-.7zM477.9 104.2h.7v.7h-.7zM480.7 103.3h.7v.7h-.7zM481.2 102.7h.7v.7h-.7zM481.8 100.5h.7v.7h-.7zM473.4 102.6h.7v.7h-.7zM473.3 104.6h.7v.7h-.7zM477.0 103.6h.7v.7h-.7zM482.0 101.9h.7v.7h-.7zM469.1 105.1h.7v.7h-.7zM475.0 101.3h.7v.7h-.7zM475.0 102.2h.7v.7h-.7z" fill="#000" fill-opacity="0.6"/>
<rect x="462.40" y="88.30" width="42.20" height="41.10" fill="none" stroke="#111" stroke-width="0.9" />
<path d="M488.95,96.30 H483.40 V113.50 H503.80 V96.30 H497.45" fill="none" stroke="#222" stroke-width="0.75"/>
<text x="493.20" y="97.90" font-size="4.6" text-anchor="middle" fill="#231f20" >10.5</text>
<text x="502.80" y="92.90" font-size="4.1" text-anchor="end" fill="#231f20" >Annexin-V</text>
<text x="391.00" y="149.40" font-size="5.0" text-anchor="end" fill="#231f20" >10<tspan font-size="70%" dy="-1.6">5</tspan></text>
<line x1="393.20" y1="147.60" x2="395.40" y2="147.60" stroke="#231f20" stroke-width="0.6" />
<text x="391.00" y="158.40" font-size="5.0" text-anchor="end" fill="#231f20" >10<tspan font-size="70%" dy="-1.6">4</tspan></text>
<line x1="393.20" y1="156.60" x2="395.40" y2="156.60" stroke="#231f20" stroke-width="0.6" />
<text x="391.00" y="168.70" font-size="5.0" text-anchor="end" fill="#231f20" >10<tspan font-size="70%" dy="-1.6">3</tspan></text>
<line x1="393.20" y1="166.90" x2="395.40" y2="166.90" stroke="#231f20" stroke-width="0.6" />
<text x="391.00" y="177.40" font-size="5.0" text-anchor="end" fill="#231f20" >0</text>
<line x1="393.20" y1="175.60" x2="395.40" y2="175.60" stroke="#231f20" stroke-width="0.6" />
<line x1="394.20" y1="149.85" x2="395.40" y2="149.85" stroke="#231f20" stroke-width="0.4" />
<line x1="394.20" y1="152.10" x2="395.40" y2="152.10" stroke="#231f20" stroke-width="0.4" />
<line x1="394.20" y1="154.35" x2="395.40" y2="154.35" stroke="#231f20" stroke-width="0.4" />
<line x1="394.20" y1="159.17" x2="395.40" y2="159.17" stroke="#231f20" stroke-width="0.4" />
<line x1="394.20" y1="161.75" x2="395.40" y2="161.75" stroke="#231f20" stroke-width="0.4" />
<line x1="394.20" y1="164.32" x2="395.40" y2="164.32" stroke="#231f20" stroke-width="0.4" />
<line x1="394.20" y1="169.08" x2="395.40" y2="169.08" stroke="#231f20" stroke-width="0.4" />
<line x1="394.20" y1="171.25" x2="395.40" y2="171.25" stroke="#231f20" stroke-width="0.4" />
<line x1="394.20" y1="173.43" x2="395.40" y2="173.43" stroke="#231f20" stroke-width="0.4" />
<text x="403.50" y="193.20" font-size="5.0" text-anchor="middle" fill="#231f20" >0</text>
<line x1="403.50" y1="184.80" x2="403.50" y2="187.00" stroke="#231f20" stroke-width="0.6" />
<text x="412.60" y="193.20" font-size="5.0" text-anchor="middle" fill="#231f20" >10<tspan font-size="70%" dy="-1.6">3</tspan></text>
<line x1="412.60" y1="184.80" x2="412.60" y2="187.00" stroke="#231f20" stroke-width="0.6" />
<text x="423.00" y="193.20" font-size="5.0" text-anchor="middle" fill="#231f20" >10<tspan font-size="70%" dy="-1.6">4</tspan></text>
<line x1="423.00" y1="184.80" x2="423.00" y2="187.00" stroke="#231f20" stroke-width="0.6" />
<text x="432.20" y="193.20" font-size="5.0" text-anchor="middle" fill="#231f20" >10<tspan font-size="70%" dy="-1.6">5</tspan></text>
<line x1="432.20" y1="184.80" x2="432.20" y2="187.00" stroke="#231f20" stroke-width="0.6" />
<line x1="397.40" y1="184.80" x2="397.40" y2="186.00" stroke="#231f20" stroke-width="0.4" />
<line x1="400.25" y1="184.80" x2="400.25" y2="186.00" stroke="#231f20" stroke-width="0.4" />
<line x1="403.11" y1="184.80" x2="403.11" y2="186.00" stroke="#231f20" stroke-width="0.4" />
<line x1="405.96" y1="184.80" x2="405.96" y2="186.00" stroke="#231f20" stroke-width="0.4" />
<line x1="408.82" y1="184.80" x2="408.82" y2="186.00" stroke="#231f20" stroke-width="0.4" />
<line x1="411.67" y1="184.80" x2="411.67" y2="186.00" stroke="#231f20" stroke-width="0.4" />
<line x1="414.52" y1="184.80" x2="414.52" y2="186.00" stroke="#231f20" stroke-width="0.4" />
<line x1="417.38" y1="184.80" x2="417.38" y2="186.00" stroke="#231f20" stroke-width="0.4" />
<line x1="420.23" y1="184.80" x2="420.23" y2="186.00" stroke="#231f20" stroke-width="0.4" />
<line x1="423.08" y1="184.80" x2="423.08" y2="186.00" stroke="#231f20" stroke-width="0.4" />
<line x1="425.94" y1="184.80" x2="425.94" y2="186.00" stroke="#231f20" stroke-width="0.4" />
<line x1="428.79" y1="184.80" x2="428.79" y2="186.00" stroke="#231f20" stroke-width="0.4" />
<line x1="431.65" y1="184.80" x2="431.65" y2="186.00" stroke="#231f20" stroke-width="0.4" />
<line x1="434.50" y1="184.80" x2="434.50" y2="186.00" stroke="#231f20" stroke-width="0.4" />
<path d="M423.3 161.3h.6v.6h-.6zM408.6 161.6h.6v.6h-.6zM406.6 160.9h.6v.6h-.6zM416.8 158.7h.6v.6h-.6zM402.3 158.4h.6v.6h-.6zM396.0 157.9h.6v.6h-.6zM399.2 161.5h.6v.6h-.6zM405.6 154.1h.6v.6h-.6zM416.8 159.7h.6v.6h-.6zM408.9 163.3h.6v.6h-.6zM418.2 159.1h.6v.6h-.6zM407.9 153.0h.6v.6h-.6zM416.1 160.9h.6v.6h-.6zM408.3 156.1h.6v.6h-.6zM412.3 155.6h.6v.6h-.6zM412.7 160.6h.6v.6h-.6zM423.5 159.5h.6v.6h-.6zM414.0 160.5h.6v.6h-.6zM422.7 158.4h.6v.6h-.6zM403.7 157.4h.6v.6h-.6zM403.5 157.2h.6v.6h-.6zM411.7 159.7h.6v.6h-.6zM413.7 159.1h.6v.6h-.6zM410.0 159.9h.6v.6h-.6zM419.0 160.5h.6v.6h-.6zM423.5 158.4h.6v.6h-.6zM410.8 162.4h.6v.6h-.6zM414.1 159.8h.6v.6h-.6zM410.2 161.0h.6v.6h-.6zM409.7 157.0h.6v.6h-.6zM412.2 158.1h.6v.6h-.6zM418.6 158.2h.6v.6h-.6zM413.5 158.6h.6v.6h-.6zM415.1 157.7h.6v.6h-.6zM420.6 156.1h.6v.6h-.6zM409.8 157.6h.6v.6h-.6zM417.3 159.1h.6v.6h-.6zM416.1 158.3h.6v.6h-.6zM407.4 156.7h.6v.6h-.6zM410.2 157.9h.6v.6h-.6zM414.6 159.7h.6v.6h-.6zM419.7 158.8h.6v.6h-.6zM407.2 156.9h.6v.6h-.6zM413.0 159.7h.6v.6h-.6zM426.7 159.4h.6v.6h-.6zM425.3 162.8h.6v.6h-.6zM405.0 161.5h.6v.6h-.6zM420.8 161.7h.6v.6h-.6zM412.5 160.9h.6v.6h-.6zM409.1 158.9h.6v.6h-.6zM412.7 162.6h.6v.6h-.6zM411.0 160.9h.6v.6h-.6zM413.1 157.6h.6v.6h-.6zM414.4 160.3h.6v.6h-.6zM407.4 160.3h.6v.6h-.6zM407.4 157.2h.6v.6h-.6zM414.2 158.5h.6v.6h-.6zM405.5 155.7h.6v.6h-.6zM412.8 159.5h.6v.6h-.6zM409.3 159.4h.6v.6h-.6zM401.5 159.8h.6v.6h-.6zM415.6 159.6h.6v.6h-.6zM408.2 159.2h.6v.6h-.6zM413.5 161.2h.6v.6h-.6zM414.6 159.5h.6v.6h-.6zM407.4 160.7h.6v.6h-.6zM421.1 158.0h.6v.6h-.6zM417.2 159.6h.6v.6h-.6zM412.3 156.4h.6v.6h-.6zM425.3 155.2h.6v.6h-.6zM414.8 158.2h.6v.6h-.6zM420.9 158.1h.6v.6h-.6zM412.9 160.2h.6v.6h-.6zM415.9 157.9h.6v.6h-.6zM417.5 159.8h.6v.6h-.6zM419.8 158.0h.6v.6h-.6zM412.3 158.2h.6v.6h-.6zM406.5 159.5h.6v.6h-.6zM415.6 161.9h.6v.6h-.6zM410.2 159.8h.6v.6h-.6zM420.9 158.8h.6v.6h-.6zM413.1 159.3h.6v.6h-.6zM407.6 157.0h.6v.6h-.6zM420.7 159.3h.6v.6h-.6zM412.1 156.5h.6v.6h-.6zM413.5 161.4h.6v.6h-.6zM404.3 157.2h.6v.6h-.6zM420.6 161.9h.6v.6h-.6zM423.8 157.9h.6v.6h-.6zM416.9 157.5h.6v.6h-.6zM416.4 158.3h.6v.6h-.6zM414.0 161.7h.6v.6h-.6zM415.0 158.5h.6v.6h-.6zM413.0 159.5h.6v.6h-.6zM408.9 159.4h.6v.6h-.6zM416.9 162.1h.6v.6h-.6zM397.7 156.6h.6v.6h-.6zM403.7 160.8h.6v.6h-.6zM430.2 159.4h.6v.6h-.6zM413.5 161.3h.6v.6h-.6zM408.9 158.0h.6v.6h-.6zM415.1 157.8h.6v.6h-.6zM420.6 159.0h.6v.6h-.6zM415.3 164.1h.6v.6h-.6zM409.4 160.9h.6v.6h-.6zM406.6 161.5h.6v.6h-.6zM419.5 159.3h.6v.6h-.6zM419.7 162.2h.6v.6h-.6zM422.5 159.0h.6v.6h-.6zM412.2 161.2h.6v.6h-.6zM402.0 157.8h.6v.6h-.6zM416.1 160.1h.6v.6h-.6zM426.0 162.5h.6v.6h-.6zM414.9 159.9h.6v.6h-.6zM403.1 158.6h.6v.6h-.6zM414.5 158.5h.6v.6h-.6zM413.0 160.2h.6v.6h-.6zM405.8 157.9h.6v.6h-.6zM399.8 161.3h.6v.6h-.6zM405.0 155.6h.6v.6h-.6zM418.1 158.6h.6v.6h-.6zM419.5 158.3h.6v.6h-.6zM427.9 160.4h.6v.6h-.6zM413.7 159.2h.6v.6h-.6zM411.1 160.6h.6v.6h-.6zM426.9 158.2h.6v.6h-.6zM404.8 160.2h.6v.6h-.6zM420.3 156.0h.6v.6h-.6zM407.6 157.0h.6v.6h-.6zM416.6 160.0h.6v.6h-.6zM407.3 156.7h.6v.6h-.6zM417.5 154.9h.6v.6h-.6zM417.2 158.7h.6v.6h-.6zM426.3 161.0h.6v.6h-.6zM408.5 158.5h.6v.6h-.6zM410.6 157.5h.6v.6h-.6zM413.2 160.9h.6v.6h-.6zM401.8 158.5h.6v.6h-.6zM423.3 160.5h.6v.6h-.6zM406.8 157.4h.6v.6h-.6zM406.5 155.8h.6v.6h-.6zM420.8 159.1h.6v.6h-.6zM407.6 156.1h.6v.6h-.6zM409.9 158.0h.6v.6h-.6zM424.9 158.1h.6v.6h-.6zM413.4 161.1h.6v.6h-.6zM417.4 158.6h.6v.6h-.6zM397.0 161.8h.6v.6h-.6zM416.9 158.1h.6v.6h-.6zM412.0 157.1h.6v.6h-.6zM406.2 156.0h.6v.6h-.6zM416.2 160.0h.6v.6h-.6zM413.8 160.6h.6v.6h-.6zM416.4 159.2h.6v.6h-.6zM406.3 160.2h.6v.6h-.6zM421.1 160.3h.6v.6h-.6zM421.5 158.1h.6v.6h-.6zM405.6 161.5h.6v.6h-.6zM408.4 159.5h.6v.6h-.6zM411.2 159.0h.6v.6h-.6zM410.7 157.9h.6v.6h-.6zM399.9 162.8h.6v.6h-.6zM414.0 155.2h.6v.6h-.6zM406.1 156.8h.6v.6h-.6zM407.3 153.9h.6v.6h-.6zM416.7 162.3h.6v.6h-.6zM410.8 160.5h.6v.6h-.6zM416.9 156.5h.6v.6h-.6zM421.3 155.7h.6v.6h-.6zM408.5 158.3h.6v.6h-.6zM421.5 159.2h.6v.6h-.6zM411.7 157.4h.6v.6h-.6zM413.2 159.1h.6v.6h-.6zM417.8 161.8h.6v.6h-.6zM417.8 159.0h.6v.6h-.6zM411.5 162.2h.6v.6h-.6zM414.0 159.0h.6v.6h-.6zM425.4 162.1h.6v.6h-.6zM416.6 158.8h.6v.6h-.6zM408.1 161.1h.6v.6h-.6zM409.4 160.9h.6v.6h-.6zM407.0 159.2h.6v.6h-.6zM415.5 159.3h.6v.6h-.6zM414.3 159.8h.6v.6h-.6zM404.6 156.8h.6v.6h-.6zM411.6 162.6h.6v.6h-.6zM411.7 157.2h.6v.6h-.6zM407.9 159.1h.6v.6h-.6zM421.0 157.9h.6v.6h-.6zM416.6 159.4h.6v.6h-.6zM410.1 157.1h.6v.6h-.6zM411.5 157.6h.6v.6h-.6zM416.4 155.5h.6v.6h-.6zM420.6 160.5h.6v.6h-.6zM416.7 162.0h.6v.6h-.6zM416.9 155.6h.6v.6h-.6zM413.0 159.9h.6v.6h-.6zM407.8 156.8h.6v.6h-.6zM415.7 160.0h.6v.6h-.6zM409.6 158.5h.6v.6h-.6zM409.0 157.9h.6v.6h-.6zM412.2 161.1h.6v.6h-.6zM401.2 158.3h.6v.6h-.6zM424.0 159.6h.6v.6h-.6zM413.7 160.7h.6v.6h-.6zM405.5 156.6h.6v.6h-.6zM400.9 156.1h.6v.6h-.6zM414.4 160.7h.6v.6h-.6zM409.7 157.7h.6v.6h-.6zM415.5 160.2h.6v.6h-.6zM414.4 155.2h.6v.6h-.6zM408.8 154.0h.6v.6h-.6zM414.3 157.3h.6v.6h-.6zM408.0 162.0h.6v.6h-.6zM421.9 160.0h.6v.6h-.6zM414.5 159.3h.6v.6h-.6zM408.5 158.9h.6v.6h-.6zM426.1 157.3h.6v.6h-.6zM407.9 159.3h.6v.6h-.6zM418.9 160.6h.6v.6h-.6zM405.8 158.7h.6v.6h-.6zM410.7 156.6h.6v.6h-.6zM413.1 158.1h.6v.6h-.6zM419.1 159.9h.6v.6h-.6zM407.1 159.2h.6v.6h-.6zM410.1 157.7h.6v.6h-.6zM409.2 161.1h.6v.6h-.6zM409.7 155.6h.6v.6h-.6zM407.1 160.6h.6v.6h-.6zM427.8 156.9h.6v.6h-.6zM410.1 158.4h.6v.6h-.6zM402.7 159.8h.6v.6h-.6zM412.2 159.5h.6v.6h-.6zM428.4 158.5h.6v.6h-.6zM418.2 160.6h.6v.6h-.6zM408.1 157.8h.6v.6h-.6zM423.6 160.4h.6v.6h-.6zM413.6 156.8h.6v.6h-.6zM418.8 160.0h.6v.6h-.6zM428.1 161.9h.6v.6h-.6zM418.3 159.5h.6v.6h-.6zM413.0 157.9h.6v.6h-.6zM414.8 159.5h.6v.6h-.6zM417.2 161.1h.6v.6h-.6zM414.8 157.9h.6v.6h-.6zM418.3 162.1h.6v.6h-.6zM406.7 159.8h.6v.6h-.6zM416.5 160.1h.6v.6h-.6zM416.2 158.8h.6v.6h-.6zM411.9 162.3h.6v.6h-.6zM424.8 156.2h.6v.6h-.6zM407.8 158.0h.6v.6h-.6zM401.4 159.7h.6v.6h-.6zM412.2 157.9h.6v.6h-.6zM418.9 163.8h.6v.6h-.6zM423.0 161.3h.6v.6h-.6zM409.7 160.3h.6v.6h-.6zM420.6 152.3h.6v.6h-.6zM419.5 160.3h.6v.6h-.6zM426.5 158.4h.6v.6h-.6zM425.4 160.2h.6v.6h-.6zM421.4 159.9h.6v.6h-.6zM426.2 161.2h.6v.6h-.6zM426.6 158.7h.6v.6h-.6zM425.6 158.9h.6v.6h-.6zM424.1 163.5h.6v.6h-.6zM421.3 155.7h.6v.6h-.6zM426.5 159.7h.6v.6h-.6zM421.7 157.4h.6v.6h-.6zM421.7 157.7h.6v.6h-.6zM419.1 160.8h.6v.6h-.6zM420.3 160.9h.6v.6h-.6zM424.4 157.8h.6v.6h-.6zM426.9 159.1h.6v.6h-.6zM427.2 157.3h.6v.6h-.6zM426.0 162.6h.6v.6h-.6zM425.5 158.8h.6v.6h-.6zM426.1 158.9h.6v.6h-.6zM421.8 162.3h.6v.6h-.6zM426.4 160.9h.6v.6h-.6zM421.4 161.1h.6v.6h-.6zM426.2 156.6h.6v.6h-.6zM426.5 162.6h.6v.6h-.6zM426.8 162.4h.6v.6h-.6zM425.4 163.1h.6v.6h-.6zM424.8 158.6h.6v.6h-.6zM426.7 158.4h.6v.6h-.6zM423.5 157.0h.6v.6h-.6zM425.8 159.6h.6v.6h-.6zM425.8 160.1h.6v.6h-.6zM421.4 157.9h.6v.6h-.6zM420.5 160.6h.6v.6h-.6zM418.3 160.2h.6v.6h-.6zM426.0 159.1h.6v.6h-.6zM418.7 159.9h.6v.6h-.6zM425.4 159.8h.6v.6h-.6zM422.0 161.4h.6v.6h-.6zM426.0 160.9h.6v.6h-.6zM424.3 158.4h.6v.6h-.6zM426.9 154.3h.6v.6h-.6zM425.3 159.9h.6v.6h-.6zM421.1 161.1h.6v.6h-.6zM419.1 156.9h.6v.6h-.6zM423.9 160.3h.6v.6h-.6zM422.8 156.6h.6v.6h-.6zM422.2 161.4h.6v.6h-.6zM420.1 156.7h.6v.6h-.6zM421.6 155.3h.6v.6h-.6zM425.0 163.3h.6v.6h-.6zM419.2 159.5h.6v.6h-.6zM423.9 158.7h.6v.6h-.6zM422.3 158.5h.6v.6h-.6zM418.9 156.7h.6v.6h-.6zM423.2 160.7h.6v.6h-.6zM421.6 155.4h.6v.6h-.6zM420.2 158.9h.6v.6h-.6zM420.2 155.0h.6v.6h-.6z" fill="#000" fill-opacity="0.28"/>
<ellipse cx="412.6" cy="159.0" rx="14.50" ry="4.50" fill="#000" fill-opacity="0.10" filter="url(#bl)" transform="rotate(-4 412.6 159.0)"/>
<ellipse cx="412.6" cy="159.0" rx="9.75" ry="4.35" fill="url(#rg)" transform="rotate(-4 412.6 159.0)"/>
<path d="M422.2 155.2h.7v.7h-.7zM408.9 159.7h.7v.7h-.7zM410.2 155.0h.7v.7h-.7zM413.6 160.5h.7v.7h-.7zM409.4 161.6h.7v.7h-.7zM414.6 161.1h.7v.7h-.7zM406.5 159.0h.7v.7h-.7zM419.0 162.5h.7v.7h-.7zM417.9 159.0h.7v.7h-.7zM413.3 157.9h.7v.7h-.7zM417.0 157.8h.7v.7h-.7zM413.1 155.4h.7v.7h-.7zM406.6 162.1h.7v.7h-.7zM412.8 159.4h.7v.7h-.7zM403.8 158.9h.7v.7h-.7zM420.9 156.4h.7v.7h-.7zM403.0 158.7h.7v.7h-.7zM410.5 158.6h.7v.7h-.7zM407.5 156.6h.7v.7h-.7zM407.6 160.1h.7v.7h-.7zM412.4 160.4h.7v.7h-.7zM408.3 160.0h.7v.7h-.7zM410.8 159.2h.7v.7h-.7zM416.4 159.1h.7v.7h-.7zM411.2 156.1h.7v.7h-.7zM412.9 160.4h.7v.7h-.7zM410.1 158.9h.7v.7h-.7zM405.5 156.7h.7v.7h-.7zM414.2 161.3h.7v.7h-.7zM411.3 156.1h.7v.7h-.7zM411.1 156.2h.7v.7h-.7zM411.5 162.4h.7v.7h-.7zM413.8 158.7h.7v.7h-.7zM416.8 158.3h.7v.7h-.7zM413.9 159.4h.7v.7h-.7zM414.4 156.4h.7v.7h-.7zM415.5 160.6h.7v.7h-.7zM403.4 154.2h.7v.7h-.7zM409.0 161.6h.7v.7h-.7zM412.7 160.2h.7v.7h-.7zM414.8 160.6h.7v.7h-.7zM410.0 158.0h.7v.7h-.7zM414.1 160.1h.7v.7h-.7zM414.9 159.6h.7v.7h-.7zM410.6 161.0h.7v.7h-.7zM414.5 160.9h.7v.7h-.7zM402.3 160.8h.7v.7h-.7zM402.7 159.4h.7v.7h-.7zM409.9 159.2h.7v.7h-.7zM410.7 158.5h.7v.7h-.7zM413.4 159.6h.7v.7h-.7zM409.4 154.5h.7v.7h-.7zM409.4 160.0h.7v.7h-.7zM409.2 159.8h.7v.7h-.7zM411.1 157.3h.7v.7h-.7zM417.3 161.9h.7v.7h-.7zM412.2 158.9h.7v.7h-.7zM416.5 156.6h.7v.7h-.7zM409.1 161.0h.7v.7h-.7zM416.3 158.1h.7v.7h-.7zM409.4 159.6h.7v.7h-.7zM406.9 158.1h.7v.7h-.7zM411.7 154.6h.7v.7h-.7zM415.0 160.4h.7v.7h-.7zM416.9 156.4h.7v.7h-.7zM407.4 157.5h.7v.7h-.7zM407.3 162.7h.7v.7h-.7zM408.6 158.4h.7v.7h-.7zM413.4 159.8h.7v.7h-.7zM418.5 157.1h.7v.7h-.7zM416.2 159.3h.7v.7h-.7zM407.8 159.3h.7v.7h-.7zM406.9 161.9h.7v.7h-.7zM409.6 160.8h.7v.7h-.7zM417.9 157.9h.7v.7h-.7zM408.9 159.2h.7v.7h-.7zM408.3 160.6h.7v.7h-.7zM413.3 157.6h.7v.7h-.7zM409.8 160.3h.7v.7h-.7zM406.7 162.0h.7v.7h-.7zM409.4 158.6h.7v.7h-.7zM408.8 161.9h.7v.7h-.7zM416.0 161.3h.7v.7h-.7zM415.3 159.2h.7v.7h-.7zM419.6 160.2h.7v.7h-.7zM414.4 160.0h.7v.7h-.7zM415.6 159.5h.7v.7h-.7zM411.9 156.1h.7v.7h-.7zM421.1 156.7h.7v.7h-.7zM403.8 157.7h.7v.7h-.7zM420.5 161.2h.7v.7h-.7zM410.1 159.5h.7v.7h-.7zM412.5 155.4h.7v.7h-.7zM411.2 159.5h.7v.7h-.7zM417.4 156.8h.7v.7h-.7zM403.3 156.2h.7v.7h-.7zM414.0 159.1h.7v.7h-.7zM413.2 159.3h.7v.7h-.7zM411.1 156.5h.7v.7h-.7zM414.5 159.7h.7v.7h-.7zM415.0 161.2h.7v.7h-.7zM407.5 154.8h.7v.7h-.7zM405.3 162.8h.7v.7h-.7zM408.8 159.7h.7v.7h-.7zM412.5 160.3h.7v.7h-.7zM425.8 158.1h.7v.7h-.7zM411.9 157.9h.7v.7h-.7zM413.6 159.9h.7v.7h-.7zM408.6 161.4h.7v.7h-.7zM417.3 159.8h.7v.7h-.7zM412.1 158.6h.7v.7h-.7zM405.8 160.2h.7v.7h-.7zM408.6 158.1h.7v.7h-.7zM416.7 157.3h.7v.7h-.7zM410.4 160.5h.7v.7h-.7zM420.3 157.8h.7v.7h-.7zM417.2 157.8h.7v.7h-.7zM414.2 159.9h.7v.7h-.7zM407.9 160.8h.7v.7h-.7zM420.0 159.1h.7v.7h-.7zM413.7 156.9h.7v.7h-.7zM420.0 159.1h.7v.7h-.7zM407.3 160.4h.7v.7h-.7zM406.6 157.8h.7v.7h-.7zM403.8 161.5h.7v.7h-.7zM421.7 157.9h.7v.7h-.7zM409.9 158.0h.7v.7h-.7zM410.3 160.0h.7v.7h-.7zM418.6 157.2h.7v.7h-.7zM414.4 155.8h.7v.7h-.7zM418.9 158.8h.7v.7h-.7zM409.7 161.8h.7v.7h-.7zM412.2 161.5h.7v.7h-.7zM417.0 162.0h.7v.7h-.7zM409.3 159.1h.7v.7h-.7zM414.1 158.7h.7v.7h-.7zM418.9 157.7h.7v.7h-.7zM416.7 161.5h.7v.7h-.7zM404.5 157.3h.7v.7h-.7zM408.9 158.0h.7v.7h-.7zM414.2 158.7h.7v.7h-.7zM412.9 158.2h.7v.7h-.7zM412.3 159.9h.7v.7h-.7zM415.7 157.6h.7v.7h-.7zM412.1 157.6h.7v.7h-.7zM411.9 156.4h.7v.7h-.7zM416.5 160.2h.7v.7h-.7zM412.1 157.8h.7v.7h-.7zM410.7 157.8h.7v.7h-.7zM406.2 161.9h.7v.7h-.7zM426.2 156.8h.7v.7h-.7zM407.8 160.0h.7v.7h-.7zM415.1 156.2h.7v.7h-.7zM404.7 160.0h.7v.7h-.7zM404.4 161.6h.7v.7h-.7zM410.6 159.2h.7v.7h-.7zM412.6 158.0h.7v.7h-.7zM412.0 158.5h.7v.7h-.7zM417.7 158.8h.7v.7h-.7zM412.5 158.0h.7v.7h-.7zM410.0 157.7h.7v.7h-.7zM412.6 162.3h.7v.7h-.7zM417.2 159.4h.7v.7h-.7zM419.5 160.8h.7v.7h-.7zM413.5 158.7h.7v.7h-.7zM408.1 159.4h.7v.7h-.7zM411.3 156.1h.7v.7h-.7zM407.3 162.5h.7v.7h-.7zM413.5 159.9h.7v.7h-.7zM413.4 158.2h.7v.7h-.7zM414.5 161.0h.7v.7h-.7zM411.3 159.9h.7v.7h-.7zM416.8 158.1h.7v.7h-.7zM413.3 157.7h.7v.7h-.7zM415.1 158.3h.7v.7h-.7zM417.3 157.6h.7v.7h-.7zM419.6 158.4h.7v.7h-.7zM409.1 157.4h.7v.7h-.7zM415.3 157.5h.7v.7h-.7zM420.0 161.3h.7v.7h-.7z" fill="#000" fill-opacity="0.6"/>
<rect x="395.40" y="144.00" width="41.10" height="40.80" fill="none" stroke="#111" stroke-width="0.9" />
<path d="M420.85,152.00 H415.40 V169.20 H435.60 V152.00 H429.35" fill="none" stroke="#222" stroke-width="0.75"/>
<text x="425.10" y="153.60" font-size="4.6" text-anchor="middle" fill="#231f20" >30.0</text>
<text x="434.60" y="148.60" font-size="4.1" text-anchor="end" fill="#231f20" >Annexin-V</text>
<text x="458.20" y="149.40" font-size="5.0" text-anchor="end" fill="#231f20" >10<tspan font-size="70%" dy="-1.6">5</tspan></text>
<line x1="460.20" y1="147.60" x2="462.40" y2="147.60" stroke="#231f20" stroke-width="0.6" />
<text x="458.20" y="158.40" font-size="5.0" text-anchor="end" fill="#231f20" >10<tspan font-size="70%" dy="-1.6">4</tspan></text>
<line x1="460.20" y1="156.60" x2="462.40" y2="156.60" stroke="#231f20" stroke-width="0.6" />
<text x="458.20" y="168.70" font-size="5.0" text-anchor="end" fill="#231f20" >10<tspan font-size="70%" dy="-1.6">3</tspan></text>
<line x1="460.20" y1="166.90" x2="462.40" y2="166.90" stroke="#231f20" stroke-width="0.6" />
<text x="458.20" y="177.40" font-size="5.0" text-anchor="end" fill="#231f20" >0</text>
<line x1="460.20" y1="175.60" x2="462.40" y2="175.60" stroke="#231f20" stroke-width="0.6" />
<line x1="461.20" y1="149.85" x2="462.40" y2="149.85" stroke="#231f20" stroke-width="0.4" />
<line x1="461.20" y1="152.10" x2="462.40" y2="152.10" stroke="#231f20" stroke-width="0.4" />
<line x1="461.20" y1="154.35" x2="462.40" y2="154.35" stroke="#231f20" stroke-width="0.4" />
<line x1="461.20" y1="159.17" x2="462.40" y2="159.17" stroke="#231f20" stroke-width="0.4" />
<line x1="461.20" y1="161.75" x2="462.40" y2="161.75" stroke="#231f20" stroke-width="0.4" />
<line x1="461.20" y1="164.32" x2="462.40" y2="164.32" stroke="#231f20" stroke-width="0.4" />
<line x1="461.20" y1="169.08" x2="462.40" y2="169.08" stroke="#231f20" stroke-width="0.4" />
<line x1="461.20" y1="171.25" x2="462.40" y2="171.25" stroke="#231f20" stroke-width="0.4" />
<line x1="461.20" y1="173.43" x2="462.40" y2="173.43" stroke="#231f20" stroke-width="0.4" />
<text x="470.60" y="193.20" font-size="5.0" text-anchor="middle" fill="#231f20" >0</text>
<line x1="470.60" y1="184.80" x2="470.60" y2="187.00" stroke="#231f20" stroke-width="0.6" />
<text x="480.00" y="193.20" font-size="5.0" text-anchor="middle" fill="#231f20" >10<tspan font-size="70%" dy="-1.6">3</tspan></text>
<line x1="480.00" y1="184.80" x2="480.00" y2="187.00" stroke="#231f20" stroke-width="0.6" />
<text x="489.70" y="193.20" font-size="5.0" text-anchor="middle" fill="#231f20" >10<tspan font-size="70%" dy="-1.6">4</tspan></text>
<line x1="489.70" y1="184.80" x2="489.70" y2="187.00" stroke="#231f20" stroke-width="0.6" />
<text x="500.00" y="193.20" font-size="5.0" text-anchor="middle" fill="#231f20" >10<tspan font-size="70%" dy="-1.6">5</tspan></text>
<line x1="500.00" y1="184.80" x2="500.00" y2="187.00" stroke="#231f20" stroke-width="0.6" />
<line x1="464.40" y1="184.80" x2="464.40" y2="186.00" stroke="#231f20" stroke-width="0.4" />
<line x1="467.34" y1="184.80" x2="467.34" y2="186.00" stroke="#231f20" stroke-width="0.4" />
<line x1="470.28" y1="184.80" x2="470.28" y2="186.00" stroke="#231f20" stroke-width="0.4" />
<line x1="473.22" y1="184.80" x2="473.22" y2="186.00" stroke="#231f20" stroke-width="0.4" />
<line x1="476.15" y1="184.80" x2="476.15" y2="186.00" stroke="#231f20" stroke-width="0.4" />
<line x1="479.09" y1="184.80" x2="479.09" y2="186.00" stroke="#231f20" stroke-width="0.4" />
<line x1="482.03" y1="184.80" x2="482.03" y2="186.00" stroke="#231f20" stroke-width="0.4" />
<line x1="484.97" y1="184.80" x2="484.97" y2="186.00" stroke="#231f20" stroke-width="0.4" />
<line x1="487.91" y1="184.80" x2="487.91" y2="186.00" stroke="#231f20" stroke-width="0.4" />
<line x1="490.85" y1="184.80" x2="490.85" y2="186.00" stroke="#231f20" stroke-width="0.4" />
<line x1="493.78" y1="184.80" x2="493.78" y2="186.00" stroke="#231f20" stroke-width="0.4" />
<line x1="496.72" y1="184.80" x2="496.72" y2="186.00" stroke="#231f20" stroke-width="0.4" />
<line x1="499.66" y1="184.80" x2="499.66" y2="186.00" stroke="#231f20" stroke-width="0.4" />
<line x1="502.60" y1="184.80" x2="502.60" y2="186.00" stroke="#231f20" stroke-width="0.4" />
<path d="M485.4 156.6h.6v.6h-.6zM480.8 158.0h.6v.6h-.6zM465.6 160.4h.6v.6h-.6zM499.7 158.4h.6v.6h-.6zM487.9 162.1h.6v.6h-.6zM472.8 158.8h.6v.6h-.6zM483.3 160.5h.6v.6h-.6zM471.3 159.9h.6v.6h-.6zM480.1 161.4h.6v.6h-.6zM467.4 158.4h.6v.6h-.6zM476.7 158.9h.6v.6h-.6zM487.1 158.2h.6v.6h-.6zM488.1 161.6h.6v.6h-.6zM489.2 159.1h.6v.6h-.6zM473.9 159.0h.6v.6h-.6zM486.7 159.7h.6v.6h-.6zM485.9 160.7h.6v.6h-.6zM473.5 157.6h.6v.6h-.6zM493.3 158.5h.6v.6h-.6zM467.5 163.3h.6v.6h-.6zM473.9 157.6h.6v.6h-.6zM489.2 157.2h.6v.6h-.6zM473.6 161.6h.6v.6h-.6zM474.0 164.6h.6v.6h-.6zM481.8 164.9h.6v.6h-.6zM482.1 159.6h.6v.6h-.6zM475.5 159.0h.6v.6h-.6zM476.7 159.5h.6v.6h-.6zM487.6 156.9h.6v.6h-.6zM473.2 155.3h.6v.6h-.6zM493.8 159.3h.6v.6h-.6zM480.9 159.4h.6v.6h-.6zM489.5 160.2h.6v.6h-.6zM488.2 159.2h.6v.6h-.6zM480.0 159.4h.6v.6h-.6zM465.2 161.7h.6v.6h-.6zM467.6 157.5h.6v.6h-.6zM486.7 159.6h.6v.6h-.6zM487.9 163.0h.6v.6h-.6zM496.8 162.3h.6v.6h-.6zM479.1 163.6h.6v.6h-.6zM473.5 159.3h.6v.6h-.6zM489.5 159.1h.6v.6h-.6zM480.0 158.8h.6v.6h-.6zM492.6 154.5h.6v.6h-.6zM491.8 161.6h.6v.6h-.6zM480.4 160.6h.6v.6h-.6zM472.8 161.7h.6v.6h-.6zM492.9 159.4h.6v.6h-.6zM478.1 158.5h.6v.6h-.6zM479.4 157.0h.6v.6h-.6zM469.5 162.9h.6v.6h-.6zM480.9 160.6h.6v.6h-.6zM483.6 160.5h.6v.6h-.6zM468.0 157.6h.6v.6h-.6zM486.4 161.5h.6v.6h-.6zM471.3 158.3h.6v.6h-.6zM471.9 160.8h.6v.6h-.6zM483.9 159.6h.6v.6h-.6zM475.5 160.2h.6v.6h-.6zM481.3 158.0h.6v.6h-.6zM483.8 158.2h.6v.6h-.6zM489.1 160.8h.6v.6h-.6zM475.2 160.7h.6v.6h-.6zM481.6 158.1h.6v.6h-.6zM473.2 156.1h.6v.6h-.6zM471.4 160.2h.6v.6h-.6zM491.3 158.2h.6v.6h-.6zM482.4 160.2h.6v.6h-.6zM487.6 160.4h.6v.6h-.6zM491.4 161.1h.6v.6h-.6zM474.5 160.3h.6v.6h-.6zM481.2 160.7h.6v.6h-.6zM478.4 161.2h.6v.6h-.6zM492.2 157.8h.6v.6h-.6zM476.4 160.0h.6v.6h-.6zM485.2 159.8h.6v.6h-.6zM488.1 157.1h.6v.6h-.6zM487.6 161.9h.6v.6h-.6zM490.4 160.4h.6v.6h-.6zM479.0 160.3h.6v.6h-.6zM480.4 156.3h.6v.6h-.6zM475.9 159.4h.6v.6h-.6zM476.6 157.6h.6v.6h-.6zM479.0 158.7h.6v.6h-.6zM481.6 159.4h.6v.6h-.6zM482.5 161.5h.6v.6h-.6zM482.2 160.3h.6v.6h-.6zM470.6 153.5h.6v.6h-.6zM477.6 160.9h.6v.6h-.6zM478.1 158.2h.6v.6h-.6zM470.5 161.3h.6v.6h-.6zM476.5 160.0h.6v.6h-.6zM490.6 160.6h.6v.6h-.6zM500.1 159.2h.6v.6h-.6zM489.1 160.9h.6v.6h-.6zM475.4 159.6h.6v.6h-.6zM476.2 157.4h.6v.6h-.6zM483.5 157.9h.6v.6h-.6zM495.3 158.0h.6v.6h-.6zM476.4 159.7h.6v.6h-.6zM476.6 159.6h.6v.6h-.6zM475.8 156.6h.6v.6h-.6zM493.9 160.4h.6v.6h-.6zM482.3 158.6h.6v.6h-.6zM479.8 160.1h.6v.6h-.6zM469.2 157.9h.6v.6h-.6zM473.4 162.0h.6v.6h-.6zM472.0 161.9h.6v.6h-.6zM477.0 165.0h.6v.6h-.6zM480.3 159.6h.6v.6h-.6zM492.5 161.3h.6v.6h-.6zM489.0 157.3h.6v.6h-.6zM490.7 162.9h.6v.6h-.6zM480.1 158.5h.6v.6h-.6zM471.7 161.6h.6v.6h-.6zM483.5 159.5h.6v.6h-.6zM470.5 162.8h.6v.6h-.6zM488.4 159.5h.6v.6h-.6zM493.5 157.6h.6v.6h-.6zM488.5 157.5h.6v.6h-.6zM493.0 158.9h.6v.6h-.6zM491.4 158.7h.6v.6h-.6zM484.4 161.8h.6v.6h-.6zM473.3 159.7h.6v.6h-.6zM473.9 161.2h.6v.6h-.6zM475.9 158.7h.6v.6h-.6zM479.3 161.9h.6v.6h-.6zM472.1 159.4h.6v.6h-.6zM478.2 158.4h.6v.6h-.6zM474.3 159.2h.6v.6h-.6zM482.7 156.4h.6v.6h-.6zM483.0 157.1h.6v.6h-.6zM481.1 164.1h.6v.6h-.6zM472.8 159.4h.6v.6h-.6zM478.8 161.5h.6v.6h-.6zM477.0 155.9h.6v.6h-.6zM467.3 159.9h.6v.6h-.6zM483.2 161.7h.6v.6h-.6zM476.4 160.8h.6v.6h-.6zM472.0 162.1h.6v.6h-.6zM480.4 158.1h.6v.6h-.6zM482.5 163.0h.6v.6h-.6zM473.8 157.0h.6v.6h-.6zM472.4 157.2h.6v.6h-.6zM480.6 160.2h.6v.6h-.6zM479.6 159.9h.6v.6h-.6zM491.1 158.9h.6v.6h-.6zM470.4 154.9h.6v.6h-.6zM483.1 158.1h.6v.6h-.6zM478.9 160.3h.6v.6h-.6zM484.9 156.3h.6v.6h-.6zM472.9 159.7h.6v.6h-.6zM479.8 161.8h.6v.6h-.6zM476.7 155.3h.6v.6h-.6zM490.9 156.2h.6v.6h-.6zM472.8 160.3h.6v.6h-.6zM472.0 164.5h.6v.6h-.6zM483.0 160.6h.6v.6h-.6zM477.3 164.0h.6v.6h-.6zM485.6 158.0h.6v.6h-.6zM491.7 156.1h.6v.6h-.6zM476.0 160.1h.6v.6h-.6zM482.2 157.6h.6v.6h-.6zM494.4 162.5h.6v.6h-.6zM473.1 160.3h.6v.6h-.6zM475.6 158.6h.6v.6h-.6zM489.4 159.8h.6v.6h-.6zM480.1 159.7h.6v.6h-.6zM471.0 162.0h.6v.6h-.6zM474.6 162.1h.6v.6h-.6zM477.1 158.6h.6v.6h-.6zM493.6 159.9h.6v.6h-.6zM475.6 158.4h.6v.6h-.6zM486.1 163.3h.6v.6h-.6zM486.2 158.7h.6v.6h-.6zM471.5 158.1h.6v.6h-.6zM480.0 160.0h.6v.6h-.6zM475.4 162.1h.6v.6h-.6zM472.9 158.1h.6v.6h-.6zM485.2 160.5h.6v.6h-.6zM477.7 161.4h.6v.6h-.6zM469.0 162.8h.6v.6h-.6zM499.6 163.5h.6v.6h-.6zM482.0 163.5h.6v.6h-.6zM481.5 162.2h.6v.6h-.6zM479.3 159.9h.6v.6h-.6zM485.5 156.0h.6v.6h-.6zM479.2 163.0h.6v.6h-.6zM488.8 160.2h.6v.6h-.6zM482.7 162.3h.6v.6h-.6zM483.9 155.7h.6v.6h-.6zM473.0 158.9h.6v.6h-.6zM482.2 158.6h.6v.6h-.6zM480.1 162.9h.6v.6h-.6zM489.0 160.7h.6v.6h-.6zM481.1 159.6h.6v.6h-.6zM484.1 160.0h.6v.6h-.6zM474.9 161.1h.6v.6h-.6zM474.0 159.4h.6v.6h-.6zM478.0 157.2h.6v.6h-.6zM486.1 159.4h.6v.6h-.6zM471.1 159.3h.6v.6h-.6zM469.3 162.4h.6v.6h-.6zM485.4 163.5h.6v.6h-.6zM476.2 160.9h.6v.6h-.6zM472.8 157.8h.6v.6h-.6zM480.2 160.3h.6v.6h-.6zM488.8 159.0h.6v.6h-.6zM490.4 161.4h.6v.6h-.6zM473.6 159.1h.6v.6h-.6zM473.2 162.9h.6v.6h-.6zM476.3 161.3h.6v.6h-.6zM488.7 159.0h.6v.6h-.6zM476.9 160.2h.6v.6h-.6zM474.4 156.9h.6v.6h-.6zM472.8 160.2h.6v.6h-.6zM482.6 163.1h.6v.6h-.6zM465.5 160.5h.6v.6h-.6zM471.2 161.8h.6v.6h-.6zM486.9 159.8h.6v.6h-.6zM493.5 158.7h.6v.6h-.6zM476.5 157.4h.6v.6h-.6zM475.4 159.7h.6v.6h-.6zM486.7 162.1h.6v.6h-.6zM478.7 158.0h.6v.6h-.6zM478.2 158.6h.6v.6h-.6zM477.0 158.7h.6v.6h-.6zM473.6 159.4h.6v.6h-.6zM476.7 159.2h.6v.6h-.6zM469.3 159.8h.6v.6h-.6zM485.8 160.8h.6v.6h-.6zM476.4 157.2h.6v.6h-.6zM470.0 157.1h.6v.6h-.6zM475.6 158.9h.6v.6h-.6zM466.0 160.8h.6v.6h-.6zM468.0 158.1h.6v.6h-.6zM474.9 161.2h.6v.6h-.6zM496.5 158.8h.6v.6h-.6zM478.7 158.7h.6v.6h-.6zM479.3 159.2h.6v.6h-.6zM501.8 157.3h.6v.6h-.6zM480.1 157.9h.6v.6h-.6zM484.0 158.5h.6v.6h-.6zM485.8 157.3h.6v.6h-.6zM498.8 159.9h.6v.6h-.6zM466.1 160.9h.6v.6h-.6zM477.0 157.2h.6v.6h-.6zM484.7 158.5h.6v.6h-.6zM487.2 158.4h.6v.6h-.6zM488.6 159.8h.6v.6h-.6zM484.0 159.8h.6v.6h-.6zM477.9 158.8h.6v.6h-.6zM484.8 160.9h.6v.6h-.6zM491.3 163.8h.6v.6h-.6zM498.4 157.1h.6v.6h-.6zM499.9 155.8h.6v.6h-.6zM491.4 161.0h.6v.6h-.6zM499.1 160.9h.6v.6h-.6zM490.7 156.1h.6v.6h-.6zM489.1 162.0h.6v.6h-.6zM495.3 158.2h.6v.6h-.6zM498.3 161.7h.6v.6h-.6zM493.6 162.2h.6v.6h-.6zM497.4 158.1h.6v.6h-.6zM499.5 159.9h.6v.6h-.6zM491.4 159.4h.6v.6h-.6zM491.0 155.3h.6v.6h-.6zM496.3 158.2h.6v.6h-.6zM490.6 160.5h.6v.6h-.6zM499.4 157.7h.6v.6h-.6zM494.0 161.5h.6v.6h-.6zM488.3 159.6h.6v.6h-.6zM498.5 155.8h.6v.6h-.6zM492.3 160.0h.6v.6h-.6zM496.8 161.5h.6v.6h-.6zM495.9 157.2h.6v.6h-.6zM489.8 161.0h.6v.6h-.6zM499.0 156.9h.6v.6h-.6zM497.4 160.0h.6v.6h-.6zM490.4 159.1h.6v.6h-.6zM497.7 157.4h.6v.6h-.6zM489.1 159.0h.6v.6h-.6zM493.8 162.7h.6v.6h-.6zM492.5 158.1h.6v.6h-.6zM493.2 158.8h.6v.6h-.6zM488.0 160.0h.6v.6h-.6zM498.0 157.9h.6v.6h-.6zM494.6 157.0h.6v.6h-.6zM489.5 157.6h.6v.6h-.6zM497.3 158.3h.6v.6h-.6zM497.4 163.8h.6v.6h-.6zM496.1 160.5h.6v.6h-.6zM496.1 157.3h.6v.6h-.6zM499.4 159.9h.6v.6h-.6zM492.9 160.5h.6v.6h-.6zM494.1 160.4h.6v.6h-.6zM498.4 160.8h.6v.6h-.6zM492.7 160.3h.6v.6h-.6zM494.9 160.7h.6v.6h-.6zM490.3 156.7h.6v.6h-.6zM493.3 159.9h.6v.6h-.6zM494.0 159.7h.6v.6h-.6zM499.2 159.1h.6v.6h-.6zM490.4 163.2h.6v.6h-.6zM494.8 160.4h.6v.6h-.6zM494.5 160.3h.6v.6h-.6zM491.7 163.3h.6v.6h-.6zM496.7 159.9h.6v.6h-.6zM495.8 162.4h.6v.6h-.6zM492.5 158.7h.6v.6h-.6zM495.7 159.6h.6v.6h-.6zM496.3 161.1h.6v.6h-.6zM496.8 161.8h.6v.6h-.6zM489.2 161.9h.6v.6h-.6zM488.6 155.6h.6v.6h-.6zM491.0 161.0h.6v.6h-.6zM489.0 160.4h.6v.6h-.6zM493.9 159.5h.6v.6h-.6zM493.5 161.4h.6v.6h-.6zM492.5 160.4h.6v.6h-.6zM489.4 156.0h.6v.6h-.6zM490.7 161.5h.6v.6h-.6zM489.3 159.6h.6v.6h-.6zM496.4 160.9h.6v.6h-.6zM490.5 152.2h.6v.6h-.6zM488.4 159.6h.6v.6h-.6zM499.2 157.2h.6v.6h-.6zM492.7 159.2h.6v.6h-.6zM499.4 160.3h.6v.6h-.6zM494.1 157.3h.6v.6h-.6zM497.2 160.4h.6v.6h-.6zM498.0 158.1h.6v.6h-.6zM492.9 159.7h.6v.6h-.6zM498.7 156.7h.6v.6h-.6zM494.7 161.3h.6v.6h-.6zM493.5 158.0h.6v.6h-.6zM494.7 158.7h.6v.6h-.6z" fill="#000" fill-opacity="0.28"/>
<ellipse cx="481.0" cy="159.5" rx="17.00" ry="4.50" fill="#000" fill-opacity="0.10" filter="url(#bl)" transform="rotate(-2 481.0 159.5)"/>
<ellipse cx="481.0" cy="159.5" rx="11.18" ry="4.21" fill="url(#rg)" transform="rotate(-2 481.0 159.5)"/>
<path d="M482.3 159.0h.7v.7h-.7zM474.4 162.1h.7v.7h-.7zM481.8 159.5h.7v.7h-.7zM476.3 157.7h.7v.7h-.7zM483.9 157.9h.7v.7h-.7zM483.7 160.6h.7v.7h-.7zM479.2 156.8h.7v.7h-.7zM482.9 161.9h.7v.7h-.7zM477.2 157.4h.7v.7h-.7zM486.1 159.8h.7v.7h-.7zM478.1 161.6h.7v.7h-.7zM479.7 160.3h.7v.7h-.7zM479.1 158.2h.7v.7h-.7zM482.0 158.1h.7v.7h-.7zM472.8 158.6h.7v.7h-.7zM486.7 161.4h.7v.7h-.7zM491.1 161.2h.7v.7h-.7zM488.5 159.9h.7v.7h-.7zM479.0 160.3h.7v.7h-.7zM476.6 160.8h.7v.7h-.7zM478.9 160.0h.7v.7h-.7zM477.0 159.3h.7v.7h-.7zM485.6 159.2h.7v.7h-.7zM477.9 160.0h.7v.7h-.7zM485.1 159.2h.7v.7h-.7zM475.6 156.9h.7v.7h-.7zM474.8 161.3h.7v.7h-.7zM480.6 160.3h.7v.7h-.7zM486.0 160.0h.7v.7h-.7zM483.2 158.7h.7v.7h-.7zM473.5 160.6h.7v.7h-.7zM480.6 160.5h.7v.7h-.7zM476.1 159.3h.7v.7h-.7zM490.3 158.1h.7v.7h-.7zM481.5 161.7h.7v.7h-.7zM479.9 159.7h.7v.7h-.7zM471.1 160.8h.7v.7h-.7zM479.0 161.7h.7v.7h-.7zM480.6 158.9h.7v.7h-.7zM483.0 159.1h.7v.7h-.7zM478.6 162.1h.7v.7h-.7zM485.6 159.7h.7v.7h-.7zM484.7 160.9h.7v.7h-.7zM483.7 159.6h.7v.7h-.7zM481.3 160.2h.7v.7h-.7zM483.6 160.1h.7v.7h-.7zM478.4 159.4h.7v.7h-.7zM483.1 157.9h.7v.7h-.7zM481.0 160.8h.7v.7h-.7zM481.8 159.0h.7v.7h-.7zM480.9 158.7h.7v.7h-.7zM485.6 158.9h.7v.7h-.7zM473.3 157.5h.7v.7h-.7zM482.4 159.9h.7v.7h-.7zM478.8 157.3h.7v.7h-.7zM480.3 158.1h.7v.7h-.7zM478.0 159.5h.7v.7h-.7zM477.4 160.0h.7v.7h-.7zM477.6 158.7h.7v.7h-.7zM479.9 162.0h.7v.7h-.7zM488.3 161.1h.7v.7h-.7zM477.6 159.5h.7v.7h-.7zM485.2 160.9h.7v.7h-.7zM473.5 159.4h.7v.7h-.7zM477.6 160.8h.7v.7h-.7zM484.0 158.6h.7v.7h-.7zM490.9 159.1h.7v.7h-.7zM492.3 159.2h.7v.7h-.7zM480.6 162.7h.7v.7h-.7zM478.6 158.7h.7v.7h-.7zM487.8 159.5h.7v.7h-.7zM483.2 157.4h.7v.7h-.7zM489.3 161.2h.7v.7h-.7zM482.7 160.7h.7v.7h-.7zM478.7 158.7h.7v.7h-.7zM473.7 160.1h.7v.7h-.7zM486.7 161.0h.7v.7h-.7zM485.3 160.7h.7v.7h-.7zM476.7 157.4h.7v.7h-.7zM484.0 159.8h.7v.7h-.7zM485.6 159.1h.7v.7h-.7zM476.9 160.3h.7v.7h-.7zM478.4 156.8h.7v.7h-.7zM478.2 158.1h.7v.7h-.7zM475.8 158.6h.7v.7h-.7zM485.4 163.4h.7v.7h-.7zM489.0 158.8h.7v.7h-.7zM486.3 159.4h.7v.7h-.7zM482.9 158.4h.7v.7h-.7zM480.7 156.7h.7v.7h-.7zM489.3 158.3h.7v.7h-.7zM483.7 158.6h.7v.7h-.7zM482.3 157.6h.7v.7h-.7zM479.3 161.0h.7v.7h-.7zM483.8 156.3h.7v.7h-.7zM484.9 157.4h.7v.7h-.7zM482.3 160.4h.7v.7h-.7zM478.0 159.0h.7v.7h-.7zM479.9 160.2h.7v.7h-.7zM485.2 161.8h.7v.7h-.7zM482.5 162.8h.7v.7h-.7zM476.6 162.5h.7v.7h-.7zM479.8 160.8h.7v.7h-.7zM480.4 159.7h.7v.7h-.7zM476.7 160.2h.7v.7h-.7zM490.4 159.8h.7v.7h-.7zM480.9 159.5h.7v.7h-.7zM484.3 159.2h.7v.7h-.7zM481.0 159.9h.7v.7h-.7zM487.0 161.1h.7v.7h-.7zM476.1 158.5h.7v.7h-.7zM481.1 160.9h.7v.7h-.7zM485.5 159.2h.7v.7h-.7zM490.8 159.3h.7v.7h-.7zM487.5 161.9h.7v.7h-.7zM488.4 159.9h.7v.7h-.7zM483.7 157.0h.7v.7h-.7zM472.8 158.5h.7v.7h-.7zM484.3 161.3h.7v.7h-.7zM480.5 161.2h.7v.7h-.7zM483.7 162.0h.7v.7h-.7zM473.6 158.2h.7v.7h-.7zM476.6 157.8h.7v.7h-.7zM488.6 158.0h.7v.7h-.7zM477.2 158.9h.7v.7h-.7zM485.1 158.8h.7v.7h-.7zM484.4 160.4h.7v.7h-.7zM478.0 155.6h.7v.7h-.7zM476.8 157.5h.7v.7h-.7zM488.6 158.3h.7v.7h-.7zM476.0 160.2h.7v.7h-.7zM481.3 158.0h.7v.7h-.7zM486.1 161.0h.7v.7h-.7zM482.3 158.3h.7v.7h-.7zM477.0 156.1h.7v.7h-.7zM482.8 160.2h.7v.7h-.7zM476.7 159.6h.7v.7h-.7zM496.2 157.7h.7v.7h-.7zM473.1 160.5h.7v.7h-.7zM479.0 158.7h.7v.7h-.7zM483.9 159.3h.7v.7h-.7zM485.6 160.4h.7v.7h-.7zM486.4 159.7h.7v.7h-.7zM471.0 161.8h.7v.7h-.7zM473.1 161.2h.7v.7h-.7zM482.2 157.2h.7v.7h-.7zM481.3 161.0h.7v.7h-.7zM476.3 159.6h.7v.7h-.7zM477.6 157.9h.7v.7h-.7zM478.1 161.6h.7v.7h-.7zM484.2 159.5h.7v.7h-.7zM480.6 159.7h.7v.7h-.7zM482.3 159.8h.7v.7h-.7zM473.0 161.0h.7v.7h-.7zM477.0 155.2h.7v.7h-.7zM484.3 157.5h.7v.7h-.7zM480.3 159.4h.7v.7h-.7zM478.3 160.4h.7v.7h-.7zM479.7 159.1h.7v.7h-.7zM476.6 159.1h.7v.7h-.7zM476.2 159.6h.7v.7h-.7zM487.1 161.2h.7v.7h-.7zM483.0 157.3h.7v.7h-.7zM485.8 161.1h.7v.7h-.7zM490.6 155.8h.7v.7h-.7zM481.1 159.0h.7v.7h-.7zM486.1 157.7h.7v.7h-.7zM479.2 163.4h.7v.7h-.7zM485.6 156.2h.7v.7h-.7zM481.1 161.8h.7v.7h-.7zM478.1 160.5h.7v.7h-.7zM481.5 157.1h.7v.7h-.7zM478.1 161.4h.7v.7h-.7zM486.5 158.5h.7v.7h-.7zM486.2 158.3h.7v.7h-.7zM482.1 159.5h.7v.7h-.7zM475.2 160.0h.7v.7h-.7zM479.2 155.0h.7v.7h-.7zM477.1 158.1h.7v.7h-.7zM477.1 157.9h.7v.7h-.7z" fill="#000" fill-opacity="0.6"/>
<rect x="462.40" y="144.00" width="42.20" height="40.80" fill="none" stroke="#111" stroke-width="0.9" />
<path d="M488.95,152.00 H483.40 V169.20 H503.80 V152.00 H497.45" fill="none" stroke="#222" stroke-width="0.75"/>
<text x="493.20" y="153.60" font-size="4.6" text-anchor="middle" fill="#231f20" >33.6</text>
<text x="502.80" y="148.60" font-size="4.1" text-anchor="end" fill="#231f20" >Annexin-V</text>
<text x="380.30" y="55.80" font-size="5.5" text-anchor="middle" fill="#231f20" transform="rotate(-90 380.30 55.80)" >WT</text>
<text x="380.20" y="110.60" font-size="5.5" text-anchor="middle" fill="#231f20" textLength="22" lengthAdjust="spacingAndGlyphs" transform="rotate(-90 380.20 110.60)" >E<tspan font-size="75%" dy="0.8">μ</tspan><tspan dy="-0.8">-</tspan><tspan font-style="italic">Myc</tspan></text>
<text x="372.60" y="167.40" font-size="5.5" text-anchor="middle" fill="#231f20" textLength="13.4" lengthAdjust="spacingAndGlyphs" transform="rotate(-90 372.60 167.40)" ><tspan font-style="italic">Mnt</tspan><tspan font-size="70%" dy="-1.6">fl/fl</tspan></text>
<text x="380.20" y="165.00" font-size="5.5" text-anchor="middle" fill="#231f20" textLength="40.2" lengthAdjust="spacingAndGlyphs" transform="rotate(-90 380.20 165.00)" >E<tspan font-size="75%" dy="0.8">μ</tspan><tspan dy="-0.8">-</tspan><tspan font-style="italic">Myc</tspan>/<tspan font-style="italic">Rag1Cre</tspan></text>
<line x1="391.30" y1="207.50" x2="391.30" y2="197.50" stroke="#111" stroke-width="0.9" />
<path d="M391.3,193.1 L389.4,198 L393.2,198 Z" fill="#111" />
<line x1="391.30" y1="207.50" x2="404.00" y2="207.50" stroke="#111" stroke-width="0.9" />
<path d="M408.2,207.5 L403.3,205.6 L403.3,209.4 Z" fill="#111" />
<text x="387.10" y="200.00" font-size="7.5" text-anchor="middle" fill="#231f20" textLength="13.9" lengthAdjust="spacingAndGlyphs" transform="rotate(-90 387.10 200.00)" >CD19</text>
<text x="399.70" y="216.70" font-size="6.4" text-anchor="middle" fill="#231f20" textLength="26" lengthAdjust="spacingAndGlyphs" >Annexin-V</text>
<line x1="395.30" y1="232.70" x2="395.30" y2="292.00" stroke="#231f20" stroke-width="1.05" />
<line x1="391.90" y1="234.50" x2="395.30" y2="234.50" stroke="#231f20" stroke-width="0.8" />
<text x="389.20" y="236.52" font-size="5.6" text-anchor="end" fill="#231f20" textLength="5.36" lengthAdjust="spacingAndGlyphs" >40</text>
<line x1="391.90" y1="248.75" x2="395.30" y2="248.75" stroke="#231f20" stroke-width="0.8" />
<text x="389.20" y="250.77" font-size="5.6" text-anchor="end" fill="#231f20" textLength="5.36" lengthAdjust="spacingAndGlyphs" >30</text>
<line x1="391.90" y1="263.00" x2="395.30" y2="263.00" stroke="#231f20" stroke-width="0.8" />
<text x="389.20" y="265.02" font-size="5.6" text-anchor="end" fill="#231f20" textLength="5.36" lengthAdjust="spacingAndGlyphs" >20</text>
<line x1="391.90" y1="277.25" x2="395.30" y2="277.25" stroke="#231f20" stroke-width="0.8" />
<text x="389.20" y="279.27" font-size="5.6" text-anchor="end" fill="#231f20" textLength="5.36" lengthAdjust="spacingAndGlyphs" >10</text>
<line x1="391.90" y1="291.50" x2="395.30" y2="291.50" stroke="#231f20" stroke-width="0.8" />
<text x="389.20" y="293.52" font-size="5.6" text-anchor="end" fill="#231f20" textLength="2.68" lengthAdjust="spacingAndGlyphs" >0</text>
<line x1="394.80" y1="291.50" x2="445.00" y2="291.50" stroke="#231f20" stroke-width="1.1" />
<line x1="405.70" y1="291.50" x2="405.70" y2="294.10" stroke="#231f20" stroke-width="0.7" />
<line x1="420.80" y1="291.50" x2="420.80" y2="294.10" stroke="#231f20" stroke-width="0.7" />
<line x1="435.90" y1="291.50" x2="435.90" y2="294.10" stroke="#231f20" stroke-width="0.7" />
<rect x="401.40" y="288.70" width="8.60" height="2.80" fill="#cbe4b8" stroke="#b2d59a" stroke-width="0.6" />
<line x1="405.70" y1="286.00" x2="405.70" y2="291.00" stroke="#5fb13f" stroke-width="0.65" />
<line x1="404.10" y1="286.00" x2="407.30" y2="286.00" stroke="#5fb13f" stroke-width="0.75" />
<line x1="404.10" y1="291.00" x2="407.30" y2="291.00" stroke="#5fb13f" stroke-width="0.75" />
<circle cx="402.70" cy="286.50" r="0.95" fill="#5fb13f"/>
<circle cx="405.70" cy="289.00" r="0.95" fill="#5fb13f"/>
<circle cx="408.70" cy="286.00" r="0.95" fill="#5fb13f"/>
<circle cx="403.70" cy="290.00" r="0.95" fill="#5fb13f"/>
<circle cx="408.20" cy="290.50" r="0.95" fill="#5fb13f"/>
<circle cx="406.20" cy="287.00" r="0.95" fill="#5fb13f"/>
<rect x="416.10" y="283.20" width="9.40" height="8.30" fill="#dba596" stroke="#cf9080" stroke-width="0.6" />
<line x1="420.80" y1="277.50" x2="420.80" y2="289.00" stroke="#bf0d2e" stroke-width="0.65" />
<line x1="419.20" y1="277.50" x2="422.40" y2="277.50" stroke="#bf0d2e" stroke-width="0.75" />
<line x1="419.20" y1="289.00" x2="422.40" y2="289.00" stroke="#bf0d2e" stroke-width="0.75" />
<circle cx="422.30" cy="277.00" r="0.95" fill="#bf0d2e"/>
<circle cx="419.30" cy="279.00" r="0.95" fill="#bf0d2e"/>
<circle cx="420.80" cy="281.00" r="0.95" fill="#bf0d2e"/>
<circle cx="417.80" cy="283.50" r="0.95" fill="#bf0d2e"/>
<circle cx="423.80" cy="284.50" r="0.95" fill="#bf0d2e"/>
<circle cx="419.80" cy="285.50" r="0.95" fill="#bf0d2e"/>
<circle cx="422.80" cy="286.00" r="0.95" fill="#bf0d2e"/>
<rect x="431.60" y="266.70" width="8.60" height="24.80" fill="#a4abcf" stroke="#8f98c4" stroke-width="0.6" />
<line x1="435.90" y1="256.60" x2="435.90" y2="276.80" stroke="#2d4f96" stroke-width="0.65" />
<line x1="434.30" y1="256.60" x2="437.50" y2="256.60" stroke="#2d4f96" stroke-width="0.75" />
<line x1="434.30" y1="276.80" x2="437.50" y2="276.80" stroke="#2d4f96" stroke-width="0.75" />
<circle cx="436.40" cy="248.80" r="0.95" fill="#2d4f96"/>
<circle cx="433.40" cy="262.50" r="0.95" fill="#2d4f96"/>
<circle cx="437.90" cy="262.00" r="0.95" fill="#2d4f96"/>
<circle cx="435.90" cy="265.50" r="0.95" fill="#2d4f96"/>
<circle cx="432.90" cy="270.00" r="0.95" fill="#2d4f96"/>
<circle cx="438.90" cy="270.50" r="0.95" fill="#2d4f96"/>
<circle cx="435.90" cy="275.00" r="0.95" fill="#2d4f96"/>
<line x1="404.40" y1="271.70" x2="420.90" y2="271.70" stroke="#333" stroke-width="0.85" />
<line x1="404.40" y1="270.50" x2="404.40" y2="272.90" stroke="#333" stroke-width="0.7" />
<line x1="420.90" y1="270.50" x2="420.90" y2="272.90" stroke="#333" stroke-width="0.7" />
<text x="412.65" y="272.10" font-size="6.4" text-anchor="middle" fill="#231f20" >**</text>
<line x1="419.80" y1="240.00" x2="435.90" y2="240.00" stroke="#333" stroke-width="0.85" />
<line x1="419.80" y1="238.80" x2="419.80" y2="241.20" stroke="#333" stroke-width="0.7" />
<line x1="435.90" y1="238.80" x2="435.90" y2="241.20" stroke="#333" stroke-width="0.7" />
<text x="427.85" y="240.40" font-size="6.4" text-anchor="middle" fill="#231f20" >***</text>
<text x="381.20" y="261.60" font-size="6.4" text-anchor="middle" fill="#231f20" textLength="49.4" lengthAdjust="spacingAndGlyphs" transform="rotate(-90 381.20 261.60)" >% Annexin-V+ cells</text>
<line x1="462.70" y1="232.70" x2="462.70" y2="291.90" stroke="#231f20" stroke-width="1.05" />
<line x1="459.30" y1="234.40" x2="462.70" y2="234.40" stroke="#231f20" stroke-width="0.8" />
<text x="456.60" y="236.42" font-size="5.6" text-anchor="end" fill="#231f20" textLength="5.36" lengthAdjust="spacingAndGlyphs" >40</text>
<line x1="459.30" y1="248.65" x2="462.70" y2="248.65" stroke="#231f20" stroke-width="0.8" />
<text x="456.60" y="250.67" font-size="5.6" text-anchor="end" fill="#231f20" textLength="5.36" lengthAdjust="spacingAndGlyphs" >30</text>
<line x1="459.30" y1="262.90" x2="462.70" y2="262.90" stroke="#231f20" stroke-width="0.8" />
<text x="456.60" y="264.92" font-size="5.6" text-anchor="end" fill="#231f20" textLength="5.36" lengthAdjust="spacingAndGlyphs" >20</text>
<line x1="459.30" y1="277.15" x2="462.70" y2="277.15" stroke="#231f20" stroke-width="0.8" />
<text x="456.60" y="279.17" font-size="5.6" text-anchor="end" fill="#231f20" textLength="5.36" lengthAdjust="spacingAndGlyphs" >10</text>
<line x1="459.30" y1="291.40" x2="462.70" y2="291.40" stroke="#231f20" stroke-width="0.8" />
<text x="456.60" y="293.42" font-size="5.6" text-anchor="end" fill="#231f20" textLength="2.68" lengthAdjust="spacingAndGlyphs" >0</text>
<line x1="462.20" y1="291.40" x2="513.00" y2="291.40" stroke="#231f20" stroke-width="1.1" />
<line x1="473.00" y1="291.40" x2="473.00" y2="294.00" stroke="#231f20" stroke-width="0.7" />
<line x1="487.95" y1="291.40" x2="487.95" y2="294.00" stroke="#231f20" stroke-width="0.7" />
<line x1="502.85" y1="291.40" x2="502.85" y2="294.00" stroke="#231f20" stroke-width="0.7" />
<rect x="468.70" y="287.70" width="8.60" height="3.70" fill="#cbe4b8" stroke="#b2d59a" stroke-width="0.6" />
<line x1="473.00" y1="282.50" x2="473.00" y2="291.00" stroke="#5fb13f" stroke-width="0.65" />
<line x1="471.40" y1="282.50" x2="474.60" y2="282.50" stroke="#5fb13f" stroke-width="0.75" />
<line x1="471.40" y1="291.00" x2="474.60" y2="291.00" stroke="#5fb13f" stroke-width="0.75" />
<circle cx="474.50" cy="282.50" r="0.95" fill="#5fb13f"/>
<circle cx="470.00" cy="285.00" r="0.95" fill="#5fb13f"/>
<circle cx="473.00" cy="287.50" r="0.95" fill="#5fb13f"/>
<circle cx="476.00" cy="288.50" r="0.95" fill="#5fb13f"/>
<circle cx="471.00" cy="290.50" r="0.95" fill="#5fb13f"/>
<circle cx="475.50" cy="290.80" r="0.95" fill="#5fb13f"/>
<rect x="483.30" y="279.50" width="9.30" height="11.90" fill="#dba596" stroke="#cf9080" stroke-width="0.6" />
<line x1="487.95" y1="274.20" x2="487.95" y2="285.00" stroke="#bf0d2e" stroke-width="0.65" />
<line x1="486.35" y1="274.20" x2="489.55" y2="274.20" stroke="#bf0d2e" stroke-width="0.75" />
<line x1="486.35" y1="285.00" x2="489.55" y2="285.00" stroke="#bf0d2e" stroke-width="0.75" />
<circle cx="487.95" cy="270.00" r="0.95" fill="#bf0d2e"/>
<circle cx="485.95" cy="276.00" r="0.95" fill="#bf0d2e"/>
<circle cx="490.45" cy="277.00" r="0.95" fill="#bf0d2e"/>
<circle cx="484.95" cy="280.00" r="0.95" fill="#bf0d2e"/>
<circle cx="488.95" cy="281.50" r="0.95" fill="#bf0d2e"/>
<circle cx="490.95" cy="283.50" r="0.95" fill="#bf0d2e"/>
<circle cx="487.95" cy="287.50" r="0.95" fill="#bf0d2e"/>
<rect x="498.30" y="259.80" width="9.10" height="31.60" fill="#a4abcf" stroke="#8f98c4" stroke-width="0.6" />
<line x1="502.85" y1="248.80" x2="502.85" y2="270.50" stroke="#2d4f96" stroke-width="0.65" />
<line x1="501.25" y1="248.80" x2="504.45" y2="248.80" stroke="#2d4f96" stroke-width="0.75" />
<line x1="501.25" y1="270.50" x2="504.45" y2="270.50" stroke="#2d4f96" stroke-width="0.75" />
<circle cx="502.85" cy="244.00" r="0.95" fill="#2d4f96"/>
<circle cx="503.35" cy="250.50" r="0.95" fill="#2d4f96"/>
<circle cx="499.85" cy="260.50" r="0.95" fill="#2d4f96"/>
<circle cx="502.85" cy="261.00" r="0.95" fill="#2d4f96"/>
<circle cx="505.85" cy="262.50" r="0.95" fill="#2d4f96"/>
<circle cx="502.85" cy="270.00" r="0.95" fill="#2d4f96"/>
<line x1="471.50" y1="269.40" x2="487.40" y2="269.40" stroke="#333" stroke-width="0.85" />
<line x1="471.50" y1="268.20" x2="471.50" y2="270.60" stroke="#333" stroke-width="0.7" />
<line x1="487.40" y1="268.20" x2="487.40" y2="270.60" stroke="#333" stroke-width="0.7" />
<text x="479.45" y="269.80" font-size="6.4" text-anchor="middle" fill="#231f20" >**</text>
<line x1="487.00" y1="238.20" x2="503.20" y2="238.20" stroke="#333" stroke-width="0.85" />
<line x1="487.00" y1="237.00" x2="487.00" y2="239.40" stroke="#333" stroke-width="0.7" />
<line x1="503.20" y1="237.00" x2="503.20" y2="239.40" stroke="#333" stroke-width="0.7" />
<text x="495.10" y="238.60" font-size="6.4" text-anchor="middle" fill="#231f20" >***</text>
<text x="66.90" y="332.90" font-size="7.5" text-anchor="middle" fill="#231f20" >pro-B</text>
<text x="142.00" y="332.50" font-size="7.5" text-anchor="middle" fill="#231f20" >pre-B</text>
<text x="39.30" y="340.10" font-size="5.0" text-anchor="end" fill="#231f20" >600</text>
<line x1="41.60" y1="338.30" x2="43.80" y2="338.30" stroke="#231f20" stroke-width="0.6" />
<text x="39.30" y="354.50" font-size="5.0" text-anchor="end" fill="#231f20" >400</text>
<line x1="41.60" y1="352.70" x2="43.80" y2="352.70" stroke="#231f20" stroke-width="0.6" />
<text x="39.30" y="369.10" font-size="5.0" text-anchor="end" fill="#231f20" >200</text>
<line x1="41.60" y1="367.30" x2="43.80" y2="367.30" stroke="#231f20" stroke-width="0.6" />
<text x="39.30" y="384.00" font-size="5.0" text-anchor="end" fill="#231f20" >0</text>
<line x1="41.60" y1="382.20" x2="43.80" y2="382.20" stroke="#231f20" stroke-width="0.6" />
<line x1="42.60" y1="341.90" x2="43.80" y2="341.90" stroke="#231f20" stroke-width="0.45" />
<line x1="42.60" y1="345.50" x2="43.80" y2="345.50" stroke="#231f20" stroke-width="0.45" />
<line x1="42.60" y1="349.10" x2="43.80" y2="349.10" stroke="#231f20" stroke-width="0.45" />
<line x1="42.60" y1="356.35" x2="43.80" y2="356.35" stroke="#231f20" stroke-width="0.45" />
<line x1="42.60" y1="360.00" x2="43.80" y2="360.00" stroke="#231f20" stroke-width="0.45" />
<line x1="42.60" y1="363.65" x2="43.80" y2="363.65" stroke="#231f20" stroke-width="0.45" />
<line x1="42.60" y1="371.02" x2="43.80" y2="371.02" stroke="#231f20" stroke-width="0.45" />
<line x1="42.60" y1="374.75" x2="43.80" y2="374.75" stroke="#231f20" stroke-width="0.45" />
<line x1="42.60" y1="378.48" x2="43.80" y2="378.48" stroke="#231f20" stroke-width="0.45" />
<text x="45.70" y="391.00" font-size="5.0" text-anchor="middle" fill="#231f20" >-10<tspan font-size="70%" dy="-1.6">3</tspan></text>
<text x="54.55" y="391.00" font-size="5.0" text-anchor="middle" fill="#231f20" >0</text>
<text x="61.30" y="391.00" font-size="5.0" text-anchor="middle" fill="#231f20" >10<tspan font-size="70%" dy="-1.6">3</tspan></text>
<text x="74.20" y="391.00" font-size="5.0" text-anchor="middle" fill="#231f20" >10<tspan font-size="70%" dy="-1.6">4</tspan></text>
<text x="85.40" y="391.00" font-size="5.0" text-anchor="middle" fill="#231f20" >10<tspan font-size="70%" dy="-1.6">5</tspan></text>
<line x1="46.30" y1="382.60" x2="46.30" y2="384.90" stroke="#231f20" stroke-width="0.65" />
<line x1="54.55" y1="382.60" x2="54.55" y2="384.90" stroke="#231f20" stroke-width="0.65" />
<line x1="60.70" y1="382.60" x2="60.70" y2="384.90" stroke="#231f20" stroke-width="0.65" />
<line x1="73.60" y1="382.60" x2="73.60" y2="384.90" stroke="#231f20" stroke-width="0.65" />
<line x1="84.80" y1="382.60" x2="84.80" y2="384.90" stroke="#231f20" stroke-width="0.65" />
<line x1="48.36" y1="382.60" x2="48.36" y2="384.00" stroke="#231f20" stroke-width="0.45" />
<line x1="50.42" y1="382.60" x2="50.42" y2="384.00" stroke="#231f20" stroke-width="0.45" />
<line x1="52.49" y1="382.60" x2="52.49" y2="384.00" stroke="#231f20" stroke-width="0.45" />
<line x1="56.58" y1="382.60" x2="56.58" y2="384.00" stroke="#231f20" stroke-width="0.45" />
<line x1="58.61" y1="382.60" x2="58.61" y2="384.00" stroke="#231f20" stroke-width="0.45" />
<line x1="64.58" y1="382.60" x2="64.58" y2="384.00" stroke="#231f20" stroke-width="0.45" />
<line x1="66.85" y1="382.60" x2="66.85" y2="384.00" stroke="#231f20" stroke-width="0.45" />
<line x1="68.47" y1="382.60" x2="68.47" y2="384.00" stroke="#231f20" stroke-width="0.45" />
<line x1="69.72" y1="382.60" x2="69.72" y2="384.00" stroke="#231f20" stroke-width="0.45" />
<line x1="70.74" y1="382.60" x2="70.74" y2="384.00" stroke="#231f20" stroke-width="0.45" />
<line x1="71.60" y1="382.60" x2="71.60" y2="384.00" stroke="#231f20" stroke-width="0.45" />
<line x1="72.35" y1="382.60" x2="72.35" y2="384.00" stroke="#231f20" stroke-width="0.45" />
<line x1="73.01" y1="382.60" x2="73.01" y2="384.00" stroke="#231f20" stroke-width="0.45" />
<line x1="76.97" y1="382.60" x2="76.97" y2="384.00" stroke="#231f20" stroke-width="0.45" />
<line x1="78.94" y1="382.60" x2="78.94" y2="384.00" stroke="#231f20" stroke-width="0.45" />
<line x1="80.34" y1="382.60" x2="80.34" y2="384.00" stroke="#231f20" stroke-width="0.45" />
<line x1="81.43" y1="382.60" x2="81.43" y2="384.00" stroke="#231f20" stroke-width="0.45" />
<line x1="82.32" y1="382.60" x2="82.32" y2="384.00" stroke="#231f20" stroke-width="0.45" />
<line x1="83.07" y1="382.60" x2="83.07" y2="384.00" stroke="#231f20" stroke-width="0.45" />
<line x1="83.71" y1="382.60" x2="83.71" y2="384.00" stroke="#231f20" stroke-width="0.45" />
<line x1="84.29" y1="382.60" x2="84.29" y2="384.00" stroke="#231f20" stroke-width="0.45" />
<text x="114.30" y="340.50" font-size="5.0" text-anchor="end" fill="#231f20" >1.2K</text>
<line x1="117.50" y1="338.70" x2="119.70" y2="338.70" stroke="#231f20" stroke-width="0.6" />
<text x="114.30" y="351.00" font-size="5.0" text-anchor="end" fill="#231f20" >900</text>
<line x1="117.50" y1="349.20" x2="119.70" y2="349.20" stroke="#231f20" stroke-width="0.6" />
<text x="114.30" y="362.00" font-size="5.0" text-anchor="end" fill="#231f20" >600</text>
<line x1="117.50" y1="360.20" x2="119.70" y2="360.20" stroke="#231f20" stroke-width="0.6" />
<text x="114.30" y="373.40" font-size="5.0" text-anchor="end" fill="#231f20" >300</text>
<line x1="117.50" y1="371.60" x2="119.70" y2="371.60" stroke="#231f20" stroke-width="0.6" />
<text x="114.30" y="384.40" font-size="5.0" text-anchor="end" fill="#231f20" >0</text>
<line x1="117.50" y1="382.60" x2="119.70" y2="382.60" stroke="#231f20" stroke-width="0.6" />
<line x1="118.50" y1="341.32" x2="119.70" y2="341.32" stroke="#231f20" stroke-width="0.45" />
<line x1="118.50" y1="343.95" x2="119.70" y2="343.95" stroke="#231f20" stroke-width="0.45" />
<line x1="118.50" y1="346.57" x2="119.70" y2="346.57" stroke="#231f20" stroke-width="0.45" />
<line x1="118.50" y1="351.95" x2="119.70" y2="351.95" stroke="#231f20" stroke-width="0.45" />
<line x1="118.50" y1="354.70" x2="119.70" y2="354.70" stroke="#231f20" stroke-width="0.45" />
<line x1="118.50" y1="357.45" x2="119.70" y2="357.45" stroke="#231f20" stroke-width="0.45" />
<line x1="118.50" y1="363.05" x2="119.70" y2="363.05" stroke="#231f20" stroke-width="0.45" />
<line x1="118.50" y1="365.90" x2="119.70" y2="365.90" stroke="#231f20" stroke-width="0.45" />
<line x1="118.50" y1="368.75" x2="119.70" y2="368.75" stroke="#231f20" stroke-width="0.45" />
<line x1="118.50" y1="374.35" x2="119.70" y2="374.35" stroke="#231f20" stroke-width="0.45" />
<line x1="118.50" y1="377.10" x2="119.70" y2="377.10" stroke="#231f20" stroke-width="0.45" />
<line x1="118.50" y1="379.85" x2="119.70" y2="379.85" stroke="#231f20" stroke-width="0.45" />
<text x="121.60" y="391.00" font-size="5.0" text-anchor="middle" fill="#231f20" >-10<tspan font-size="70%" dy="-1.6">3</tspan></text>
<text x="130.45" y="391.00" font-size="5.0" text-anchor="middle" fill="#231f20" >0</text>
<text x="137.20" y="391.00" font-size="5.0" text-anchor="middle" fill="#231f20" >10<tspan font-size="70%" dy="-1.6">3</tspan></text>
<text x="150.10" y="391.00" font-size="5.0" text-anchor="middle" fill="#231f20" >10<tspan font-size="70%" dy="-1.6">4</tspan></text>
<text x="161.30" y="391.00" font-size="5.0" text-anchor="middle" fill="#231f20" >10<tspan font-size="70%" dy="-1.6">5</tspan></text>
<line x1="122.20" y1="382.80" x2="122.20" y2="385.10" stroke="#231f20" stroke-width="0.65" />
<line x1="130.45" y1="382.80" x2="130.45" y2="385.10" stroke="#231f20" stroke-width="0.65" />
<line x1="136.60" y1="382.80" x2="136.60" y2="385.10" stroke="#231f20" stroke-width="0.65" />
<line x1="149.50" y1="382.80" x2="149.50" y2="385.10" stroke="#231f20" stroke-width="0.65" />
<line x1="160.70" y1="382.80" x2="160.70" y2="385.10" stroke="#231f20" stroke-width="0.65" />
<line x1="124.26" y1="382.80" x2="124.26" y2="384.20" stroke="#231f20" stroke-width="0.45" />
<line x1="126.33" y1="382.80" x2="126.33" y2="384.20" stroke="#231f20" stroke-width="0.45" />
<line x1="128.39" y1="382.80" x2="128.39" y2="384.20" stroke="#231f20" stroke-width="0.45" />
<line x1="132.48" y1="382.80" x2="132.48" y2="384.20" stroke="#231f20" stroke-width="0.45" />
<line x1="134.51" y1="382.80" x2="134.51" y2="384.20" stroke="#231f20" stroke-width="0.45" />
<line x1="140.48" y1="382.80" x2="140.48" y2="384.20" stroke="#231f20" stroke-width="0.45" />
<line x1="142.75" y1="382.80" x2="142.75" y2="384.20" stroke="#231f20" stroke-width="0.45" />
<line x1="144.37" y1="382.80" x2="144.37" y2="384.20" stroke="#231f20" stroke-width="0.45" />
<line x1="145.62" y1="382.80" x2="145.62" y2="384.20" stroke="#231f20" stroke-width="0.45" />
<line x1="146.64" y1="382.80" x2="146.64" y2="384.20" stroke="#231f20" stroke-width="0.45" />
<line x1="147.50" y1="382.80" x2="147.50" y2="384.20" stroke="#231f20" stroke-width="0.45" />
<line x1="148.25" y1="382.80" x2="148.25" y2="384.20" stroke="#231f20" stroke-width="0.45" />
<line x1="148.91" y1="382.80" x2="148.91" y2="384.20" stroke="#231f20" stroke-width="0.45" />
<line x1="152.87" y1="382.80" x2="152.87" y2="384.20" stroke="#231f20" stroke-width="0.45" />
<line x1="154.84" y1="382.80" x2="154.84" y2="384.20" stroke="#231f20" stroke-width="0.45" />
<line x1="156.24" y1="382.80" x2="156.24" y2="384.20" stroke="#231f20" stroke-width="0.45" />
<line x1="157.33" y1="382.80" x2="157.33" y2="384.20" stroke="#231f20" stroke-width="0.45" />
<line x1="158.22" y1="382.80" x2="158.22" y2="384.20" stroke="#231f20" stroke-width="0.45" />
<line x1="158.97" y1="382.80" x2="158.97" y2="384.20" stroke="#231f20" stroke-width="0.45" />
<line x1="159.61" y1="382.80" x2="159.61" y2="384.20" stroke="#231f20" stroke-width="0.45" />
<line x1="160.19" y1="382.80" x2="160.19" y2="384.20" stroke="#231f20" stroke-width="0.45" />
<path d="M65.20,382.40 C65.42,382.08 66.12,381.37 66.50,380.50 C66.88,379.63 67.12,379.12 67.50,377.20 C67.88,375.28 68.37,371.97 68.80,369.00 C69.23,366.03 69.68,363.07 70.10,359.40 C70.52,355.73 70.98,350.23 71.30,347.00 C71.62,343.77 71.78,341.62 72.00,340.00 C72.22,338.38 72.40,337.30 72.60,337.30 C72.80,337.30 72.98,338.43 73.20,340.00 C73.42,341.57 73.63,343.87 73.90,346.70 C74.17,349.53 74.48,353.45 74.80,357.00 C75.12,360.55 75.43,364.83 75.80,368.00 C76.17,371.17 76.55,373.83 77.00,376.00 C77.45,378.17 78.00,379.93 78.50,381.00 C79.00,382.07 79.75,382.17 80.00,382.40 Z" fill="#d45a78" stroke="#c8163c" stroke-width="0.9" fill-opacity="0.85" stroke-linejoin="round"/>
<path d="M67.50,382.40 C67.67,382.08 68.18,381.37 68.50,380.50 C68.82,379.63 69.05,378.70 69.40,377.20 C69.75,375.70 70.22,373.42 70.60,371.50 C70.98,369.58 71.30,368.12 71.70,365.70 C72.10,363.28 72.62,359.18 73.00,357.00 C73.38,354.82 73.75,353.47 74.00,352.60 C74.25,351.73 74.30,351.65 74.50,351.80 C74.70,351.95 74.95,352.47 75.20,353.50 C75.45,354.53 75.70,355.97 76.00,358.00 C76.30,360.03 76.67,363.37 77.00,365.70 C77.33,368.03 77.67,370.08 78.00,372.00 C78.33,373.92 78.63,375.73 79.00,377.20 C79.37,378.67 79.70,379.93 80.20,380.80 C80.70,381.67 81.70,382.13 82.00,382.40 Z" fill="#5a70ad" stroke="#2b4a90" stroke-width="0.9" fill-opacity="0.75" stroke-linejoin="round"/>
<path d="M66.00,382.40 C66.42,382.20 67.67,381.67 68.50,381.20 C69.33,380.73 70.22,379.97 71.00,379.60 C71.78,379.23 72.45,379.02 73.20,379.00 C73.95,378.98 74.70,379.17 75.50,379.50 C76.30,379.83 77.17,380.52 78.00,381.00 C78.83,381.48 80.08,382.17 80.50,382.40 Z" fill="#4f8a4a" stroke="#5aab3a" stroke-width="0.7" fill-opacity="0.55" stroke-linejoin="round"/>
<path d="M141.30,382.60 C141.55,382.03 142.28,381.20 142.80,379.20 C143.32,377.20 143.88,374.07 144.40,370.60 C144.92,367.13 145.45,362.47 145.90,358.40 C146.35,354.33 146.80,349.27 147.10,346.20 C147.40,343.13 147.53,341.47 147.70,340.00 C147.87,338.53 147.95,337.40 148.10,337.40 C148.25,337.40 148.42,338.53 148.60,340.00 C148.78,341.47 148.97,343.70 149.20,346.20 C149.43,348.70 149.70,352.03 150.00,355.00 C150.30,357.97 150.63,361.33 151.00,364.00 C151.37,366.67 151.73,368.92 152.20,371.00 C152.67,373.08 153.17,375.03 153.80,376.50 C154.43,377.97 155.00,378.92 156.00,379.80 C157.00,380.68 158.97,381.33 159.80,381.80 C160.63,382.27 160.80,382.47 161.00,382.60 Z" fill="#d45a78" stroke="#c8163c" stroke-width="0.9" fill-opacity="0.8" stroke-linejoin="round"/>
<path d="M145.60,382.60 C145.80,382.00 146.45,381.00 146.80,379.00 C147.15,377.00 147.35,374.03 147.70,370.60 C148.05,367.17 148.52,362.33 148.90,358.40 C149.28,354.47 149.72,349.57 150.00,347.00 C150.28,344.43 150.43,343.78 150.60,343.00 C150.77,342.22 150.85,342.13 151.00,342.30 C151.15,342.47 151.33,342.33 151.50,344.00 C151.67,345.67 151.72,348.88 152.00,352.30 C152.28,355.72 152.80,360.63 153.20,364.50 C153.60,368.37 154.05,372.92 154.40,375.50 C154.75,378.08 154.95,378.82 155.30,380.00 C155.65,381.18 156.30,382.17 156.50,382.60 Z" fill="#5a70ad" stroke="#2b4a90" stroke-width="0.9" fill-opacity="0.75" stroke-linejoin="round"/>
<path d="M135.30,382.60 C135.58,382.08 136.47,380.88 137.00,379.50 C137.53,378.12 138.00,376.13 138.50,374.30 C139.00,372.47 139.52,369.88 140.00,368.50 C140.48,367.12 140.97,366.08 141.40,366.00 C141.83,365.92 142.17,367.00 142.60,368.00 C143.03,369.00 143.52,370.50 144.00,372.00 C144.48,373.50 145.00,375.53 145.50,377.00 C146.00,378.47 146.45,379.87 147.00,380.80 C147.55,381.73 148.50,382.30 148.80,382.60 Z" fill="#a3d48a" stroke="#5aab3a" stroke-width="0.8" fill-opacity="0.6" stroke-linejoin="round"/>
<rect x="43.80" y="335.70" width="46.10" height="46.90" fill="none" stroke="#111" stroke-width="0.9" />
<rect x="119.70" y="336.50" width="45.90" height="46.30" fill="none" stroke="#111" stroke-width="0.9" />
<text x="26.30" y="361.00" font-size="7" text-anchor="middle" fill="#231f20" textLength="15.4" lengthAdjust="spacingAndGlyphs" transform="rotate(-90 26.30 361.00)" >Count</text>
<text x="100.30" y="359.60" font-size="7" text-anchor="middle" fill="#231f20" textLength="15.4" lengthAdjust="spacingAndGlyphs" transform="rotate(-90 100.30 359.60)" >Count</text>
<line x1="43.80" y1="398.80" x2="113.50" y2="398.80" stroke="#111" stroke-width="1.1" />
<path d="M117.6,398.8 L112.8,396.9 L112.8,400.7 Z" fill="#111" />
<text x="128.40" y="401.10" font-size="6.5" text-anchor="start" fill="#231f20" textLength="25.2" lengthAdjust="spacingAndGlyphs" >H3K9me3</text>
<rect x="168.30" y="343.00" width="17.80" height="7.40" fill="#a3d48a" stroke="#5aab3a" stroke-width="0.9" fill-opacity="0.75"/>
<text x="188.90" y="348.80" font-size="5.8" text-anchor="start" fill="#231f20" textLength="8.0" lengthAdjust="spacingAndGlyphs" >WT</text>
<rect x="168.30" y="355.80" width="17.80" height="7.70" fill="#d45a78" stroke="#c8163c" stroke-width="0.9" fill-opacity="0.75"/>
<text x="188.90" y="361.75" font-size="5.8" text-anchor="start" fill="#231f20" textLength="18.0" lengthAdjust="spacingAndGlyphs" >E<tspan font-size="75%" dy="0.7">μ</tspan><tspan dy="-0.7">-</tspan><tspan font-style="italic">Myc</tspan></text>
<rect x="168.30" y="368.80" width="17.80" height="7.40" fill="#5a70ad" stroke="#2b4a90" stroke-width="0.9" fill-opacity="0.75"/>
<text x="188.90" y="374.60" font-size="5.8" text-anchor="start" fill="#231f20" textLength="34.1" lengthAdjust="spacingAndGlyphs" ><tspan font-style="italic">Mnt</tspan><tspan font-size="65%" dy="-1.5">fl/fl</tspan><tspan dy="1.5"> E</tspan><tspan font-size="75%" dy="0.7">μ</tspan><tspan dy="-0.7">-</tspan><tspan font-style="italic">Myc/</tspan></text>
<text x="188.90" y="381.70" font-size="5.8" text-anchor="start" fill="#231f20" textLength="21.9" lengthAdjust="spacingAndGlyphs" ><tspan font-style="italic">Rag1Cre</tspan></text>
<text x="282.50" y="332.40" font-size="7.5" text-anchor="middle" fill="#231f20" >pro-B</text>
<text x="362.00" y="332.00" font-size="7.5" text-anchor="middle" fill="#231f20" >pre-B</text>
<line x1="263.40" y1="336.60" x2="263.40" y2="397.70" stroke="#231f20" stroke-width="1.05" />
<line x1="260.40" y1="339.45" x2="263.40" y2="339.45" stroke="#231f20" stroke-width="0.8" />
<text x="258.00" y="341.32" font-size="5.2" text-anchor="end" fill="#231f20" textLength="14.17" lengthAdjust="spacingAndGlyphs" >25000</text>
<line x1="260.40" y1="351.00" x2="263.40" y2="351.00" stroke="#231f20" stroke-width="0.8" />
<text x="258.00" y="352.87" font-size="5.2" text-anchor="end" fill="#231f20" textLength="14.17" lengthAdjust="spacingAndGlyphs" >20000</text>
<line x1="260.40" y1="362.55" x2="263.40" y2="362.55" stroke="#231f20" stroke-width="0.8" />
<text x="258.00" y="364.42" font-size="5.2" text-anchor="end" fill="#231f20" textLength="14.17" lengthAdjust="spacingAndGlyphs" >15000</text>
<line x1="260.40" y1="374.10" x2="263.40" y2="374.10" stroke="#231f20" stroke-width="0.8" />
<text x="258.00" y="375.97" font-size="5.2" text-anchor="end" fill="#231f20" textLength="14.17" lengthAdjust="spacingAndGlyphs" >10000</text>
<line x1="260.40" y1="385.65" x2="263.40" y2="385.65" stroke="#231f20" stroke-width="0.8" />
<text x="258.00" y="387.52" font-size="5.2" text-anchor="end" fill="#231f20" textLength="11.34" lengthAdjust="spacingAndGlyphs" >5000</text>
<line x1="260.40" y1="397.20" x2="263.40" y2="397.20" stroke="#231f20" stroke-width="0.8" />
<text x="258.00" y="399.07" font-size="5.2" text-anchor="end" fill="#231f20" textLength="2.83" lengthAdjust="spacingAndGlyphs" >0</text>
<line x1="262.90" y1="397.30" x2="301.70" y2="397.30" stroke="#231f20" stroke-width="1.1" />
<line x1="270.90" y1="397.30" x2="270.90" y2="399.90" stroke="#231f20" stroke-width="0.7" />
<line x1="282.50" y1="397.30" x2="282.50" y2="399.90" stroke="#231f20" stroke-width="0.7" />
<line x1="294.10" y1="397.30" x2="294.10" y2="399.90" stroke="#231f20" stroke-width="0.7" />
<rect x="267.40" y="373.00" width="7.10" height="24.30" fill="#cbe4b8" stroke="#b2d59a" stroke-width="0.6" />
<line x1="270.95" y1="357.50" x2="270.95" y2="388.50" stroke="#5fb13f" stroke-width="0.65" />
<line x1="269.35" y1="357.50" x2="272.55" y2="357.50" stroke="#5fb13f" stroke-width="0.75" />
<line x1="269.35" y1="388.50" x2="272.55" y2="388.50" stroke="#5fb13f" stroke-width="0.75" />
<circle cx="270.95" cy="359.50" r="0.95" fill="#5fb13f"/>
<circle cx="270.95" cy="363.00" r="0.95" fill="#5fb13f"/>
<circle cx="270.95" cy="389.50" r="0.95" fill="#5fb13f"/>
<circle cx="270.95" cy="386.00" r="0.95" fill="#5fb13f"/>
<rect x="279.10" y="368.20" width="6.90" height="29.10" fill="#dba596" stroke="#cf9080" stroke-width="0.6" />
<line x1="282.55" y1="356.50" x2="282.55" y2="378.50" stroke="#bf0d2e" stroke-width="0.65" />
<line x1="280.95" y1="356.50" x2="284.15" y2="356.50" stroke="#bf0d2e" stroke-width="0.75" />
<line x1="280.95" y1="378.50" x2="284.15" y2="378.50" stroke="#bf0d2e" stroke-width="0.75" />
<circle cx="282.55" cy="356.50" r="0.95" fill="#bf0d2e"/>
<circle cx="282.55" cy="367.00" r="0.95" fill="#bf0d2e"/>
<circle cx="282.55" cy="379.00" r="0.95" fill="#bf0d2e"/>
<rect x="290.50" y="362.00" width="7.10" height="35.30" fill="#a4abcf" stroke="#8f98c4" stroke-width="0.6" />
<line x1="294.05" y1="351.20" x2="294.05" y2="371.10" stroke="#2d4f96" stroke-width="0.65" />
<line x1="292.45" y1="351.20" x2="295.65" y2="351.20" stroke="#2d4f96" stroke-width="0.75" />
<line x1="292.45" y1="371.10" x2="295.65" y2="371.10" stroke="#2d4f96" stroke-width="0.75" />
<circle cx="294.05" cy="351.50" r="0.95" fill="#2d4f96"/>
<circle cx="294.05" cy="359.50" r="0.95" fill="#2d4f96"/>
<circle cx="294.05" cy="370.50" r="0.95" fill="#2d4f96"/>
<text x="240.20" y="367.70" font-size="6.3" text-anchor="middle" fill="#231f20" textLength="37.6" lengthAdjust="spacingAndGlyphs" transform="rotate(-90 240.20 367.70)" >MFI H3K9me3</text>
<line x1="343.00" y1="336.60" x2="343.00" y2="397.70" stroke="#231f20" stroke-width="1.05" />
<line x1="340.00" y1="339.20" x2="343.00" y2="339.20" stroke="#231f20" stroke-width="0.8" />
<text x="337.60" y="341.07" font-size="5.2" text-anchor="end" fill="#231f20" textLength="14.17" lengthAdjust="spacingAndGlyphs" >20000</text>
<line x1="340.00" y1="353.70" x2="343.00" y2="353.70" stroke="#231f20" stroke-width="0.8" />
<text x="337.60" y="355.57" font-size="5.2" text-anchor="end" fill="#231f20" textLength="14.17" lengthAdjust="spacingAndGlyphs" >15000</text>
<line x1="340.00" y1="368.20" x2="343.00" y2="368.20" stroke="#231f20" stroke-width="0.8" />
<text x="337.60" y="370.07" font-size="5.2" text-anchor="end" fill="#231f20" textLength="14.17" lengthAdjust="spacingAndGlyphs" >10000</text>
<line x1="340.00" y1="382.70" x2="343.00" y2="382.70" stroke="#231f20" stroke-width="0.8" />
<text x="337.60" y="384.57" font-size="5.2" text-anchor="end" fill="#231f20" textLength="11.34" lengthAdjust="spacingAndGlyphs" >5000</text>
<line x1="340.00" y1="397.20" x2="343.00" y2="397.20" stroke="#231f20" stroke-width="0.8" />
<text x="337.60" y="399.07" font-size="5.2" text-anchor="end" fill="#231f20" textLength="2.83" lengthAdjust="spacingAndGlyphs" >0</text>
<line x1="342.50" y1="397.30" x2="381.50" y2="397.30" stroke="#231f20" stroke-width="1.1" />
<line x1="350.80" y1="397.30" x2="350.80" y2="399.90" stroke="#231f20" stroke-width="0.7" />
<line x1="362.30" y1="397.30" x2="362.30" y2="399.90" stroke="#231f20" stroke-width="0.7" />
<line x1="374.10" y1="397.30" x2="374.10" y2="399.90" stroke="#231f20" stroke-width="0.7" />
<rect x="347.40" y="377.00" width="7.10" height="20.30" fill="#cbe4b8" stroke="#b2d59a" stroke-width="0.6" />
<line x1="350.95" y1="371.50" x2="350.95" y2="381.00" stroke="#5fb13f" stroke-width="0.65" />
<line x1="349.35" y1="371.50" x2="352.55" y2="371.50" stroke="#5fb13f" stroke-width="0.75" />
<line x1="349.35" y1="381.00" x2="352.55" y2="381.00" stroke="#5fb13f" stroke-width="0.75" />
<circle cx="350.95" cy="371.50" r="0.95" fill="#5fb13f"/>
<circle cx="350.95" cy="377.00" r="0.95" fill="#5fb13f"/>
<circle cx="350.95" cy="381.00" r="0.95" fill="#5fb13f"/>
<rect x="358.80" y="363.00" width="7.10" height="34.30" fill="#dba596" stroke="#cf9080" stroke-width="0.6" />
<line x1="362.35" y1="349.30" x2="362.35" y2="375.80" stroke="#bf0d2e" stroke-width="0.65" />
<line x1="360.75" y1="349.30" x2="363.95" y2="349.30" stroke="#bf0d2e" stroke-width="0.75" />
<line x1="360.75" y1="375.80" x2="363.95" y2="375.80" stroke="#bf0d2e" stroke-width="0.75" />
<circle cx="362.35" cy="349.50" r="0.95" fill="#bf0d2e"/>
<circle cx="362.35" cy="366.70" r="0.95" fill="#bf0d2e"/>
<circle cx="362.35" cy="373.60" r="0.95" fill="#bf0d2e"/>
<rect x="370.50" y="365.00" width="7.30" height="32.30" fill="#a4abcf" stroke="#8f98c4" stroke-width="0.6" />
<line x1="374.15" y1="353.80" x2="374.15" y2="376.80" stroke="#2d4f96" stroke-width="0.65" />
<line x1="372.55" y1="353.80" x2="375.75" y2="353.80" stroke="#2d4f96" stroke-width="0.75" />
<line x1="372.55" y1="376.80" x2="375.75" y2="376.80" stroke="#2d4f96" stroke-width="0.75" />
<circle cx="374.15" cy="353.80" r="0.95" fill="#2d4f96"/>
<circle cx="374.15" cy="362.50" r="0.95" fill="#2d4f96"/>
<circle cx="374.15" cy="376.50" r="0.95" fill="#2d4f96"/>
<text x="318.70" y="366.60" font-size="6.3" text-anchor="middle" fill="#231f20" textLength="38.4" lengthAdjust="spacingAndGlyphs" transform="rotate(-90 318.70 366.60)" >MFI H3K9me3</text>
</svg></body></html>
